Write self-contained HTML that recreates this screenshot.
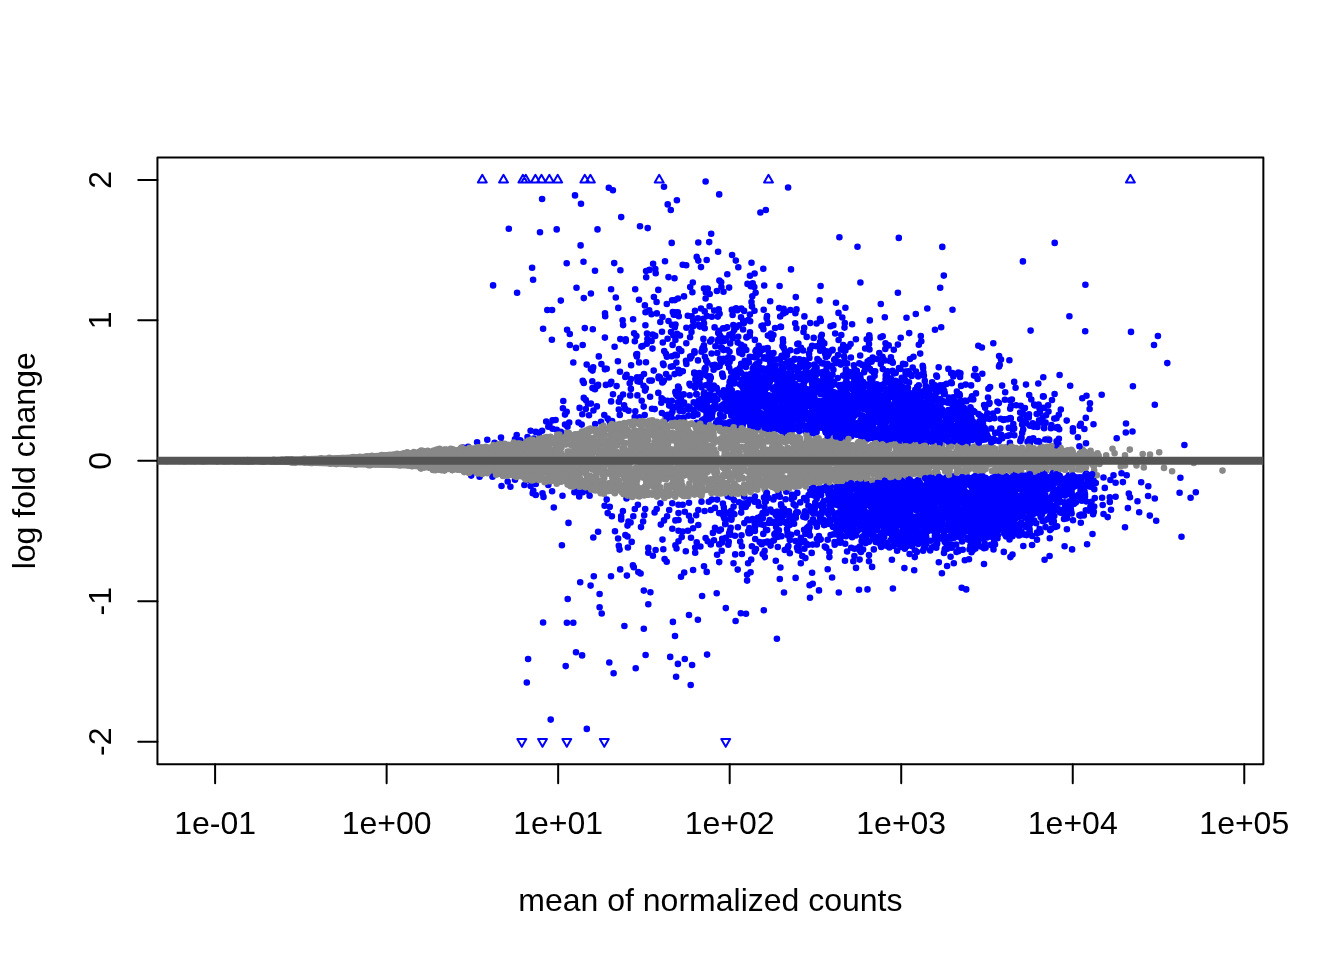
<!DOCTYPE html>
<html lang="en"><head><meta charset="utf-8"><title>MA plot</title>
<style>html,body{margin:0;padding:0;background:#fff}svg{display:block;will-change:transform}
.g,.b{fill:none;stroke-width:6.6;stroke-linecap:round}.g{stroke:#888}.b{stroke:#00f}</style></head>
<body><svg width="1344" height="960" viewBox="0 0 1344 960">
<rect width="1344" height="960" fill="#fff"/>
<defs><clipPath id="c"><rect x="157.44" y="157.44" width="1105.92" height="606.72"/></clipPath></defs>
<g clip-path="url(#c)">
<polygon points="165.0,457.9 180.0,457.8 195.0,457.7 210.0,457.7 225.0,457.6 240.0,457.5 255.0,457.4 270.0,457.1 285.0,456.7 300.0,456.2 315.0,455.7 330.0,455.2 345.0,454.7 360.0,454.1 375.0,453.0 390.0,451.8 405.0,450.6 420.0,449.5 435.0,448.5 450.0,447.5 465.0,446.4 480.0,445.3 495.0,444.2 510.0,442.2 525.0,439.9 540.0,437.5 540.0,482.0 525.0,479.9 510.0,477.7 495.0,475.7 480.0,474.4 465.0,473.1 450.0,471.8 435.0,470.6 420.0,469.4 405.0,468.5 390.0,468.1 375.0,467.7 360.0,467.4 345.0,466.9 330.0,466.4 315.0,465.9 300.0,465.4 285.0,464.9 270.0,464.4 255.0,464.1 240.0,464.0 225.0,463.9 210.0,463.8 195.0,463.8 180.0,463.7 165.0,463.6" fill="#888"/>
<path class="g" d="M970.8 462.6h0M707.7 489.1h0M545.2 463.4h0M876.2 465.2h0M465.2 454.9h0M641.1 467.4h0M455.6 454.3h0M578.2 443.8h0M1076.7 457.7h0M819.0 458.3h0M642.0 489.3h0M897.7 444.5h0M554.3 464.1h0M881.6 460.2h0M792.4 442.2h0M633.0 483.9h0M612.4 477.9h0M795.8 460.2h0M753.3 468.5h0M840.7 461.7h0M722.9 462.7h0M881.0 449.0h0M775.0 487.9h0M569.8 451.5h0M678.1 449.0h0M251.0 460.8h0M1007.0 457.2h0M778.8 484.8h0M304.9 461.9h0M668.5 486.2h0M779.5 445.4h0M779.4 455.7h0M865.5 479.8h0M866.4 468.1h0M626.3 463.8h0M653.6 458.1h0M770.5 480.3h0M618.6 480.4h0M455.8 458.3h0M484.4 463.2h0M920.1 453.6h0M712.0 479.6h0M918.5 453.1h0M975.9 465.3h0M912.6 450.0h0M964.4 463.4h0M858.4 444.7h0M822.6 442.6h0M734.5 446.8h0M963.4 473.1h0M602.0 481.1h0M589.8 457.7h0M356.5 461.4h0M732.8 444.9h0M800.5 466.8h0M988.5 451.4h0M797.0 476.0h0M685.5 462.9h0M694.8 466.5h0M1063.3 464.8h0M765.1 490.0h0M273.8 460.8h0M671.0 476.9h0M567.2 472.8h0M795.9 461.1h0M726.6 486.6h0M862.6 466.7h0M468.7 454.1h0M503.5 450.0h0M772.8 476.6h0M646.2 438.1h0M775.4 438.9h0M733.3 446.1h0M768.7 467.5h0M634.2 436.3h0M622.0 461.1h0M975.3 454.3h0M504.8 473.5h0M555.8 467.5h0M808.3 453.3h0M803.6 467.3h0M764.6 489.0h0M467.8 458.2h0M649.1 480.0h0M749.7 487.3h0M602.7 433.0h0M769.0 484.4h0M609.4 451.4h0M745.3 461.9h0M1009.8 454.9h0M668.7 461.8h0M596.4 442.8h0M989.4 452.2h0M665.9 453.4h0M551.7 452.8h0M495.1 459.5h0M680.3 491.7h0M814.5 450.3h0M542.7 447.5h0M524.4 443.5h0M454.4 457.5h0M765.3 453.4h0M496.1 449.2h0M353.7 461.3h0M1070.9 462.9h0M821.6 467.5h0M501.2 473.8h0M1025.5 457.3h0M902.9 454.5h0M312.1 460.9h0M807.7 465.8h0M1000.8 452.7h0M644.8 487.4h0M816.7 473.0h0M335.9 460.9h0M536.2 470.4h0M978.6 452.0h0M532.3 468.2h0M423.1 464.0h0M483.5 452.1h0M739.9 468.2h0M497.6 470.1h0M681.0 468.5h0M779.0 474.7h0M647.8 451.4h0M586.2 472.6h0M700.2 477.9h0M775.7 451.3h0M1043.5 452.7h0M711.1 487.5h0M1065.7 451.7h0M803.3 451.2h0M229.6 460.3h0M739.7 451.9h0M975.2 463.3h0M633.9 480.5h0M602.0 444.3h0M570.8 435.3h0M698.4 440.4h0M886.0 445.5h0M1222.5 470.6h0M496.8 473.4h0M483.5 455.8h0M807.3 480.1h0M626.2 435.3h0M588.9 467.3h0M1073.8 457.4h0M448.1 467.4h0M655.4 448.3h0M982.0 460.1h0M1072.5 457.1h0M606.3 452.0h0M170.8 460.8h0M935.5 472.0h0M715.3 477.3h0M845.4 473.1h0M962.3 448.2h0M790.7 465.6h0M963.0 453.6h0M848.4 466.4h0M653.6 432.2h0M665.9 475.1h0M439.0 456.0h0M979.6 462.7h0M914.3 472.0h0M612.2 486.6h0M555.4 447.7h0M856.6 464.1h0M508.4 472.9h0M747.4 463.4h0M746.4 455.0h0M930.0 466.5h0M630.7 454.2h0M595.6 480.8h0M532.0 451.3h0M574.7 435.3h0M532.7 466.4h0M494.8 472.9h0M665.8 478.1h0M658.9 449.6h0M969.0 457.8h0M886.6 455.3h0M873.1 465.1h0M259.9 461.1h0M461.7 460.5h0M628.6 434.4h0M826.8 481.3h0M792.8 436.3h0M236.2 460.8h0M363.9 458.5h0M930.1 453.8h0M659.7 444.4h0M352.8 463.1h0M702.3 442.7h0M852.9 458.1h0M1019.8 450.4h0M910.3 462.6h0M646.7 472.2h0M1047.0 446.8h0M994.9 460.6h0M471.6 465.2h0M635.7 435.5h0M751.2 451.8h0M589.0 450.2h0M725.4 446.5h0M887.9 465.4h0M839.8 470.7h0M897.9 468.0h0M603.1 489.5h0M708.2 446.6h0M484.9 458.6h0M470.2 453.0h0M846.5 480.7h0M716.9 464.1h0M622.8 492.6h0M932.2 454.8h0M973.1 460.1h0M554.9 449.9h0M760.9 452.9h0M792.3 466.6h0M502.9 473.1h0M1035.0 453.2h0M678.5 459.8h0M889.5 477.6h0M445.5 449.7h0M633.0 473.8h0M439.3 465.9h0M882.1 475.1h0M832.6 443.5h0M261.4 460.5h0M603.7 437.7h0M852.4 469.6h0M926.9 474.3h0M941.7 462.9h0M903.1 457.1h0M695.6 440.0h0M557.2 445.5h0M534.8 468.1h0M1073.8 461.5h0M718.4 478.4h0M715.0 441.8h0M615.6 441.1h0M622.3 454.3h0M862.7 462.6h0M917.7 462.2h0M1004.3 450.4h0M966.4 462.9h0M913.1 456.2h0M609.3 440.6h0M218.9 460.4h0M842.1 479.9h0M653.4 485.3h0M907.1 471.0h0M537.8 463.1h0M700.7 440.8h0M880.4 451.3h0M172.7 460.5h0M698.7 457.3h0M559.1 472.5h0M638.2 441.1h0M851.8 445.3h0M1036.6 466.3h0M835.3 449.2h0M777.3 440.7h0M889.2 448.7h0M896.4 448.3h0M620.4 433.5h0M856.6 451.4h0M927.8 467.3h0M459.5 464.5h0M1136.5 465.4h0M1033.3 463.9h0M1025.6 454.8h0M778.5 467.1h0M657.2 460.6h0M731.1 476.5h0M932.1 460.4h0M481.5 459.2h0M725.1 439.0h0M996.2 453.1h0M603.6 483.5h0M681.1 459.5h0M846.5 442.5h0M456.5 466.6h0M543.3 444.4h0M285.1 460.1h0M816.8 465.5h0M595.6 466.4h0M470.4 470.7h0M833.1 451.2h0M769.6 479.4h0M608.1 454.0h0M962.0 461.2h0M820.1 449.5h0M677.5 492.6h0M727.8 442.4h0M548.7 446.9h0M447.0 451.1h0M400.5 465.3h0M937.7 474.2h0M796.7 457.2h0M969.7 468.1h0M350.3 460.3h0M783.1 434.1h0M948.3 464.6h0M999.4 460.6h0M195.5 460.7h0M795.2 476.3h0M929.7 459.8h0M974.5 446.6h0M686.5 427.5h0M1013.5 460.6h0M989.4 449.0h0M491.7 467.6h0M871.3 458.5h0M1058.0 470.4h0M932.6 451.4h0M679.9 456.9h0M792.1 464.9h0M312.4 463.0h0M548.2 442.7h0M1067.3 461.6h0M764.7 450.5h0M187.1 460.4h0M423.4 465.9h0M692.7 454.5h0M548.6 453.3h0M1084.6 463.8h0M490.2 449.2h0M829.6 478.5h0M1057.9 458.8h0M755.6 462.2h0M636.5 468.2h0M617.7 436.0h0M550.0 461.5h0M721.9 428.3h0M820.7 441.9h0M467.2 458.1h0M963.8 470.7h0M752.0 463.7h0M1054.5 459.5h0M901.4 458.7h0M790.5 452.1h0M321.3 461.3h0M785.3 439.1h0M491.0 460.7h0M735.5 468.2h0M1020.7 450.9h0M479.8 461.2h0M768.4 475.0h0M566.5 457.0h0M1039.2 469.8h0M1046.6 449.3h0M498.3 452.6h0M631.5 454.4h0M867.2 446.8h0M979.2 464.6h0M645.1 471.7h0M862.2 460.8h0M497.5 474.0h0M276.2 460.7h0M635.2 471.1h0M883.4 474.5h0M793.8 439.3h0M1007.9 462.1h0M840.1 474.2h0M456.0 453.3h0M785.1 467.1h0M598.1 481.7h0M489.1 465.6h0M815.6 438.9h0M702.2 467.6h0M897.8 451.8h0M1059.1 455.5h0M534.5 455.2h0M394.9 462.3h0M528.0 448.0h0M665.6 461.1h0M1094.2 470.6h0M995.3 468.5h0M442.6 460.3h0M482.0 470.9h0M790.9 473.4h0M769.4 452.8h0M805.4 463.7h0M499.9 445.4h0M803.3 476.7h0M1012.0 447.3h0M777.5 485.3h0M810.2 481.2h0M1055.2 465.3h0M836.2 453.9h0M483.1 469.5h0M701.1 484.4h0M840.7 462.7h0M564.5 474.9h0M829.1 467.3h0M554.0 457.2h0M392.7 456.1h0M474.3 463.9h0M1056.3 466.5h0M731.2 475.8h0M629.5 480.1h0M339.3 458.4h0M786.3 465.7h0M472.1 461.8h0M716.3 477.7h0M976.1 457.8h0M512.1 457.8h0M786.1 483.8h0M799.2 471.4h0M829.9 442.1h0M524.6 468.6h0M827.9 455.6h0M843.7 472.4h0M1035.6 470.8h0M740.8 489.2h0M571.6 459.2h0M490.3 458.1h0M514.2 473.4h0M597.8 482.6h0M848.8 457.4h0M310.6 463.0h0M1036.0 470.0h0M660.0 426.4h0M921.4 449.9h0M940.4 445.6h0M399.1 464.0h0M883.2 464.0h0M771.2 458.2h0M742.7 466.5h0M1053.7 466.2h0M1016.2 454.7h0M457.1 469.6h0M776.7 474.0h0M866.4 465.2h0M534.4 447.7h0M872.5 472.0h0M756.4 469.6h0M475.3 453.6h0M1043.6 462.7h0M571.7 453.5h0M663.6 428.2h0M513.8 464.4h0M1041.4 446.5h0M760.4 485.2h0M703.1 467.5h0M838.8 442.5h0M756.9 466.6h0M647.6 461.3h0M1052.7 459.9h0M217.3 460.6h0M379.3 464.2h0M764.5 467.7h0M1047.9 438.8h0M922.9 476.7h0M460.6 462.2h0M945.2 450.7h0M676.7 481.8h0M789.6 452.0h0M1091.1 458.0h0M460.1 461.0h0M969.6 461.1h0M665.4 493.6h0M741.2 446.9h0M720.4 426.8h0M594.9 480.8h0M492.6 458.1h0M904.7 453.5h0M687.2 442.7h0M392.1 463.1h0M1016.1 459.1h0M824.8 479.8h0M644.6 490.2h0M1015.8 454.5h0M648.1 423.0h0M759.7 469.6h0M802.7 455.3h0M786.5 480.6h0M684.9 439.2h0M662.5 435.6h0M611.3 439.8h0M593.9 478.7h0M846.1 468.6h0M785.5 440.4h0M783.8 452.1h0M647.4 481.5h0M763.3 483.2h0M581.3 454.1h0M996.4 453.7h0M859.2 453.9h0M760.6 444.2h0M576.4 472.3h0M997.2 472.5h0M438.0 459.8h0M797.0 476.0h0M614.9 458.1h0M694.0 455.8h0M886.6 450.4h0M624.1 432.3h0M647.6 471.0h0M789.0 455.2h0M1035.7 458.9h0M859.5 466.5h0M788.8 489.0h0M684.3 421.0h0M655.3 430.4h0M544.7 452.9h0M1061.3 461.9h0M462.6 452.9h0M843.0 450.1h0M905.8 476.6h0M647.9 477.5h0M702.1 487.4h0M558.5 451.6h0M731.6 436.7h0M369.1 460.3h0M592.4 453.8h0M922.5 473.2h0M1055.2 465.0h0M272.0 461.6h0M548.6 472.5h0M359.5 463.0h0M900.6 449.5h0M750.6 432.7h0M649.7 462.4h0M664.9 445.7h0M819.3 482.9h0M832.0 456.7h0M651.0 493.7h0M959.8 456.7h0M1028.3 449.6h0M602.4 480.6h0M653.1 452.8h0M451.1 466.7h0M979.0 446.3h0M863.9 466.9h0M246.4 460.2h0M1004.9 462.2h0M541.3 460.3h0M588.1 487.1h0M617.1 445.3h0M506.7 472.0h0M677.2 460.9h0M747.3 487.3h0M498.1 459.7h0M800.5 444.0h0M348.4 463.4h0M550.5 451.1h0M782.3 470.9h0M637.2 461.4h0M754.1 436.5h0M583.2 452.2h0M303.8 460.7h0M444.3 464.0h0M653.9 487.3h0M516.9 475.5h0M480.7 465.4h0M755.0 468.7h0M260.3 460.2h0M876.8 442.6h0M821.2 451.2h0M666.8 485.6h0M943.4 456.4h0M519.3 463.7h0M273.6 461.0h0M865.4 462.1h0M731.8 461.8h0M770.4 462.9h0M596.2 459.2h0M853.2 473.9h0M827.6 476.4h0M160.9 460.7h0M865.6 474.3h0M1038.3 464.7h0M678.8 448.0h0M696.8 476.4h0M453.3 461.7h0M464.2 467.7h0M983.7 463.6h0M377.5 459.6h0M487.4 468.3h0M668.9 439.6h0M383.5 457.7h0M760.3 468.2h0M667.3 442.3h0M784.1 463.3h0M813.4 479.2h0"/>
<path class="b" d="M852.9 509.8h0M971.9 423.5h0M763.8 383.0h0M962.5 498.9h0M815.4 414.5h0M968.9 497.7h0M493.1 285.4h0M725.2 524.1h0M816.9 526.7h0M944.1 514.1h0M922.3 521.9h0M1028.8 417.4h0M900.3 505.8h0M784.3 417.4h0M883.2 399.3h0M912.9 416.8h0M929.0 388.4h0M776.2 374.5h0M738.9 412.5h0M913.3 438.8h0M870.7 421.6h0M747.7 362.1h0M715.5 404.6h0M949.8 513.7h0M931.1 489.2h0M942.2 400.8h0M823.1 375.8h0M943.9 413.8h0M854.4 548.8h0M924.9 527.7h0M771.4 424.4h0M886.2 542.8h0M839.4 497.7h0M930.5 481.3h0M823.7 387.6h0M938.0 421.9h0M683.0 418.5h0M690.5 385.5h0M543.1 622.5h0M678.5 504.8h0M979.5 430.6h0M969.1 417.1h0M896.1 540.8h0M775.9 515.0h0M904.6 506.6h0M949.4 504.8h0M829.8 492.9h0M827.5 423.5h0M925.2 546.3h0M625.4 535.0h0M904.4 568.1h0M894.0 535.4h0M722.0 348.1h0M851.1 397.9h0M931.3 492.9h0M941.0 519.7h0M1020.3 441.1h0M911.9 522.7h0M661.6 398.2h0M875.3 406.4h0M942.2 519.3h0M925.5 491.8h0M1021.1 476.8h0M787.0 352.9h0M1064.5 502.2h0M986.4 431.7h0M1034.4 488.9h0M938.3 521.6h0M885.5 485.5h0M1018.1 509.5h0M1025.1 483.2h0M944.0 495.8h0M918.5 482.4h0M831.7 432.7h0M1042.8 498.0h0M867.3 403.7h0M678.5 541.2h0M1081.5 477.8h0M949.6 546.5h0M814.4 397.4h0M1026.2 491.3h0M813.6 404.9h0M855.7 413.1h0M883.7 528.8h0M1069.4 501.3h0M909.4 498.5h0M947.9 530.0h0M1015.7 477.2h0M747.1 398.6h0M838.7 420.4h0M680.0 335.5h0M747.1 580.6h0M909.8 535.3h0M1032.7 494.8h0M940.5 416.0h0M698.3 260.6h0M822.1 341.1h0M780.9 401.6h0M891.0 482.1h0M797.1 413.5h0M968.3 513.0h0M920.6 525.0h0M758.8 505.8h0M917.3 387.1h0M1054.8 492.3h0M768.2 382.0h0M942.4 486.2h0M684.1 404.6h0M936.7 389.3h0M949.5 538.3h0M877.0 359.0h0M816.1 432.3h0M861.9 416.4h0M780.5 429.0h0M814.8 508.3h0M898.1 494.2h0M938.4 511.7h0M815.7 385.5h0M796.5 351.2h0M984.1 506.4h0M918.3 506.6h0M867.0 495.4h0M941.4 522.8h0M614.6 346.8h0M745.8 413.0h0M831.2 507.0h0M987.1 435.0h0M1025.0 517.6h0M882.3 532.7h0M852.9 389.5h0M645.2 509.0h0M1045.7 486.9h0M939.7 424.4h0M897.0 421.1h0M837.5 414.9h0M722.9 514.2h0M788.1 417.9h0M1060.9 502.0h0M873.8 505.6h0M682.8 371.2h0M1180.4 477.7h0M879.9 411.8h0M995.4 524.0h0M970.4 540.3h0M981.2 537.9h0M901.7 418.4h0M688.4 415.8h0M765.7 428.4h0M769.9 379.7h0M840.8 501.3h0M905.9 537.0h0M714.1 395.9h0M626.5 498.5h0M1087.0 476.0h0M894.8 522.3h0M1039.2 477.7h0M806.2 416.4h0M914.2 487.5h0M946.2 429.1h0M890.9 504.9h0M757.5 424.2h0M861.1 510.8h0M957.0 411.3h0M959.9 439.5h0M1126.7 475.2h0M969.0 498.2h0M709.7 413.1h0M855.5 523.0h0M913.8 534.2h0M786.6 379.6h0M938.6 491.8h0M955.0 523.8h0M1025.5 481.5h0M829.5 394.4h0M923.2 512.2h0M981.8 417.0h0M978.6 523.0h0M1181.5 536.7h0M1059.6 375.0h0M955.0 506.4h0M879.6 523.6h0M1195.8 492.3h0M710.4 415.4h0M901.7 505.6h0M894.2 439.0h0M719.6 366.2h0M936.3 487.1h0M782.6 389.4h0M902.4 425.1h0M762.7 369.8h0M793.4 420.2h0M894.9 503.1h0M787.8 418.2h0M876.3 490.1h0M816.6 431.9h0M1044.5 520.7h0M875.8 489.4h0M746.7 376.7h0M849.9 494.3h0M1015.1 480.6h0M793.8 369.7h0M914.9 441.9h0M766.8 412.3h0M712.4 365.3h0M942.0 487.2h0M999.7 490.7h0M892.2 425.7h0M881.2 546.9h0M862.2 488.2h0M818.9 536.1h0M967.6 411.6h0M926.1 504.2h0M951.0 495.0h0M1017.2 488.2h0M851.5 513.9h0M773.9 399.6h0M812.7 583.8h0M933.8 481.5h0M1032.8 423.2h0M916.1 428.2h0M901.0 500.5h0M945.9 517.7h0M897.1 434.9h0M891.4 479.9h0M918.6 409.1h0M789.9 381.2h0M1066.8 491.6h0M1005.3 479.4h0M799.2 400.3h0M885.8 415.4h0M953.0 432.7h0M748.2 404.3h0M843.2 522.3h0M882.7 336.2h0M899.0 409.7h0M744.2 400.7h0M910.8 529.8h0M957.1 498.4h0M749.4 413.0h0M912.7 521.3h0M875.5 393.1h0M645.8 388.3h0M779.8 515.3h0M930.9 491.4h0M903.9 409.6h0M827.1 419.0h0M875.9 393.1h0M725.7 393.6h0M1002.8 495.9h0M956.1 410.5h0M955.9 530.7h0M952.5 523.3h0M922.8 418.3h0M972.5 497.8h0M1154.8 404.8h0M727.9 397.9h0M1149.8 515.6h0M841.4 492.9h0M1039.4 492.3h0M1010.4 557.1h0M914.3 481.8h0M794.3 367.1h0M533.1 279.8h0M880.1 489.3h0M999.6 504.8h0M1042.9 495.3h0M952.9 511.3h0M978.2 480.8h0M799.2 421.2h0M894.1 543.4h0M961.7 441.2h0M756.5 364.0h0M915.8 314.0h0M975.8 508.9h0M735.0 535.8h0M871.2 430.6h0M817.5 426.1h0M948.4 496.8h0M889.5 435.0h0M1042.1 513.7h0M1064.4 489.7h0M1058.4 444.0h0M987.2 496.0h0M692.8 282.5h0M903.2 388.3h0M905.4 498.5h0M590.9 403.6h0M916.5 484.2h0M905.2 481.6h0M805.4 558.1h0M962.7 500.4h0M813.4 410.7h0M872.0 484.7h0M954.9 537.2h0M1005.5 476.1h0M781.7 368.7h0M1065.0 495.6h0M849.5 419.0h0M923.9 519.6h0M732.0 396.5h0M845.8 372.6h0M810.5 490.8h0M920.9 415.5h0M993.0 496.0h0M978.1 513.3h0M1090.0 403.3h0M765.8 210.0h0M783.3 397.9h0M777.7 376.3h0M806.5 418.2h0M797.3 344.0h0M941.8 440.7h0M750.1 423.2h0M863.5 507.2h0M830.1 502.4h0M1039.1 422.2h0M906.5 402.3h0M974.3 506.7h0M1026.6 491.4h0M845.0 560.8h0M845.9 406.5h0M1027.5 441.7h0M1028.5 520.7h0M882.8 505.4h0M746.6 390.3h0M1121.5 473.3h0M763.8 610.2h0M873.6 402.3h0M898.8 516.9h0M909.9 403.7h0M767.8 418.6h0M833.3 494.2h0M909.0 496.4h0M912.9 435.5h0M849.3 405.0h0M715.4 400.5h0M1038.9 492.1h0M850.6 408.4h0M920.9 409.9h0M918.2 479.9h0M834.6 513.6h0M993.1 493.3h0M769.2 424.1h0M797.5 427.4h0M906.9 422.7h0M915.4 406.6h0M995.3 532.8h0M944.1 385.1h0M890.1 393.9h0M883.3 431.0h0M947.1 566.0h0M920.4 417.8h0M724.4 518.5h0M576.0 652.3h0M902.1 537.1h0M551.9 339.8h0M740.8 613.3h0M898.8 509.0h0M552.1 310.0h0M804.4 316.4h0M867.4 398.0h0M1048.1 405.3h0M1051.2 528.7h0M915.8 426.5h0M784.0 402.7h0M921.0 398.8h0M922.8 488.1h0M908.6 415.1h0M787.9 414.1h0M948.2 512.7h0M902.0 408.8h0M894.3 540.9h0M1003.8 526.9h0M597.3 386.0h0M974.4 541.5h0M943.9 511.4h0M991.6 482.2h0M782.1 404.6h0M663.6 365.1h0M1020.2 412.6h0M775.1 421.9h0M1071.6 493.4h0M804.4 513.8h0M849.9 419.2h0M951.3 430.5h0M812.1 572.7h0M815.0 428.5h0M1070.7 508.6h0M882.1 418.0h0M864.0 509.0h0M877.6 503.1h0M670.8 210.0h0M779.8 579.0h0M880.3 417.0h0M905.1 400.4h0M947.2 481.5h0M823.3 402.9h0M923.8 548.8h0M876.6 496.7h0M914.2 433.6h0M932.9 401.3h0M939.9 422.6h0M764.2 285.5h0M757.1 370.7h0M860.3 515.0h0M942.3 246.9h0M917.3 501.7h0M904.8 548.8h0M589.0 415.2h0M880.8 494.0h0M926.2 537.0h0M1037.2 533.2h0M766.6 407.0h0M888.1 493.0h0M1053.0 493.6h0M929.3 504.8h0M963.9 529.7h0M950.7 487.7h0M868.1 521.8h0M664.6 559.0h0M813.6 491.7h0M925.0 436.3h0M866.9 486.5h0M757.9 517.7h0M754.2 388.5h0M852.1 426.2h0M841.7 418.6h0M873.5 416.9h0M819.1 413.8h0M961.4 489.5h0M946.2 543.2h0M975.2 369.1h0M1000.3 428.6h0M806.9 377.0h0M809.4 357.9h0M902.4 414.0h0M853.6 521.5h0M704.7 328.3h0M962.4 517.9h0M999.9 511.6h0M682.7 531.5h0M587.9 403.8h0M986.7 495.4h0M764.3 382.5h0M765.8 501.4h0M1050.5 516.2h0M897.8 525.4h0M976.0 393.4h0M733.6 408.4h0M756.8 394.4h0M683.4 417.5h0M859.2 502.4h0M684.8 659.0h0M1000.8 488.6h0M1042.7 511.3h0M707.7 541.2h0M695.4 379.7h0M910.0 516.4h0M878.6 523.2h0M961.7 587.7h0M671.8 356.2h0M1019.1 535.5h0M789.3 417.4h0M883.7 496.8h0M1156.2 520.8h0M611.0 576.2h0M711.2 233.8h0M838.8 592.5h0M985.5 494.8h0M895.4 506.4h0M627.5 525.6h0M978.6 485.0h0M931.9 421.3h0M1013.6 532.6h0M775.3 387.1h0M827.7 387.5h0M684.0 402.6h0M728.4 402.0h0M991.9 478.9h0M1086.0 473.4h0M933.9 527.4h0M619.8 414.9h0M888.0 401.8h0M745.7 401.7h0M981.2 495.0h0M819.5 420.6h0M1075.1 484.6h0M656.8 313.4h0M735.8 377.3h0M1007.8 479.4h0M830.4 420.9h0M894.3 496.8h0M958.2 488.5h0M777.2 413.6h0M867.7 406.5h0M914.5 440.5h0M911.1 509.9h0M989.0 507.5h0M804.4 548.8h0M704.9 356.8h0M743.0 423.3h0M859.1 485.8h0M970.9 500.7h0M928.7 393.3h0M980.5 415.9h0M877.4 542.3h0M1035.5 494.6h0M961.8 411.3h0M867.2 498.8h0M808.4 505.8h0M713.8 385.6h0M751.0 399.6h0M853.8 488.3h0M891.8 381.6h0M644.2 515.2h0M689.5 383.9h0M894.3 502.8h0M871.4 507.1h0M913.5 424.5h0M667.5 400.7h0M876.8 483.8h0M915.6 410.1h0M839.0 535.4h0M984.1 405.0h0M890.3 499.6h0M716.9 291.0h0M775.9 428.0h0M620.0 371.8h0M873.7 389.7h0M922.9 394.2h0M819.3 361.0h0M1065.5 478.5h0M855.1 383.8h0M1017.7 506.5h0M744.8 360.9h0M761.1 516.4h0M821.5 514.1h0M1069.6 480.4h0M971.8 509.2h0M939.3 486.6h0M901.2 419.4h0M1007.3 478.5h0M921.2 412.2h0M750.2 321.3h0M858.2 514.2h0M836.9 490.7h0M852.9 508.9h0M797.6 393.8h0M974.5 411.8h0M824.1 405.2h0M783.6 372.8h0M750.8 373.8h0M1102.1 497.7h0M947.1 548.8h0M731.1 510.9h0M568.5 522.9h0M749.1 520.3h0M767.6 498.1h0M851.0 427.6h0M881.9 509.8h0M937.1 489.9h0M937.1 417.5h0M939.5 412.8h0M994.0 502.9h0M1060.0 510.9h0M792.2 386.2h0M909.8 373.9h0M974.3 492.2h0M892.0 490.4h0M749.5 393.7h0M940.2 405.3h0M870.3 516.9h0M940.2 287.7h0M827.1 402.7h0M639.4 417.2h0M1044.7 486.7h0M1095.8 483.1h0M864.5 425.2h0M827.1 406.9h0M919.2 432.2h0M920.7 534.1h0M985.2 482.4h0M813.7 414.4h0M990.1 484.0h0M799.0 399.8h0M936.1 513.0h0M821.7 427.7h0M815.7 495.8h0M980.5 500.5h0M832.2 381.6h0M971.1 417.0h0M988.0 397.5h0M799.4 408.2h0M845.4 424.0h0M869.7 360.1h0M943.7 535.9h0M815.7 491.8h0M585.8 409.0h0M884.5 405.5h0M757.8 403.5h0M780.6 517.0h0M1029.7 532.8h0M924.8 380.9h0M878.7 494.7h0M1023.0 476.8h0M882.5 492.9h0M1007.3 495.1h0M725.1 423.3h0M905.6 371.5h0M851.3 494.8h0M1001.2 529.0h0M1002.2 510.1h0M623.1 325.1h0M641.1 377.0h0M794.4 359.7h0M990.0 498.0h0M932.5 486.0h0M815.5 388.8h0M1006.3 522.9h0M887.5 397.0h0M723.8 507.3h0M725.8 608.1h0M903.0 489.2h0M870.4 434.8h0M782.9 339.2h0M1009.3 517.6h0M847.1 399.7h0M679.6 410.8h0M943.7 429.7h0M755.8 410.6h0M948.1 483.9h0M891.1 510.9h0M909.3 426.6h0M515.0 479.8h0M897.4 487.2h0M590.9 293.5h0M913.6 440.1h0M1084.5 491.2h0M749.4 528.1h0M837.2 505.0h0M993.0 537.2h0M896.3 393.8h0M1024.2 525.6h0M1001.3 502.3h0M754.5 401.3h0M914.3 507.5h0M823.5 390.5h0M960.7 428.7h0M879.2 505.5h0M1041.8 504.5h0M743.6 408.9h0M849.1 520.7h0M995.9 515.2h0M993.3 440.9h0M803.5 332.0h0M759.6 542.1h0M838.3 485.7h0M891.5 489.2h0M926.5 506.1h0M643.5 385.7h0M1091.9 476.3h0M790.5 392.1h0M903.6 499.3h0M839.7 496.2h0M788.4 511.2h0M1004.2 533.5h0M1056.1 427.8h0M874.2 515.4h0M882.0 521.0h0M907.3 544.1h0M712.9 532.9h0M831.7 365.9h0M938.7 403.6h0M1038.6 404.5h0M734.4 406.5h0M928.4 416.0h0M1063.2 480.5h0M952.4 373.1h0M914.5 490.5h0M899.5 492.2h0M784.3 422.7h0M592.8 329.2h0M1002.5 499.1h0M1023.0 486.6h0M829.2 509.5h0M914.6 488.6h0M968.7 523.0h0M983.0 526.0h0M1011.5 504.0h0M962.3 478.5h0M728.2 425.5h0M922.4 517.3h0M794.8 420.7h0M1016.2 405.2h0M560.8 300.6h0M530.6 430.8h0M725.8 537.9h0M906.8 426.8h0M1004.2 519.1h0M935.8 414.2h0M935.5 418.9h0M876.9 409.7h0M930.7 510.4h0M1037.0 539.7h0M737.9 527.2h0M770.0 381.5h0M702.3 420.5h0M563.3 401.0h0M974.2 498.3h0M870.3 402.1h0M743.0 400.5h0M729.8 387.1h0M960.7 405.5h0M845.4 514.1h0M955.1 531.4h0M567.7 599.0h0M918.4 402.0h0M804.3 404.4h0M839.5 404.7h0M945.5 499.8h0M930.5 482.5h0M923.9 499.3h0M737.2 421.5h0M870.3 408.2h0M690.2 287.0h0M550.7 719.6h0M611.9 516.2h0M667.6 338.7h0M767.2 387.3h0M796.0 513.8h0M988.0 495.5h0M787.7 547.7h0M951.8 477.8h0M908.2 516.6h0M914.5 394.3h0M746.4 374.7h0M796.6 412.5h0M939.3 433.7h0M919.1 541.3h0M845.4 350.6h0M769.4 379.0h0M949.1 491.2h0M920.2 509.2h0M880.3 397.6h0M741.3 373.1h0M1074.3 496.2h0M845.9 369.4h0M978.5 539.2h0M898.3 489.8h0M881.9 487.3h0M877.7 412.1h0M950.1 519.2h0M888.6 528.0h0M970.3 411.8h0M912.5 490.5h0M797.5 350.8h0M917.1 516.5h0M981.2 478.1h0M897.7 499.5h0M1109.8 501.9h0M633.3 516.2h0M760.0 406.0h0M833.5 534.2h0M918.7 394.1h0M839.6 396.5h0M970.9 436.7h0M722.7 423.2h0M727.8 398.3h0M939.6 481.8h0M884.0 499.8h0M952.2 518.7h0M1005.9 532.2h0M1043.7 508.5h0M793.5 416.2h0M693.2 326.3h0M957.8 425.2h0M842.6 506.6h0M1026.5 475.7h0M597.7 385.7h0M1018.4 505.0h0M1072.5 496.8h0M1054.3 418.6h0M861.4 437.6h0M887.0 373.3h0M788.3 405.1h0M679.6 373.2h0M867.0 432.3h0M748.7 413.3h0M913.1 517.7h0M980.3 515.8h0M914.0 528.4h0M851.6 416.4h0M916.4 402.1h0M998.1 520.7h0M885.0 389.9h0M1015.3 489.5h0M915.5 535.0h0M907.0 484.9h0M769.1 398.4h0M743.2 388.4h0M976.6 483.4h0M987.7 479.3h0M946.1 482.8h0M813.7 428.5h0M761.7 429.8h0M967.2 503.9h0M835.3 534.3h0M636.3 354.6h0M886.7 421.4h0"/>
<path class="g" d="M731.4 441.0h0M644.8 472.1h0M500.6 455.6h0M738.9 487.7h0M668.4 473.8h0M788.0 460.4h0M643.0 431.9h0M766.0 460.3h0M765.9 475.4h0M635.8 456.2h0M309.7 459.2h0M1009.2 457.9h0M519.4 453.2h0M593.3 447.0h0M749.4 446.8h0M469.0 469.3h0M717.3 482.0h0M532.8 442.2h0M879.4 466.5h0M1014.4 450.9h0M807.4 470.8h0M739.0 478.2h0M976.5 466.3h0M1075.9 462.3h0M981.2 453.8h0M1055.5 470.9h0M332.1 460.5h0M817.2 443.7h0M497.8 463.3h0M522.3 464.4h0M781.0 449.3h0M492.5 446.9h0M651.0 466.3h0M375.3 459.2h0M622.8 490.0h0M964.9 449.4h0M769.5 438.8h0M383.8 461.0h0M642.1 464.7h0M679.8 460.5h0M657.6 460.6h0M717.0 472.3h0M916.8 447.6h0M992.0 458.0h0M864.2 457.2h0M617.8 441.7h0M938.1 464.5h0M866.7 458.5h0M913.9 456.2h0M376.7 461.9h0M1032.4 464.1h0M531.2 468.2h0M224.6 461.3h0M601.0 457.7h0M865.0 473.8h0M777.4 487.8h0M758.6 469.4h0M894.9 455.9h0M707.1 472.2h0M755.1 485.0h0M1053.4 471.7h0M1059.8 460.7h0M696.8 482.2h0M616.6 442.3h0M531.0 464.6h0M561.5 447.5h0M944.0 457.9h0M529.8 441.7h0M559.2 454.3h0M1072.3 451.3h0M710.1 435.4h0M927.5 448.0h0M788.9 464.0h0M400.5 456.4h0M867.9 461.3h0M930.8 456.7h0M696.1 493.6h0M894.3 465.5h0M527.3 452.4h0M187.0 460.9h0M445.6 464.5h0M745.2 490.1h0M822.3 455.2h0M566.3 459.8h0M958.1 465.8h0M1018.4 462.8h0M459.5 461.8h0M517.8 457.4h0M514.9 470.0h0M541.1 475.6h0M642.5 434.5h0M724.2 437.7h0M920.4 446.1h0M675.2 496.7h0M161.5 460.8h0M752.8 452.4h0M576.9 460.9h0M876.2 468.3h0M807.9 450.3h0M1026.9 460.8h0M950.9 465.2h0M1008.2 452.9h0M937.6 450.4h0M701.8 491.5h0M362.4 457.5h0M684.6 474.6h0M882.7 448.0h0M776.8 452.2h0M544.2 457.1h0M899.9 476.4h0M862.3 449.6h0M440.3 457.2h0M664.9 470.0h0M1034.5 450.1h0M652.4 420.2h0M563.6 480.3h0M598.0 446.8h0M778.5 489.1h0M837.5 479.3h0M417.2 460.9h0M1016.1 448.0h0M1027.3 464.9h0M388.8 459.7h0M651.0 461.7h0M630.3 480.5h0M1038.4 463.0h0M472.6 449.4h0M919.1 458.0h0M563.4 462.3h0M641.7 457.5h0M353.9 457.6h0M230.8 460.5h0M982.6 471.6h0M778.3 475.5h0M848.3 480.6h0M604.3 438.1h0M551.1 450.2h0M844.2 481.2h0M1051.9 467.3h0M828.5 453.5h0M480.4 469.3h0M762.2 480.8h0M584.6 481.4h0M430.5 456.9h0M977.5 462.4h0M588.7 465.0h0M978.3 457.7h0M689.3 465.3h0M918.9 462.4h0M787.1 466.0h0M730.8 473.5h0M885.6 445.5h0M589.5 437.9h0M455.6 466.6h0M272.0 460.3h0M957.5 447.3h0M811.1 458.0h0M625.9 484.1h0M454.3 457.9h0M1045.9 461.4h0M938.8 463.2h0M681.4 481.6h0M542.5 463.1h0M546.1 440.9h0M675.4 472.8h0M888.3 452.8h0M942.7 460.7h0M529.7 465.6h0M875.6 461.4h0M464.3 462.5h0M693.9 466.1h0M638.4 456.4h0M768.3 433.3h0M739.0 430.1h0M1062.9 450.9h0M733.0 449.2h0M879.3 468.0h0M791.1 451.4h0M461.8 463.2h0M667.0 435.9h0M930.6 456.5h0M939.5 455.9h0M703.6 473.0h0M836.2 468.8h0M321.0 458.2h0M645.8 436.3h0M945.7 466.3h0M548.1 440.4h0M659.0 453.0h0M996.4 463.7h0M1093.9 461.3h0M942.3 445.2h0M931.3 453.1h0M523.9 442.6h0M812.0 452.1h0M551.2 480.8h0M537.8 458.9h0M559.2 455.7h0M912.0 473.9h0M779.9 453.8h0M661.0 430.6h0M293.3 461.1h0M1072.7 451.8h0M874.1 457.8h0M719.5 462.1h0M464.9 455.6h0M511.0 471.2h0M1079.3 466.4h0M693.9 467.9h0M699.2 471.3h0M920.3 450.4h0M808.3 442.3h0M1039.3 453.8h0M930.7 448.8h0M1012.4 459.6h0M827.0 473.5h0M614.2 481.9h0M685.9 443.0h0M727.7 485.7h0M772.3 446.6h0M904.8 454.4h0M1047.6 454.2h0M801.1 457.7h0M782.3 456.6h0M960.2 464.2h0M429.2 458.7h0M681.8 476.4h0M604.0 493.8h0M637.1 448.8h0M907.3 448.5h0M864.2 471.6h0M655.7 449.2h0M561.2 447.5h0M659.9 425.1h0M597.1 479.8h0M845.9 471.2h0M782.3 457.5h0M359.3 460.3h0M882.9 455.2h0M612.7 482.1h0M1019.2 466.2h0M692.4 472.6h0M450.9 462.5h0M811.8 468.0h0M647.1 466.1h0M553.3 479.9h0M664.5 491.7h0M1062.7 457.0h0M574.9 469.4h0M575.3 448.6h0M517.3 464.6h0M594.5 486.9h0M949.6 471.2h0M1020.4 455.2h0M578.9 449.0h0M760.1 452.7h0M683.8 472.1h0M826.8 482.1h0M338.1 458.3h0M672.6 475.1h0M655.5 482.8h0M966.3 451.0h0M570.6 444.8h0M387.6 461.1h0M664.2 443.6h0M975.1 469.2h0M938.8 462.2h0M667.2 429.4h0M1044.8 466.1h0M925.9 474.3h0M361.4 457.6h0M729.3 464.7h0M766.1 478.2h0M822.8 472.8h0M603.9 436.9h0M586.9 453.5h0M962.9 461.1h0M667.9 444.3h0M761.8 469.8h0M923.9 453.1h0M500.9 473.6h0M856.4 466.6h0M542.4 452.5h0M759.9 453.0h0M1056.0 465.2h0M575.8 470.9h0M1084.4 451.6h0M734.9 471.6h0M634.4 430.3h0M1053.9 456.1h0M994.1 462.9h0M402.4 462.5h0M762.0 442.9h0M478.2 457.5h0M591.3 476.7h0M540.1 444.0h0M754.4 479.1h0M870.6 462.5h0M588.8 455.0h0M520.1 453.2h0M1073.2 464.0h0M900.5 469.0h0M1037.2 457.9h0M1011.1 471.6h0M736.3 474.7h0M815.6 475.7h0M474.2 465.1h0M542.3 450.2h0M821.1 455.1h0M395.4 464.2h0M247.7 461.0h0M789.8 466.7h0M689.6 474.9h0M865.5 465.9h0M683.2 467.8h0M746.9 446.2h0M831.9 477.4h0M957.5 451.5h0M812.1 441.3h0M765.3 485.5h0M772.7 487.0h0M735.9 435.4h0M633.2 458.8h0M774.3 445.2h0M791.4 460.6h0M516.7 446.3h0M795.5 480.6h0M511.3 469.3h0M503.9 449.9h0M557.0 446.0h0M846.5 451.2h0M981.0 468.2h0M999.0 465.9h0M401.3 464.6h0M453.9 456.3h0M988.9 461.0h0M677.4 454.7h0M956.4 463.9h0M1070.4 467.3h0M986.4 462.4h0M848.9 464.5h0M699.6 483.7h0M1010.3 446.8h0M732.5 446.4h0M1060.3 461.6h0M595.5 466.8h0M1043.7 467.2h0M348.5 462.3h0M858.0 460.9h0M938.2 456.4h0M473.5 456.4h0M1031.0 458.8h0M771.3 463.8h0M732.9 454.3h0M992.6 459.8h0M895.3 445.2h0M673.2 457.5h0M903.4 453.5h0M938.3 450.1h0M793.4 481.1h0M797.5 442.7h0M771.5 486.3h0M822.9 446.1h0M575.1 477.1h0M587.5 449.7h0M1028.3 461.2h0M925.7 453.4h0M923.1 462.8h0M489.4 453.6h0M1041.3 455.8h0M589.8 460.7h0M781.0 483.4h0M878.5 474.4h0M817.1 479.1h0M720.4 483.8h0M708.8 434.2h0M797.5 475.0h0M726.3 450.1h0M800.3 449.3h0M798.7 460.7h0M468.0 462.4h0M967.7 461.2h0M661.2 451.9h0M608.5 483.2h0M792.2 467.5h0M1069.9 463.3h0M204.9 460.5h0M542.2 455.4h0M513.4 448.4h0M810.6 480.2h0M321.8 459.4h0M474.7 461.0h0M669.4 494.9h0M760.5 469.4h0M562.1 456.2h0M929.3 462.5h0M712.4 466.7h0M797.3 450.8h0M830.4 472.4h0M365.6 456.7h0M775.3 442.3h0M766.1 454.6h0M1060.3 458.5h0M677.1 444.0h0M489.0 458.5h0M554.0 460.3h0M517.4 453.1h0M655.2 455.6h0M904.3 449.1h0M713.3 431.8h0M758.9 479.5h0M899.9 459.0h0M974.7 461.0h0M748.3 461.3h0M700.1 462.5h0M715.1 481.3h0M445.1 453.2h0M879.6 468.8h0M822.4 445.8h0M703.3 477.3h0M1021.5 459.9h0M926.6 461.2h0M721.1 438.6h0M887.7 459.0h0M477.6 455.9h0M684.3 475.5h0M933.6 455.6h0M632.0 473.7h0M517.0 445.7h0M842.9 465.3h0M167.0 461.0h0M325.3 459.3h0M217.3 461.2h0M1125.0 455.4h0M1060.4 458.7h0M305.4 460.4h0M712.9 489.9h0M689.7 467.4h0M269.7 460.6h0M903.8 448.0h0M772.1 436.4h0M254.1 460.7h0M584.9 457.9h0M684.5 457.9h0M962.2 453.6h0M556.5 456.4h0M404.9 464.8h0M234.2 461.3h0M637.7 477.7h0M575.1 462.4h0M1037.3 454.8h0M1015.9 470.7h0M584.7 483.7h0M644.8 486.7h0M690.0 471.1h0M645.3 445.2h0M865.1 466.7h0M589.2 444.3h0M913.0 446.5h0M689.3 448.1h0M849.4 459.3h0M1019.2 467.9h0M881.8 460.2h0M1061.9 451.2h0M783.0 463.2h0M653.2 457.3h0M663.9 473.0h0M480.5 451.9h0M873.0 453.9h0M296.5 462.2h0M731.6 432.4h0M553.9 468.9h0M357.5 463.8h0M1006.9 447.5h0M680.6 453.7h0M953.3 460.8h0M970.9 461.8h0M998.4 462.6h0M467.0 463.3h0M608.7 457.3h0M371.7 456.6h0M390.6 458.9h0M481.2 455.6h0M747.8 460.1h0M847.9 465.8h0M693.2 473.8h0M672.5 432.7h0M498.1 457.0h0M684.9 491.1h0M839.4 452.5h0M790.6 473.9h0M653.8 460.8h0M572.4 482.0h0M606.4 450.2h0M1084.5 465.6h0M972.7 462.5h0M373.1 461.7h0M762.3 447.0h0M619.0 487.9h0M552.1 455.9h0M806.8 451.3h0M829.4 453.0h0M844.4 441.2h0M292.1 460.3h0M941.5 458.0h0M315.1 460.4h0M493.0 456.9h0M557.8 471.5h0M899.1 454.8h0M292.5 460.0h0M698.6 469.8h0M646.6 424.0h0M862.4 458.6h0M909.1 473.9h0M440.9 465.4h0M732.7 462.5h0M1057.3 453.2h0M522.5 464.4h0M808.7 442.5h0M567.3 472.3h0M407.6 462.6h0M921.4 455.3h0M782.7 485.7h0M610.0 465.1h0M1039.1 457.4h0M533.1 444.2h0M594.2 466.1h0M589.6 461.4h0M1150.0 454.6h0M1030.3 468.4h0M1026.6 454.7h0M394.9 463.1h0M539.6 452.7h0M508.0 451.6h0M472.7 471.2h0M924.8 469.8h0M573.2 466.5h0M822.2 469.5h0M846.0 440.7h0M610.7 452.5h0M650.3 471.0h0M720.6 481.9h0M409.7 457.1h0M622.7 449.1h0M236.6 461.1h0M703.7 447.1h0M808.4 464.7h0M529.0 466.8h0M812.0 468.2h0M715.8 460.8h0M894.6 467.8h0M774.1 481.3h0M1097.5 453.3h0M635.5 436.4h0M711.5 481.3h0M854.0 452.7h0M527.8 455.6h0M931.5 459.2h0M970.0 455.9h0M910.5 452.9h0M355.9 460.6h0M695.8 488.5h0M430.3 451.8h0M467.0 456.5h0M738.3 439.6h0M614.1 485.6h0M429.4 456.3h0M647.0 467.4h0M781.6 456.5h0M976.8 447.1h0M736.3 439.1h0M624.4 424.5h0M911.0 451.7h0M692.1 441.9h0M630.5 445.2h0M949.5 467.0h0M606.4 473.6h0M812.5 471.0h0M765.8 450.1h0M575.8 440.0h0M995.2 464.7h0M1007.8 459.9h0M797.9 463.1h0M763.6 455.1h0M819.9 451.6h0M700.5 452.1h0M494.4 470.4h0M715.4 485.0h0"/>
<path class="b" d="M856.6 495.5h0M1011.1 498.7h0M1021.6 503.7h0M1007.6 487.6h0M1032.3 498.6h0M849.7 534.3h0M881.4 387.2h0M610.0 384.1h0M586.7 364.6h0M946.4 486.9h0M831.0 394.5h0M773.8 540.4h0M932.9 420.9h0M764.5 507.3h0M871.6 370.7h0M937.9 416.0h0M988.4 533.2h0M969.4 439.9h0M973.9 477.0h0M937.2 416.4h0M771.6 355.9h0M751.7 388.5h0M900.4 496.2h0M1009.8 493.3h0M900.1 491.8h0M652.5 348.6h0M956.8 515.8h0M868.9 541.8h0M825.1 353.6h0M812.0 413.2h0M779.4 398.8h0M777.9 517.6h0M911.8 546.1h0M906.7 408.6h0M870.6 499.2h0M990.1 524.8h0M778.3 427.9h0M1014.1 510.1h0M908.9 508.8h0M1043.5 503.0h0M980.5 511.4h0M959.4 496.2h0M842.1 529.8h0M997.8 535.2h0M606.7 499.6h0M939.9 487.4h0M862.2 487.1h0M710.1 376.2h0M585.8 400.0h0M923.0 421.3h0M927.3 517.7h0M1011.8 484.9h0M593.2 367.4h0M1005.2 392.3h0M953.8 509.3h0M800.2 502.4h0M1093.8 511.7h0M965.9 516.6h0M938.4 421.0h0M672.3 528.8h0M1006.3 480.4h0M878.8 507.9h0M922.0 413.0h0M709.7 418.8h0M967.6 497.2h0M981.8 499.0h0M881.4 533.4h0M830.7 421.0h0M891.5 489.0h0M813.7 376.7h0M776.1 395.8h0M939.3 401.3h0M803.3 516.8h0M720.1 414.3h0M804.2 327.8h0M871.9 430.7h0M671.0 332.0h0M1018.6 484.1h0M1103.5 477.5h0M877.8 397.7h0M871.2 382.9h0M1084.4 429.0h0M961.0 521.1h0M604.6 505.8h0M824.0 426.2h0M755.9 376.1h0M791.1 393.9h0M897.1 482.6h0M849.3 372.1h0M863.3 425.0h0M639.0 299.8h0M860.8 498.4h0M972.3 488.5h0M802.1 411.8h0M1039.9 481.7h0M816.9 539.0h0M884.3 502.1h0M956.1 504.9h0M977.3 518.0h0M748.8 533.2h0M847.1 433.2h0M792.2 402.1h0M871.4 390.9h0M951.2 373.2h0M906.5 410.6h0M891.6 539.6h0M830.0 505.9h0M1013.7 481.1h0M1026.0 384.6h0M871.5 361.8h0M916.4 520.7h0M645.0 390.6h0M775.6 402.3h0M633.8 567.3h0M884.5 417.2h0M833.4 325.2h0M1072.3 484.0h0M689.7 395.3h0M718.2 332.9h0M755.2 539.0h0M964.3 512.7h0M1022.1 424.6h0M804.4 393.9h0M788.2 379.8h0M936.3 547.8h0M1028.6 504.2h0M887.2 404.8h0M797.0 547.6h0M908.0 432.2h0M955.7 525.9h0M780.3 394.0h0M906.9 510.4h0M827.8 513.0h0M865.7 409.5h0M909.7 429.2h0M736.4 373.5h0M743.9 401.0h0M777.8 547.0h0M741.3 308.6h0M899.8 382.5h0M817.0 380.7h0M838.4 405.3h0M754.4 357.2h0M941.6 423.1h0M740.2 541.5h0M969.4 507.6h0M754.7 423.3h0M789.8 539.9h0M744.4 504.2h0M932.5 497.1h0M1009.5 539.4h0M818.8 422.1h0M819.4 385.1h0M1137.5 501.2h0M927.3 308.5h0M802.0 391.1h0M857.8 493.4h0M697.1 406.0h0M1029.0 440.6h0M788.2 417.9h0M729.8 381.5h0M780.2 374.3h0M1064.2 482.9h0M897.9 292.7h0M849.5 431.8h0M884.1 527.3h0M592.3 381.2h0M854.4 380.3h0M910.0 426.7h0M797.8 369.8h0M1076.6 482.6h0M891.8 538.8h0M1021.2 506.0h0M727.1 405.6h0M862.5 509.2h0M892.7 436.7h0M935.1 539.6h0M752.9 375.5h0M860.2 399.3h0M1058.9 438.8h0M986.6 515.3h0M1052.6 476.8h0M1033.1 514.3h0M869.2 391.8h0M915.8 507.4h0M1072.9 431.5h0M784.1 408.7h0M827.6 416.5h0M985.0 516.9h0M956.4 515.1h0M973.3 519.3h0M760.4 379.4h0M987.8 499.9h0M972.0 495.5h0M777.6 424.2h0M637.4 395.4h0M881.6 503.8h0M902.9 403.7h0M1039.2 493.2h0M825.1 430.3h0M707.4 417.6h0M675.8 393.3h0M948.7 518.5h0M988.4 388.7h0M926.3 437.1h0M789.8 553.3h0M950.7 500.6h0M907.9 518.2h0M988.4 517.7h0M835.1 415.0h0M792.2 430.4h0M790.6 400.6h0M750.5 412.3h0M964.4 418.8h0M995.4 514.5h0M1003.5 528.9h0M885.9 399.4h0M826.7 381.1h0M1009.3 435.3h0M967.1 505.0h0M966.1 480.6h0M832.8 428.7h0M829.1 511.2h0M886.8 531.9h0M960.8 526.9h0M754.9 339.9h0M712.6 400.3h0M974.0 504.4h0M1003.8 551.9h0M969.7 525.4h0M932.1 395.6h0M953.9 417.3h0M1026.6 535.1h0M858.4 413.9h0M1008.2 515.3h0M983.3 535.0h0M946.1 430.7h0M887.4 485.5h0M628.6 410.7h0M838.5 502.0h0M1034.3 486.4h0M846.0 536.2h0M983.3 526.5h0M686.0 360.9h0M680.9 397.5h0M799.0 390.5h0M677.8 312.2h0M773.8 424.2h0M775.7 369.9h0M806.7 426.3h0M935.9 425.2h0M593.4 410.5h0M930.7 419.5h0M832.1 496.6h0M914.5 526.5h0M944.1 394.3h0M783.4 423.5h0M828.6 386.9h0M967.9 531.1h0M856.6 432.8h0M1036.0 483.9h0M618.8 409.5h0M858.3 506.8h0M854.1 487.4h0M812.3 399.5h0M951.2 505.1h0M971.3 526.7h0M890.0 515.2h0M775.1 389.7h0M888.4 394.3h0M735.6 621.0h0M730.6 534.7h0M921.2 424.8h0M957.2 507.1h0M800.8 542.5h0M1001.7 493.7h0M685.8 551.2h0M854.4 511.5h0M1016.3 495.5h0M862.3 528.7h0M859.2 529.6h0M722.4 375.0h0M928.2 518.4h0M1032.2 536.0h0M850.9 357.5h0M1080.8 522.7h0M714.2 310.6h0M887.6 505.1h0M869.6 338.8h0M1040.1 481.7h0M702.8 406.1h0M920.8 493.6h0M859.5 403.7h0M1067.4 481.7h0M929.8 497.8h0M938.2 486.0h0M902.4 504.0h0M696.7 256.9h0M875.6 510.1h0M1045.3 481.4h0M826.2 377.1h0M920.9 437.9h0M1071.2 495.0h0M820.8 419.4h0M982.2 428.8h0M644.0 374.0h0M891.6 483.5h0M905.7 485.1h0M998.3 491.6h0M891.2 517.3h0M914.9 550.2h0M916.1 504.6h0M765.0 382.8h0M986.1 493.6h0M941.2 327.3h0M995.2 498.8h0M808.6 404.9h0M775.2 521.5h0M771.8 338.9h0M800.0 367.6h0M881.0 398.1h0M750.4 426.2h0M870.0 378.5h0M1027.5 481.0h0M730.2 343.4h0M595.0 389.2h0M1065.1 506.7h0M620.3 339.1h0M838.2 417.0h0M906.2 398.9h0M866.9 490.5h0M1040.4 497.3h0M795.2 385.2h0M962.1 526.3h0M848.6 525.6h0M932.8 509.6h0M952.3 435.8h0M926.8 501.0h0M945.6 401.8h0M854.2 496.5h0M711.6 339.5h0M853.8 502.7h0M1053.8 521.4h0M839.9 426.5h0M535.8 431.9h0M861.0 552.0h0M966.1 437.9h0M985.1 513.1h0M972.0 396.2h0M877.1 408.9h0M940.2 514.2h0M883.2 545.4h0M899.1 486.8h0M834.2 417.4h0M976.7 544.3h0M833.0 527.0h0M875.7 525.3h0M964.3 499.0h0M1012.5 536.2h0M977.8 541.8h0M969.9 532.1h0M969.2 499.1h0M1001.1 497.4h0M756.2 391.6h0M985.7 517.4h0M834.7 501.1h0M833.9 501.4h0M891.2 490.4h0M945.0 548.8h0M804.1 529.7h0M837.1 393.8h0M844.1 418.5h0M846.6 421.3h0M741.4 423.9h0M676.4 362.5h0M732.9 513.3h0M849.0 424.8h0M869.9 368.7h0M781.3 505.8h0M785.0 432.6h0M977.9 484.6h0M971.4 496.8h0M921.0 411.4h0M831.8 497.4h0M888.1 493.6h0M706.7 571.9h0M794.9 384.1h0M775.7 393.3h0M918.0 494.4h0M730.6 422.3h0M945.4 412.3h0M965.9 483.1h0M911.3 403.5h0M890.9 394.3h0M1053.1 496.8h0M814.8 431.0h0M616.6 386.1h0M881.6 406.1h0M1019.4 485.6h0M987.0 524.3h0M858.2 425.3h0M811.2 389.1h0M918.1 404.8h0M949.5 418.8h0M963.8 407.8h0M960.4 522.1h0M1004.3 479.2h0M744.5 376.3h0M1075.8 485.1h0M979.9 523.6h0M863.6 427.1h0M913.8 498.5h0M928.0 496.2h0M834.7 492.0h0M842.3 427.2h0M719.5 408.5h0M705.3 419.2h0M844.3 407.0h0M934.6 398.3h0M900.5 420.1h0M930.9 507.8h0M894.3 543.0h0M742.8 384.3h0M809.3 405.1h0M842.0 415.4h0M817.6 416.4h0M743.3 423.1h0M813.3 400.3h0M970.0 438.9h0M678.5 520.0h0M822.1 507.5h0M949.9 509.1h0M897.3 507.5h0M841.7 412.8h0M978.9 436.4h0M692.4 292.2h0M1055.2 507.4h0M792.3 429.1h0M984.9 495.8h0M913.8 524.2h0M840.5 487.9h0M743.6 394.0h0M825.6 379.7h0M1038.4 511.0h0M746.1 388.2h0M725.9 519.6h0M952.0 546.1h0M766.2 419.2h0M501.5 443.3h0M860.6 378.8h0M769.2 379.4h0M902.0 546.7h0M895.2 396.9h0M873.8 549.4h0M985.2 536.8h0M862.2 536.9h0M884.7 504.3h0M943.7 531.3h0M732.9 401.0h0M471.2 475.6h0M1081.7 500.7h0M906.4 428.0h0M683.2 410.9h0M699.8 326.6h0M832.5 374.8h0M955.7 495.1h0M818.2 423.3h0M921.6 425.9h0M997.5 538.2h0M931.9 514.4h0M842.3 425.7h0M922.7 498.9h0M1078.4 494.7h0M950.6 556.7h0M988.0 497.4h0M697.9 619.8h0M859.0 589.8h0M840.6 526.7h0M892.9 588.5h0M909.2 519.0h0M908.0 490.1h0M833.0 393.7h0M846.1 530.2h0M863.1 422.2h0M1060.4 512.5h0M1011.0 521.5h0M539.0 432.9h0M907.6 495.6h0M925.4 518.1h0M977.2 516.3h0M645.5 312.2h0M935.8 414.9h0M963.4 535.6h0M1085.0 494.3h0M971.0 426.1h0M930.4 497.3h0M636.4 336.1h0M963.6 508.2h0M736.4 327.2h0M756.7 405.8h0M847.1 551.5h0M1008.6 487.7h0M914.6 402.7h0M716.1 423.0h0M1012.6 429.5h0M1028.5 478.2h0M966.6 514.8h0M930.7 515.8h0M928.1 520.6h0M696.7 542.3h0M741.5 535.2h0M678.4 369.8h0M913.8 423.2h0M847.1 416.7h0M938.0 425.8h0M658.7 376.5h0M875.4 418.8h0M842.9 508.3h0M979.4 489.9h0M690.1 337.3h0M870.1 413.4h0M906.9 510.5h0M982.5 503.4h0M811.5 406.5h0M757.1 392.3h0M843.0 362.9h0M904.8 504.6h0M798.5 388.3h0M1001.6 528.4h0M866.1 430.4h0M955.9 515.6h0M997.4 401.8h0M951.3 422.1h0M542.1 199.0h0M881.2 501.0h0M936.0 495.1h0M996.0 516.9h0M812.6 404.7h0M799.7 424.8h0M995.8 508.5h0M688.2 406.5h0M1054.4 492.4h0M719.6 313.7h0M981.1 520.4h0M929.0 524.8h0M840.2 433.3h0M997.3 476.1h0M814.2 407.9h0M714.1 406.2h0M924.7 434.4h0M999.6 481.3h0M729.2 533.4h0M566.7 411.7h0M858.5 402.0h0M975.3 426.7h0M1019.0 496.5h0M768.0 416.6h0M951.6 530.3h0M917.1 534.5h0M1023.9 512.0h0M609.2 420.6h0M543.5 496.9h0M944.1 505.9h0M871.4 516.4h0M916.5 496.1h0M1000.7 487.1h0M760.4 524.1h0M681.1 396.6h0M753.3 423.5h0M1115.6 482.7h0M800.6 411.4h0M862.6 408.0h0M936.8 442.1h0M869.1 421.6h0M1010.8 418.6h0M816.6 323.5h0M909.5 411.7h0M1000.7 418.8h0M780.8 513.0h0M843.2 503.5h0M629.7 383.2h0M1036.8 477.7h0M870.7 488.7h0M724.1 340.9h0M666.8 304.0h0M637.1 354.1h0M1026.2 478.4h0M961.8 433.3h0M778.9 407.2h0M576.5 287.7h0M643.8 628.8h0M877.6 510.3h0M795.8 428.3h0M788.7 365.5h0M1041.3 503.4h0M798.8 367.5h0M836.6 413.5h0M672.0 324.9h0M860.4 428.6h0M846.6 398.0h0M743.3 406.6h0M766.0 370.5h0M964.6 435.3h0M841.2 390.2h0M780.5 418.6h0M771.8 360.7h0M672.9 621.9h0M836.3 401.9h0M678.8 316.3h0M994.7 502.2h0M826.2 429.4h0M995.1 511.5h0M904.5 493.2h0M820.7 418.0h0M941.2 510.9h0M882.3 403.9h0M885.6 414.8h0M936.3 398.4h0M1005.4 516.4h0M964.7 499.8h0M983.6 489.5h0M1003.3 419.9h0M865.9 485.7h0M982.3 373.8h0M879.7 400.7h0M1017.7 487.8h0M967.5 493.9h0M972.7 500.2h0M786.3 491.7h0M689.0 615.0h0M973.3 432.6h0M965.8 515.3h0M1060.1 480.9h0M879.3 536.7h0M705.8 398.5h0M813.0 372.3h0M873.9 486.5h0M894.5 422.9h0M809.1 401.1h0M1190.6 497.7h0M995.3 517.6h0M1002.3 438.3h0M967.4 520.5h0M1115.6 496.7h0M830.3 492.6h0M923.1 414.5h0M947.0 413.0h0M1085.4 284.8h0M876.2 405.7h0M1023.8 511.8h0M794.7 416.8h0M931.6 405.3h0M841.2 415.6h0M912.0 526.6h0M1045.8 481.3h0M860.3 499.2h0M959.6 533.6h0M582.7 492.3h0M949.1 528.8h0M1006.9 486.0h0M876.8 384.2h0M743.4 503.6h0M870.8 423.6h0M959.3 428.6h0M650.4 592.3h0M914.8 557.1h0M774.3 428.6h0M887.5 435.7h0M996.1 501.1h0M772.4 397.9h0M785.1 351.8h0M883.8 526.4h0M1033.7 426.7h0M996.4 487.1h0M870.5 529.3h0M1050.3 487.3h0M1007.0 502.3h0M912.3 405.0h0M912.7 367.6h0M1000.3 481.9h0M751.9 546.2h0M851.5 375.7h0M891.0 490.6h0M891.9 428.6h0M1001.0 359.6h0M927.1 430.0h0M797.0 532.7h0M994.4 518.9h0M792.9 378.5h0M850.6 534.1h0M850.5 513.7h0M893.2 431.7h0M864.2 438.4h0M1029.7 492.4h0M733.3 325.0h0M871.8 427.2h0M823.8 400.3h0M957.7 534.7h0M961.8 502.3h0M717.1 554.8h0M933.4 434.0h0M963.9 519.2h0M1080.8 423.8h0M758.1 518.6h0M778.6 493.0h0M767.4 541.5h0M839.8 431.0h0M838.9 493.0h0M1022.9 261.4h0M1061.5 479.9h0M869.0 519.7h0M878.8 508.1h0M747.9 375.4h0M935.3 482.5h0M646.2 277.3h0M829.4 519.6h0M909.7 432.4h0M960.8 486.5h0M889.4 547.4h0M961.6 425.4h0M840.9 349.4h0M919.7 485.4h0M844.6 406.0h0M922.6 395.7h0M776.1 527.1h0M783.8 419.3h0M915.3 432.6h0M1017.2 480.7h0M837.1 424.4h0M791.7 425.7h0M916.9 507.8h0M959.0 441.5h0M929.5 500.0h0M886.7 392.6h0M836.9 525.8h0M757.8 502.1h0M913.9 496.3h0M943.5 508.1h0M964.3 493.1h0M829.3 495.1h0M901.7 520.2h0M1055.4 474.5h0M827.5 363.8h0M840.2 400.0h0M1167.3 363.1h0M1013.5 507.0h0M873.9 494.1h0M889.8 495.8h0M704.7 311.4h0M783.6 426.8h0M671.8 400.8h0M896.0 409.3h0M561.9 545.2h0M958.6 407.3h0M993.6 525.7h0M1068.0 477.3h0M902.6 420.5h0M784.0 592.5h0M696.3 394.1h0M951.9 492.3h0M1007.1 513.3h0M678.1 386.6h0M872.0 493.5h0M826.6 407.7h0M866.8 487.8h0M946.4 482.7h0M994.2 532.9h0M605.0 313.2h0M744.3 523.1h0M963.2 437.3h0M850.9 500.8h0M982.1 507.0h0M665.5 415.4h0M967.8 413.3h0M717.6 420.7h0M922.5 524.5h0M796.1 376.4h0M980.1 531.1h0M883.4 488.4h0M875.7 510.8h0M763.7 371.6h0M960.0 413.4h0M923.7 431.1h0M878.2 418.9h0M805.4 534.0h0M745.1 398.6h0M856.8 488.8h0M697.7 404.4h0M963.5 504.0h0M927.7 479.9h0M741.1 344.7h0M767.9 335.6h0M964.9 418.1h0M892.0 361.2h0M579.2 496.5h0M788.7 432.0h0M1014.2 381.9h0M977.9 545.4h0M928.6 522.8h0M721.4 287.1h0M853.4 426.5h0M947.9 526.8h0M799.1 388.7h0M1077.9 437.3h0M1031.3 399.5h0M991.1 491.6h0M933.1 480.8h0M590.6 585.6h0M845.8 498.6h0"/>
<path class="g" d="M800.2 450.1h0M354.4 463.5h0M515.2 458.8h0M976.7 472.8h0M776.9 468.7h0M654.2 481.5h0M1004.0 456.2h0M899.9 450.1h0M360.1 459.6h0M475.3 467.4h0M568.2 433.0h0M901.2 454.7h0M895.0 453.1h0M916.0 455.4h0M649.8 467.8h0M965.4 447.9h0M617.5 435.4h0M944.3 465.0h0M851.5 482.0h0M664.7 460.9h0M586.8 475.9h0M462.4 455.1h0M516.4 465.1h0M698.3 476.2h0M747.4 431.1h0M367.4 461.5h0M892.6 469.9h0M1016.5 449.0h0M459.0 459.7h0M527.1 458.4h0M793.0 451.8h0M449.5 464.5h0M792.7 461.7h0M694.3 449.5h0M1043.8 458.9h0M377.0 460.6h0M698.4 448.5h0M992.0 470.9h0M627.4 470.0h0M625.1 461.7h0M1081.0 464.5h0M965.5 462.8h0M914.1 465.3h0M868.3 455.4h0M755.2 471.1h0M602.7 472.5h0M882.1 478.3h0M1039.4 462.8h0M676.7 459.8h0M558.3 450.7h0M389.5 456.5h0M834.4 452.5h0M898.9 463.4h0M405.2 460.5h0M622.7 448.0h0M678.8 485.2h0M684.5 474.1h0M797.7 479.2h0M463.1 468.3h0M390.6 457.8h0M498.4 461.5h0M532.4 444.1h0M731.1 460.2h0M915.5 455.3h0M891.3 473.0h0M1114.6 453.3h0M591.7 442.7h0M779.0 441.7h0M926.2 455.9h0M1074.5 462.4h0M752.1 436.1h0M234.3 460.2h0M775.0 461.3h0M887.7 451.1h0M867.4 477.5h0M894.0 455.8h0M450.7 462.6h0M649.2 456.5h0M943.1 466.9h0M755.5 450.4h0M769.1 460.3h0M518.1 471.6h0M804.1 480.7h0M1010.2 449.9h0M579.3 472.9h0M618.1 430.0h0M1045.6 453.7h0M989.6 464.2h0M923.4 452.4h0M786.2 454.6h0M494.1 461.3h0M631.9 452.5h0M450.8 453.7h0M799.6 480.2h0M535.0 447.3h0M672.1 455.6h0M620.2 464.5h0M952.4 457.4h0M575.3 448.5h0M795.3 455.3h0M875.6 442.1h0M1063.0 460.2h0M557.8 460.4h0M804.3 444.3h0M641.2 440.0h0M1086.3 462.9h0M296.1 461.3h0M735.1 466.1h0M506.8 467.4h0M596.2 442.8h0M698.5 470.2h0M865.5 473.2h0M545.1 472.2h0M747.9 471.4h0M509.0 457.4h0M851.0 445.6h0M963.2 451.1h0M793.3 450.0h0M176.0 460.7h0M840.9 448.0h0M993.6 458.7h0M598.2 467.3h0M1050.8 456.5h0M775.7 461.3h0M667.9 440.6h0M684.9 430.3h0M981.2 473.9h0M783.2 461.2h0M838.6 471.9h0M615.0 467.4h0M842.4 449.4h0M754.3 434.3h0M571.9 471.8h0M817.2 452.2h0M888.6 445.6h0M860.7 470.1h0M731.9 438.0h0M1026.2 453.3h0M670.4 485.6h0M829.1 439.6h0M519.7 452.2h0M589.8 442.1h0M1083.2 450.7h0M852.1 476.6h0M548.0 448.5h0M548.2 454.6h0M915.2 450.6h0M1090.6 450.8h0M420.2 463.6h0M968.3 454.0h0M910.7 452.6h0M815.8 450.4h0M681.6 450.9h0M861.0 457.1h0M831.9 452.0h0M718.9 479.1h0M423.7 454.1h0M223.2 461.1h0M502.8 475.4h0M1064.0 453.5h0M577.9 450.8h0M850.4 470.3h0M653.4 449.6h0M1097.5 459.7h0M561.9 444.3h0M767.7 484.1h0M900.6 448.7h0M587.9 482.9h0M485.7 450.1h0M800.8 446.0h0M430.3 459.4h0M552.5 468.1h0M567.8 474.4h0M421.5 465.3h0M759.0 438.4h0M631.6 425.2h0M989.5 457.5h0M385.6 460.8h0M702.0 449.7h0M546.0 463.9h0M873.8 448.5h0M865.8 440.5h0M543.0 471.8h0M619.1 453.4h0M600.8 467.0h0M920.4 466.6h0M722.5 467.0h0M840.2 463.5h0M736.2 465.1h0M534.3 475.7h0M539.0 453.3h0M1075.2 457.3h0M350.0 460.1h0M661.7 456.3h0M537.5 463.7h0M663.5 456.6h0M428.3 460.0h0M440.4 455.1h0M809.4 458.3h0M430.5 460.8h0M822.6 453.5h0M684.9 431.5h0M489.6 456.8h0M755.2 455.1h0M688.4 431.8h0M387.5 463.6h0M232.3 460.2h0M978.5 468.6h0M587.6 439.3h0M643.5 477.7h0M819.6 446.7h0M480.1 460.0h0M870.0 457.2h0M599.1 482.9h0M646.2 482.1h0M972.2 468.0h0M944.9 467.3h0M705.3 454.6h0M235.7 460.8h0M773.3 438.9h0M533.4 448.2h0M813.6 451.6h0M693.9 461.9h0M420.6 453.3h0M462.8 455.8h0M711.0 467.8h0M558.5 463.6h0M404.0 453.2h0M1036.0 452.4h0M433.4 453.5h0M667.6 432.7h0M697.1 433.4h0M744.5 465.3h0M564.5 477.1h0M835.1 454.6h0M581.2 439.0h0M662.4 435.3h0M1071.3 460.4h0M1092.9 460.9h0M630.8 481.9h0M568.2 465.7h0M837.3 447.3h0M495.1 456.2h0M638.9 470.3h0M893.2 470.4h0M1037.9 450.8h0M971.0 465.7h0M651.8 478.7h0M344.2 461.9h0M540.3 451.9h0M561.8 468.6h0M371.1 456.6h0M635.1 472.1h0M457.8 459.1h0M749.4 470.6h0M585.9 440.9h0M581.7 456.6h0M729.1 466.9h0M745.4 458.4h0M761.4 484.3h0M544.0 479.1h0M629.5 457.6h0M1069.5 465.1h0M624.7 458.3h0M519.5 470.4h0M553.9 460.5h0M527.1 477.6h0M981.3 451.0h0M849.3 476.0h0M733.5 451.0h0M294.3 462.7h0M683.6 474.3h0M440.9 456.1h0M753.3 446.8h0M1097.7 460.8h0M794.9 446.8h0M1027.0 454.7h0M803.0 457.4h0M274.7 460.1h0M422.6 460.5h0M693.5 441.3h0M988.9 464.4h0M629.6 478.0h0M861.8 472.9h0M792.7 473.9h0M973.2 451.8h0M724.7 452.2h0M698.3 480.6h0M867.3 466.7h0M613.0 474.0h0M846.1 480.9h0M729.5 442.3h0M779.8 440.3h0M541.7 453.0h0M839.0 468.2h0M663.5 475.6h0M421.4 457.8h0M480.0 459.6h0M522.5 452.0h0M281.4 459.9h0M543.5 464.6h0M583.5 442.7h0M632.2 449.2h0M621.8 458.0h0M756.4 473.3h0M908.2 454.6h0M723.7 438.8h0M700.8 450.6h0M792.2 485.6h0M511.5 454.8h0M1008.2 469.7h0M610.3 485.0h0M246.1 460.8h0M701.9 467.1h0M580.2 461.2h0M753.2 483.4h0M649.8 477.2h0M666.3 478.9h0M627.6 456.2h0M1051.5 457.3h0M875.7 445.3h0M453.4 458.1h0M1093.7 465.7h0M1067.2 451.8h0M569.2 478.6h0M576.6 476.1h0M691.5 451.6h0M792.7 442.3h0M252.2 460.5h0M347.1 463.4h0M704.0 460.6h0M515.4 459.3h0M808.7 479.4h0M1012.7 458.7h0M291.8 462.4h0M1087.5 475.2h0M751.6 437.6h0M670.0 471.8h0M840.0 471.5h0M689.1 456.9h0M648.1 440.2h0M1019.5 467.9h0M918.9 462.3h0M586.9 467.8h0M1092.9 465.1h0M762.0 431.0h0M1033.2 449.0h0M768.2 467.1h0M590.9 466.9h0M537.0 469.7h0M518.3 458.2h0M450.3 456.1h0M735.3 475.6h0M591.3 447.2h0M604.3 467.8h0M683.2 442.3h0M299.5 461.5h0M505.9 466.1h0M713.7 437.0h0M910.7 460.9h0M529.9 460.4h0M286.1 459.6h0M608.6 455.0h0M525.0 466.7h0M652.8 454.1h0M609.6 473.8h0M842.7 472.4h0M622.7 469.5h0M679.3 441.4h0M666.1 427.4h0M461.8 460.9h0M653.8 493.2h0M587.3 457.2h0M990.0 457.1h0M636.0 477.6h0M620.4 462.3h0M1080.8 461.1h0M964.5 471.2h0M532.6 439.7h0M543.7 456.2h0M555.4 471.3h0M758.6 443.3h0M770.3 469.3h0M656.2 490.5h0M989.3 458.1h0M581.0 469.7h0M774.4 478.8h0M1055.5 466.4h0M849.5 476.2h0M897.8 475.0h0M598.0 442.7h0M989.8 456.4h0M402.5 456.1h0M413.9 452.1h0M790.1 450.5h0M826.5 463.9h0M850.3 453.2h0M874.9 470.6h0M725.7 453.9h0M823.5 477.3h0M258.1 460.8h0M536.4 458.4h0M622.5 471.9h0M626.3 464.3h0M296.2 461.0h0M514.7 463.4h0M1120.8 466.5h0M834.3 448.6h0M851.6 480.0h0M1033.7 461.3h0M680.3 430.9h0M798.4 485.1h0M753.4 476.3h0M1070.6 458.5h0M1023.0 452.0h0M842.1 478.9h0M473.0 456.5h0M717.5 440.2h0M745.9 433.9h0M658.2 476.0h0M1038.2 459.9h0M623.7 493.9h0M803.6 461.7h0M767.4 449.9h0M382.8 457.9h0M671.5 433.6h0M400.1 460.5h0M783.2 477.4h0M182.1 460.7h0M912.3 453.2h0M427.0 452.1h0M791.9 434.0h0M567.2 470.0h0M305.4 461.5h0M693.0 438.1h0M565.3 463.0h0M682.6 486.0h0M1030.5 460.2h0M825.0 456.2h0M490.5 460.2h0M602.5 433.2h0M626.6 477.0h0M957.9 466.0h0M331.8 462.9h0M495.6 469.1h0M686.1 471.2h0M233.9 460.4h0M865.9 450.0h0M453.9 457.3h0M482.0 469.1h0M522.7 453.6h0M1021.6 465.9h0M532.6 448.9h0M982.9 452.3h0M627.5 495.6h0M559.2 451.6h0M823.4 471.2h0M561.5 478.7h0M779.3 458.0h0M932.8 463.6h0M661.5 437.6h0M1007.3 463.5h0M679.5 443.4h0M273.7 459.9h0M589.3 446.6h0M832.3 478.5h0M693.9 443.4h0M842.2 448.5h0M856.1 465.5h0M589.5 465.8h0M384.5 464.2h0M849.2 478.7h0M519.3 462.0h0M588.3 452.2h0M877.9 466.9h0M803.0 449.8h0M886.6 455.9h0M556.9 474.1h0M587.3 436.7h0M806.9 439.7h0M670.8 454.9h0M550.2 464.8h0M931.2 451.3h0M990.1 463.6h0M824.8 467.7h0M722.3 440.1h0M805.5 470.8h0M680.8 439.9h0M790.2 480.2h0M728.5 443.9h0M462.5 460.2h0M876.9 466.8h0M860.5 470.1h0M926.4 449.3h0M461.8 459.5h0M732.8 454.9h0M620.7 462.3h0M883.7 459.1h0M1042.7 468.3h0M1079.9 453.6h0M651.6 447.2h0M836.9 465.4h0M437.1 464.8h0M675.0 493.0h0M848.5 460.8h0M635.2 481.1h0M560.3 460.7h0M714.5 472.9h0M645.1 430.5h0M1020.0 458.3h0M585.9 486.0h0M459.4 458.1h0M671.3 425.5h0M642.5 453.7h0M859.0 477.7h0M923.8 472.4h0M785.2 462.1h0M451.1 463.9h0M741.5 461.3h0M925.9 460.8h0M696.2 484.4h0M803.2 479.6h0M743.2 463.8h0M606.8 472.4h0M726.2 456.1h0M754.2 432.9h0M877.4 479.5h0M759.1 462.5h0M1021.1 471.9h0M580.6 446.1h0M991.8 448.5h0M827.8 453.6h0M553.9 466.2h0M953.5 463.3h0M605.4 441.8h0M751.1 440.6h0M828.7 481.9h0M584.8 455.6h0M801.0 458.9h0M501.2 471.4h0M797.5 452.1h0M736.4 486.4h0M441.0 468.4h0M826.2 454.4h0M505.0 456.9h0M891.7 459.3h0M749.3 480.6h0M777.0 473.8h0M788.5 478.1h0M878.0 474.6h0M1080.0 453.9h0M834.7 443.0h0M538.0 454.4h0M995.8 461.8h0M823.9 448.0h0M859.7 442.1h0M712.6 454.0h0M805.4 471.1h0M783.3 456.9h0M907.6 473.3h0M399.6 458.8h0M747.2 432.5h0M967.1 464.4h0M743.1 433.3h0M1045.5 463.3h0M1065.3 453.2h0M1079.1 455.9h0M842.5 458.6h0M1066.2 466.7h0M726.2 487.5h0M945.5 461.4h0M728.9 460.5h0M480.1 453.1h0M164.3 460.8h0M558.8 470.9h0M561.4 480.2h0M639.0 431.3h0M651.2 434.4h0M878.7 475.6h0M650.7 450.8h0M921.6 465.1h0M612.8 486.3h0M609.7 446.2h0M884.7 455.7h0M644.0 489.1h0M1085.3 459.4h0M856.1 475.7h0M1067.5 457.8h0"/>
<path class="b" d="M889.2 527.0h0M922.9 504.3h0M956.8 502.7h0M897.4 435.6h0M810.6 522.6h0M820.0 392.7h0M790.2 361.0h0M1053.1 477.7h0M1122.9 482.1h0M1026.9 517.8h0M795.2 323.2h0M849.1 434.0h0M1049.8 538.3h0M801.9 418.4h0M816.5 417.1h0M869.8 526.5h0M1046.6 489.5h0M950.8 503.0h0M1035.0 405.4h0M842.4 386.4h0M779.5 428.6h0M852.1 324.2h0M750.6 392.7h0M1072.1 549.4h0M743.7 418.9h0M983.8 488.2h0M1002.6 511.0h0M848.7 502.9h0M1029.1 500.7h0M838.0 355.0h0M893.3 546.0h0M779.1 386.7h0M948.4 514.5h0M753.4 420.9h0M906.7 395.4h0M966.2 516.2h0M797.5 409.6h0M1039.9 479.8h0M816.5 390.2h0M1007.8 483.5h0M1030.3 477.9h0M979.4 481.1h0M925.9 443.2h0M813.0 519.4h0M1034.2 503.7h0M982.8 523.2h0M971.5 533.7h0M663.3 549.2h0M911.2 400.1h0M882.1 508.8h0M813.4 431.7h0M811.9 408.7h0M678.0 298.5h0M826.7 351.4h0M875.0 419.9h0M786.8 411.1h0M579.6 407.9h0M940.8 515.9h0M865.9 485.1h0M995.1 501.8h0M844.6 487.8h0M998.7 509.6h0M739.2 415.5h0M686.3 343.3h0M925.3 488.7h0M815.6 403.8h0M918.8 344.8h0M943.2 431.6h0M687.8 315.7h0M821.5 363.2h0M849.7 506.2h0M896.4 481.1h0M924.4 429.4h0M935.7 423.0h0M885.5 403.6h0M952.6 521.9h0M925.2 509.4h0M843.7 425.1h0M985.3 529.2h0M772.9 389.3h0M1020.9 439.1h0M847.4 401.8h0M1080.8 491.0h0M883.5 421.5h0M967.1 423.1h0M836.0 502.8h0M913.3 508.3h0M847.3 436.4h0M877.3 487.2h0M835.2 412.0h0M1028.0 493.4h0M978.0 438.1h0M953.1 514.0h0M730.4 411.8h0M890.9 533.2h0M903.6 546.1h0M907.9 540.2h0M745.8 506.9h0M827.5 407.4h0M945.8 420.9h0M828.5 353.9h0M715.7 398.7h0M982.2 512.3h0M938.0 411.1h0M999.6 527.4h0M1085.0 496.7h0M824.7 411.5h0M719.2 330.7h0M951.8 502.6h0M918.0 531.4h0M1066.9 529.2h0M788.7 520.8h0M651.5 314.2h0M935.8 498.7h0M1010.1 400.3h0M1005.0 488.6h0M890.8 523.6h0M885.0 486.3h0M813.5 400.3h0M900.5 410.6h0M854.5 369.6h0M794.7 389.1h0M823.3 519.9h0M850.7 504.8h0M855.9 339.2h0M857.2 504.9h0M931.6 489.1h0M940.2 479.5h0M764.3 401.0h0M924.2 392.8h0M901.9 510.6h0M768.2 424.6h0M696.6 422.8h0M896.2 544.5h0M763.3 533.9h0M976.5 526.3h0M844.1 434.0h0M1011.0 406.0h0M996.1 519.7h0M908.8 393.1h0M904.3 492.5h0M879.4 405.3h0M874.4 514.2h0M806.9 379.8h0M706.5 403.7h0M955.3 426.8h0M598.1 384.9h0M917.0 539.8h0M977.2 517.3h0M754.3 395.7h0M983.2 487.7h0M896.8 412.1h0M951.7 547.7h0M800.1 415.4h0M510.4 486.7h0M992.0 508.8h0M1050.1 511.4h0M951.8 383.2h0M900.8 517.6h0M838.6 340.0h0M714.0 540.2h0M862.5 365.0h0M1035.0 479.2h0M462.9 447.5h0M923.8 531.9h0M980.3 491.5h0M1063.6 485.1h0M556.7 429.8h0M791.0 373.5h0M990.8 544.8h0M977.1 497.1h0M874.6 375.7h0M843.4 499.7h0M970.6 399.2h0M970.6 408.5h0M1026.4 423.5h0M708.7 418.5h0M804.8 380.3h0M897.9 438.0h0M857.7 548.4h0M739.6 401.7h0M832.6 519.7h0M888.6 429.5h0M811.1 507.0h0M865.7 419.4h0M764.7 377.7h0M779.9 371.8h0M914.6 483.4h0M780.2 316.5h0M658.3 392.9h0M936.2 545.0h0M767.5 359.1h0M950.9 498.7h0M832.1 511.4h0M923.1 550.8h0M959.6 533.9h0M961.4 405.5h0M1038.4 513.3h0M819.6 300.4h0M753.4 410.1h0M701.4 387.3h0M924.9 431.2h0M937.0 410.1h0M648.3 552.7h0M1045.1 489.3h0M959.1 421.1h0M955.9 441.6h0M932.5 514.5h0M1059.5 509.5h0M895.0 521.2h0M1026.3 485.8h0M943.8 517.3h0M675.0 407.3h0M918.2 543.9h0M841.1 385.0h0M1059.4 501.2h0M729.8 382.9h0M1045.6 496.5h0M618.8 545.8h0M858.6 394.6h0M840.8 541.9h0M898.6 507.6h0M1016.1 533.6h0M894.8 503.5h0M527.5 437.1h0M1015.6 518.4h0M872.4 397.4h0M1014.0 474.9h0M787.7 391.4h0M898.2 381.9h0M895.1 501.9h0M724.4 406.2h0M834.7 435.5h0M900.2 395.0h0M727.4 407.6h0M854.5 500.3h0M846.8 496.2h0M762.9 325.5h0M691.6 356.3h0M819.7 345.1h0M732.4 358.3h0M764.3 420.2h0M1113.5 475.2h0M819.2 415.4h0M928.2 530.9h0M1048.5 411.6h0M966.5 515.8h0M759.6 414.5h0M827.0 500.3h0M782.2 409.3h0M1022.4 524.5h0M940.4 482.7h0M923.3 493.7h0M851.7 428.3h0M801.0 413.5h0M701.2 401.7h0M1070.1 478.0h0M654.6 512.5h0M750.2 390.8h0M896.3 526.1h0M1127.9 508.1h0M897.2 405.0h0M756.8 402.4h0M872.1 566.9h0M916.6 510.6h0M905.9 526.8h0M731.7 407.2h0M933.7 523.5h0M1057.1 526.3h0M905.2 506.0h0M888.9 528.2h0M722.2 538.7h0M900.9 542.3h0M1012.0 492.3h0M767.7 322.9h0M846.8 487.2h0M713.6 369.8h0M890.3 517.8h0M912.9 504.9h0M889.8 512.3h0M1037.6 489.6h0M847.6 407.8h0M903.6 411.5h0M731.3 415.8h0M879.9 403.3h0M1141.2 482.3h0M658.3 289.9h0M900.8 512.1h0M849.4 425.0h0M783.1 431.1h0M920.8 336.0h0M993.5 438.7h0M893.6 496.7h0M909.3 524.2h0M864.4 523.6h0M888.5 521.4h0M870.6 500.3h0M867.5 504.9h0M1014.4 435.3h0M748.2 420.8h0M883.1 524.4h0M794.7 403.9h0M770.9 387.4h0M1059.0 497.0h0M794.6 397.5h0M903.1 430.6h0M895.0 432.4h0M710.1 407.7h0M899.9 409.5h0M834.3 518.4h0M871.4 398.0h0M791.6 499.1h0M769.0 372.3h0M788.9 511.4h0M611.1 289.2h0M913.7 500.8h0M773.4 335.0h0M954.7 407.7h0M808.5 390.7h0M889.5 485.0h0M901.0 422.9h0M759.6 354.3h0M1022.2 432.9h0M1009.2 490.8h0M789.7 525.1h0M999.6 495.0h0M770.1 407.8h0M1064.0 519.0h0M874.0 373.5h0M876.0 489.8h0M913.8 496.9h0M860.8 407.9h0M916.2 430.2h0M735.8 394.6h0M725.4 523.7h0M904.0 492.0h0M1016.0 485.2h0M1052.9 478.0h0M916.0 440.5h0M634.7 417.0h0M1020.7 405.7h0M913.5 502.4h0M810.2 323.0h0M861.7 402.0h0M826.8 421.0h0M917.4 501.4h0M805.1 407.7h0M696.6 394.4h0M912.1 506.3h0M926.1 541.3h0M944.0 552.9h0M1019.0 502.5h0M837.8 378.1h0M861.4 405.5h0M913.0 426.7h0M885.2 431.6h0M634.8 341.3h0M928.4 434.6h0M808.1 419.4h0M960.2 518.9h0M1011.9 481.9h0M704.3 392.5h0M552.5 420.4h0M997.6 498.1h0M788.2 398.3h0M477.1 442.3h0M787.6 422.4h0M913.8 499.6h0M582.7 380.8h0M1022.9 413.8h0M801.1 390.2h0M813.0 433.1h0M958.8 410.4h0M710.2 396.4h0M900.7 337.7h0M844.4 416.9h0M1023.8 498.9h0M860.4 489.9h0M995.7 531.9h0M941.7 409.8h0M667.7 204.4h0M853.4 528.1h0M1088.5 510.6h0M669.0 377.5h0M902.6 529.9h0M918.2 484.5h0M735.8 260.6h0M995.7 440.3h0M838.1 396.9h0M679.0 388.6h0M750.6 572.3h0M866.4 529.6h0M966.2 589.4h0M962.3 488.3h0M752.1 403.5h0M760.4 212.5h0M656.7 509.0h0M736.1 370.6h0M791.5 401.8h0M862.4 432.6h0M779.2 409.4h0M818.9 401.0h0M1016.1 480.7h0M872.8 495.8h0M761.3 398.8h0M978.6 539.2h0M916.1 421.7h0M900.8 406.8h0M928.6 497.8h0M1000.6 527.4h0M829.0 413.8h0M960.1 377.0h0M893.6 482.1h0M885.0 435.5h0M986.9 501.9h0M754.1 411.6h0M703.4 318.8h0M739.8 368.1h0M515.0 439.2h0M826.0 426.7h0M885.3 349.0h0M810.4 489.2h0M918.9 516.9h0M830.2 377.6h0M869.0 494.1h0M646.8 343.7h0M1000.2 496.5h0M953.1 487.4h0M826.8 390.3h0M963.1 494.7h0M995.6 537.0h0M859.9 497.4h0M924.6 489.1h0M883.1 509.6h0M976.4 486.4h0M811.7 415.5h0M800.0 420.0h0M955.1 519.8h0M1032.2 500.1h0M917.0 535.4h0M779.7 425.6h0M825.8 408.5h0M779.1 414.1h0M911.4 539.9h0M733.7 410.6h0M726.5 410.9h0M950.0 490.6h0M816.7 401.3h0M767.0 430.5h0M922.6 502.3h0M814.5 424.1h0M1012.2 493.1h0M896.6 510.3h0M964.8 432.8h0M993.9 484.4h0M658.6 378.3h0M878.8 510.3h0M801.1 398.8h0M868.5 416.5h0M993.6 514.2h0M955.0 480.3h0M812.6 490.7h0M1125.0 527.3h0M738.1 409.2h0M1073.6 498.3h0M944.9 541.4h0M1016.9 488.6h0M1023.5 534.5h0M978.3 345.7h0M834.1 421.5h0M890.5 540.5h0M840.1 487.0h0M900.6 508.9h0M886.2 493.6h0M813.1 374.9h0M904.6 511.8h0M869.0 504.9h0M867.2 423.4h0M875.0 482.8h0M876.5 493.3h0M828.8 427.1h0M959.0 497.4h0M852.3 405.4h0M944.3 481.8h0M665.9 353.7h0M1052.2 495.8h0M919.1 493.9h0M907.9 387.8h0M704.5 395.8h0M885.6 379.2h0M963.6 507.5h0M925.0 433.0h0M813.4 371.1h0M754.8 551.6h0M1050.0 530.1h0M694.6 352.8h0M906.0 508.8h0M842.6 416.9h0M625.3 376.9h0M728.7 541.8h0M1086.0 443.3h0M783.9 356.4h0M873.3 499.5h0M937.8 407.2h0M937.8 419.4h0M1043.1 496.9h0M820.7 539.3h0M829.4 551.9h0M927.7 423.8h0M893.4 505.9h0M920.2 392.5h0M950.8 428.6h0M891.1 484.7h0M715.0 507.9h0M745.1 399.0h0M959.8 395.5h0M924.4 422.5h0M759.4 381.2h0M746.0 613.8h0M1002.2 529.2h0M855.6 534.4h0M1042.8 502.3h0M866.3 538.2h0M798.7 410.0h0M938.7 407.3h0M816.7 419.1h0M817.0 416.9h0M1039.6 529.0h0M924.3 499.0h0M1139.2 512.3h0M813.1 384.8h0M862.2 415.2h0M659.8 377.4h0M794.7 390.3h0M978.0 494.6h0M856.0 486.9h0M849.6 421.3h0M963.7 432.8h0M1012.4 493.4h0M1007.7 492.6h0M798.2 387.1h0M715.5 366.3h0M615.0 531.2h0M895.9 512.2h0M802.3 556.0h0M956.5 489.2h0M763.7 309.7h0M905.9 505.9h0M812.5 425.0h0M932.5 482.4h0M806.6 430.5h0M923.0 542.5h0M812.5 412.7h0M994.2 540.8h0M752.6 383.9h0M733.4 309.7h0M955.8 495.1h0M746.4 388.6h0M747.5 283.9h0M640.6 573.5h0M873.4 537.4h0M1012.3 517.2h0M678.4 392.5h0M825.3 392.5h0M937.6 535.9h0M1041.9 496.9h0M675.4 391.8h0M787.2 405.5h0M1045.2 494.5h0M1034.0 494.6h0M845.8 417.5h0M803.7 365.8h0M846.3 436.4h0M833.2 402.4h0M955.5 440.4h0M959.4 521.9h0M1006.2 536.4h0M1019.7 477.8h0M872.3 504.6h0M1008.2 494.3h0M885.6 438.7h0M695.2 547.5h0M1056.5 418.3h0M824.3 379.8h0M866.0 403.1h0M840.0 428.4h0M741.8 394.5h0M790.3 310.0h0M999.7 481.0h0M755.5 351.2h0M838.7 399.7h0M1014.3 515.1h0M1013.4 499.6h0M939.1 406.5h0M1093.3 480.1h0M800.0 411.2h0M757.6 389.5h0M704.6 511.0h0M852.8 396.0h0M891.9 397.0h0M905.8 494.1h0M942.2 437.7h0M827.7 569.2h0M984.9 485.7h0M849.1 417.6h0M857.5 246.7h0M878.2 390.7h0M624.1 405.3h0M713.9 409.5h0M780.4 326.7h0M954.8 507.9h0M956.0 478.8h0M935.9 512.3h0M771.8 416.2h0M843.9 522.3h0M577.5 491.2h0M730.2 514.4h0M1001.6 519.9h0M919.2 431.9h0M720.8 362.9h0M824.5 521.3h0M985.1 439.5h0M601.7 613.5h0M1057.8 496.4h0M1089.9 480.9h0M792.1 494.8h0M667.6 414.9h0M787.9 394.2h0M662.5 539.6h0M829.3 427.1h0M997.9 504.7h0M729.2 367.7h0M727.0 401.0h0M1064.3 491.9h0M973.0 511.2h0M925.1 414.0h0M1016.7 488.6h0M1073.0 480.5h0M971.4 418.7h0M918.9 508.0h0M641.0 527.1h0M977.6 503.3h0M887.3 545.9h0M922.2 430.1h0M873.2 511.5h0M957.1 486.9h0M1050.8 517.5h0M892.1 536.4h0M734.4 514.3h0M889.9 500.6h0M843.0 395.2h0M843.0 396.5h0M1010.4 418.1h0M800.8 563.3h0M946.8 516.6h0M1009.9 514.5h0M790.9 428.4h0M917.6 504.2h0M501.0 437.5h0M724.9 403.9h0M860.4 282.5h0M1041.8 477.6h0M892.6 416.3h0M820.2 350.7h0M609.8 506.9h0M853.5 519.2h0M914.9 429.0h0M944.1 513.4h0M645.4 325.2h0M866.5 406.8h0M1000.6 488.6h0M928.2 508.1h0M830.8 486.9h0M832.1 577.5h0M941.1 523.3h0M887.8 485.8h0M792.9 396.0h0M1036.2 523.3h0M919.8 482.9h0M872.7 389.7h0M1004.3 502.4h0M888.4 510.0h0M824.2 363.6h0M898.5 421.2h0M958.1 503.5h0M863.5 416.8h0M595.0 270.8h0M902.6 532.8h0M733.9 500.1h0M650.1 396.8h0M774.4 534.2h0M896.3 387.3h0M1093.1 514.3h0M836.0 363.3h0M976.5 484.7h0M859.7 509.8h0M937.3 531.4h0M618.8 401.7h0M982.2 510.3h0M821.3 387.9h0M865.2 433.7h0M840.3 414.8h0M955.5 512.9h0M913.3 393.4h0M905.7 374.1h0M805.8 361.7h0M988.0 437.1h0M620.3 397.7h0M1058.7 499.6h0M820.1 342.1h0M905.5 501.7h0M879.1 485.5h0M765.8 513.3h0M810.7 393.6h0M696.2 384.3h0M1071.3 491.3h0M739.1 369.8h0M845.7 484.8h0M941.3 510.3h0M763.2 368.5h0M952.0 417.8h0M893.9 502.3h0M813.3 521.9h0M790.2 389.0h0M884.6 420.8h0M754.8 400.3h0M788.1 399.7h0M735.2 554.4h0M615.8 297.5h0M987.0 483.9h0M972.6 433.6h0M785.9 379.7h0M913.4 418.9h0M757.1 419.3h0M903.3 519.0h0M751.9 399.6h0M922.4 395.1h0M998.4 487.2h0M791.3 402.0h0M927.3 401.5h0M797.3 376.8h0M794.7 399.3h0M935.7 508.7h0M860.3 520.2h0M920.2 436.5h0M954.1 419.1h0M814.9 380.4h0M911.7 375.9h0M700.2 377.9h0M1014.1 501.0h0M1087.5 480.5h0M990.4 532.8h0M651.6 340.9h0M808.8 526.3h0M1011.4 405.5h0M973.0 504.0h0M673.1 419.2h0M941.9 573.3h0M924.7 546.0h0M1064.6 546.2h0M891.6 405.3h0M906.2 506.1h0M952.5 493.8h0M756.4 349.7h0M1032.9 475.5h0M851.9 395.9h0M978.7 523.8h0M873.4 438.3h0M975.5 540.4h0M892.2 409.0h0M925.0 501.4h0M965.8 400.7h0M781.2 406.7h0M817.5 388.5h0M592.5 388.1h0M972.0 511.7h0M768.8 395.3h0M876.2 488.8h0M890.0 415.3h0M755.4 406.7h0M786.9 421.1h0M918.3 427.4h0M854.2 372.0h0M968.0 515.3h0M961.5 428.1h0M952.3 515.5h0M487.3 439.8h0M911.3 426.4h0M922.5 493.3h0M874.6 434.4h0M879.4 488.1h0M938.4 538.9h0M941.5 496.8h0M897.9 344.6h0M856.5 487.5h0M707.8 417.7h0M766.8 542.5h0M1006.4 499.8h0M962.6 495.8h0M942.4 520.5h0M733.7 371.8h0M884.5 408.7h0M565.7 666.1h0M642.6 346.0h0M935.0 329.8h0M832.2 412.7h0M835.9 397.2h0M894.5 528.0h0M966.4 500.7h0"/>
<path class="g" d="M1001.4 464.8h0M1072.4 469.7h0M623.6 435.1h0M1055.7 457.7h0M781.0 437.3h0M469.9 459.3h0M587.0 457.6h0M797.4 440.2h0M807.1 480.1h0M603.3 475.4h0M616.9 471.8h0M921.8 471.4h0M372.0 455.8h0M755.1 444.2h0M406.0 462.0h0M603.3 456.9h0M456.3 467.7h0M495.7 459.1h0M614.2 466.9h0M924.9 469.4h0M878.4 471.8h0M836.5 448.2h0M687.8 488.9h0M826.3 473.2h0M959.9 449.4h0M552.2 474.8h0M918.7 461.1h0M942.3 454.4h0M755.8 483.9h0M1032.8 466.0h0M618.8 469.8h0M632.2 437.6h0M467.9 450.8h0M811.9 443.1h0M905.3 466.9h0M1023.0 463.9h0M759.6 484.7h0M703.9 453.4h0M704.2 463.3h0M598.9 485.6h0M1057.6 466.7h0M699.8 458.4h0M795.6 465.0h0M533.2 460.9h0M843.5 459.4h0M765.2 463.1h0M773.0 459.3h0M855.0 462.8h0M780.3 480.6h0M667.5 467.3h0M723.4 468.1h0M531.8 442.3h0M975.9 461.4h0M642.1 491.7h0M925.9 447.4h0M1057.3 466.3h0M557.6 474.9h0M946.5 460.3h0M688.2 446.8h0M375.4 464.0h0M727.4 466.8h0M509.3 472.0h0M759.5 462.5h0M1070.9 461.0h0M439.9 455.3h0M643.1 476.1h0M1112.5 448.8h0M401.3 464.4h0M1085.7 458.4h0M558.3 466.3h0M938.1 456.6h0M440.4 467.2h0M960.3 470.7h0M810.0 459.0h0M503.0 466.2h0M489.1 462.3h0M654.3 477.8h0M616.3 438.2h0M169.7 460.8h0M647.0 437.9h0M318.7 460.5h0M381.7 464.3h0M944.7 462.7h0M646.6 456.3h0M811.5 466.9h0M1003.5 449.8h0M760.9 481.9h0M660.3 487.3h0M739.8 473.5h0M893.4 464.3h0M588.5 467.6h0M581.8 470.8h0M955.7 459.0h0M782.8 488.0h0M550.3 472.5h0M843.2 454.0h0M386.2 462.2h0M904.6 450.1h0M704.2 432.4h0M445.8 454.4h0M408.9 463.6h0M916.9 450.8h0M456.6 456.0h0M515.8 445.7h0M966.2 465.3h0M801.1 461.0h0M593.6 458.7h0M913.0 471.5h0M1000.6 452.8h0M451.2 461.7h0M947.4 454.5h0M1014.3 456.6h0M896.2 476.1h0M433.8 465.2h0M936.2 462.8h0M373.7 457.8h0M938.5 462.9h0M964.6 452.7h0M811.1 459.9h0M827.4 462.2h0M725.7 461.0h0M700.5 463.0h0M726.9 483.6h0M1000.4 462.2h0M997.0 466.3h0M767.5 467.6h0M603.0 444.0h0M565.8 463.8h0M556.2 476.6h0M250.1 461.1h0M481.7 460.0h0M708.8 450.8h0M833.5 477.6h0M947.4 466.3h0M677.0 487.3h0M685.0 442.2h0M971.0 467.7h0M676.9 446.7h0M1041.7 455.5h0M571.1 438.2h0M692.0 423.8h0M720.6 463.8h0M688.2 466.1h0M814.2 451.0h0M670.9 468.5h0M747.6 441.8h0M549.4 475.4h0M1088.7 461.9h0M652.1 454.5h0M720.5 441.7h0M736.4 466.4h0M695.3 471.0h0M829.4 458.4h0M889.1 460.0h0M649.4 477.4h0M565.7 433.0h0M967.2 447.5h0M796.7 455.3h0M492.5 462.3h0M934.8 447.8h0M812.3 476.5h0M812.6 484.2h0M807.7 448.1h0M422.5 459.3h0M940.3 462.8h0M624.4 429.9h0M453.5 467.3h0M537.7 464.4h0M725.4 466.7h0M648.0 494.7h0M780.7 458.2h0M654.1 424.0h0M791.2 449.3h0M698.4 449.8h0M684.5 450.3h0M285.8 461.4h0M676.0 483.5h0M945.2 471.4h0M739.7 492.8h0M781.8 448.9h0M950.3 464.9h0M807.3 443.8h0M574.8 454.1h0M498.1 472.6h0M907.4 477.2h0M611.3 472.8h0M909.4 474.4h0M607.8 443.6h0M778.9 440.7h0M257.8 460.9h0M688.9 464.6h0M891.6 463.2h0M650.5 432.3h0M1002.7 467.9h0M549.0 449.1h0M687.2 439.1h0M651.2 475.8h0M839.6 476.0h0M685.1 445.4h0M589.5 450.9h0M602.5 475.1h0M805.7 475.5h0M1053.2 471.1h0M937.9 447.7h0M731.6 443.6h0M768.2 435.5h0M593.0 469.1h0M626.8 467.9h0M1092.9 461.6h0M540.2 448.6h0M1087.9 461.7h0M526.4 452.9h0M496.2 450.7h0M875.7 453.4h0M657.0 471.6h0M460.3 457.0h0M1022.1 462.3h0M540.7 456.3h0M711.1 434.6h0M603.5 469.0h0M770.7 482.4h0M890.1 460.0h0M847.9 451.0h0M804.2 443.6h0M1080.0 453.5h0M966.6 473.3h0M671.9 487.1h0M581.1 436.7h0M774.2 457.0h0M546.6 469.6h0M763.3 450.0h0M747.4 457.5h0M833.4 445.5h0M438.8 451.7h0M827.7 440.9h0M262.1 461.4h0M454.4 454.0h0M590.2 481.4h0M692.5 488.5h0M882.1 477.4h0M813.0 470.0h0M1091.5 463.4h0M505.5 468.5h0M778.1 455.8h0M700.2 452.2h0M949.0 463.6h0M591.7 483.4h0M475.6 471.5h0M272.3 461.4h0M588.5 487.6h0M618.0 474.3h0M794.8 440.8h0M518.6 474.7h0M694.8 450.1h0M694.0 478.8h0M853.0 472.9h0M193.9 461.1h0M824.4 465.6h0M696.7 456.0h0M983.5 458.6h0M455.7 460.5h0M655.1 431.5h0M705.2 490.1h0M844.8 462.8h0M1084.5 458.0h0M903.3 444.7h0M855.2 469.5h0M897.9 443.9h0M831.7 442.6h0M667.4 452.4h0M617.3 464.9h0M1082.3 458.3h0M784.5 484.7h0M654.4 442.0h0M466.8 461.6h0M942.0 467.2h0M845.6 446.9h0M659.6 469.8h0M676.0 479.1h0M528.3 474.1h0M1029.6 462.9h0M482.5 468.7h0M303.0 461.4h0M723.1 488.3h0M752.2 437.1h0M804.5 465.4h0M446.2 461.9h0M416.1 465.3h0M724.0 475.2h0M832.8 462.4h0M701.3 495.9h0M413.8 461.9h0M810.2 460.8h0M422.6 454.5h0M1000.6 455.8h0M755.1 462.9h0M788.5 449.2h0M958.4 445.9h0M1060.5 447.7h0M1032.2 460.4h0M881.7 447.0h0M912.0 455.2h0M971.7 447.9h0M772.1 469.6h0M656.4 452.3h0M917.3 472.8h0M923.1 453.9h0M800.1 438.6h0M733.4 437.3h0M804.2 481.4h0M1030.0 467.7h0M448.4 455.7h0M810.4 472.0h0M590.3 453.6h0M1020.8 464.0h0M992.8 452.9h0M319.9 461.0h0M526.5 462.8h0M385.4 458.2h0M793.6 447.3h0M705.5 444.4h0M528.5 444.7h0M843.7 474.9h0M1022.1 460.8h0M709.0 453.4h0M854.8 467.3h0M719.9 462.0h0M744.2 484.6h0M1164.0 467.9h0M538.5 476.2h0M703.3 449.7h0M775.5 465.5h0M216.8 460.9h0M1026.2 466.7h0M818.6 438.3h0M857.7 443.4h0M970.5 463.1h0M672.7 426.3h0M790.3 440.1h0M640.9 467.1h0M399.1 463.4h0M641.5 435.7h0M191.3 460.7h0M1142.7 454.0h0M706.3 452.8h0M671.3 458.5h0M704.1 481.8h0M609.0 455.8h0M232.3 460.5h0M406.5 457.3h0M916.5 459.1h0M627.5 467.6h0M526.8 462.3h0M287.3 459.3h0M730.9 438.5h0M577.4 452.9h0M987.7 457.4h0M539.2 460.6h0M723.2 475.0h0M755.7 451.5h0M523.7 456.9h0M710.2 432.3h0M816.7 465.3h0M833.6 448.4h0M1074.1 455.8h0M933.3 459.0h0M412.0 466.2h0M685.1 459.5h0M375.5 463.9h0M686.7 458.9h0M367.4 458.6h0M738.4 479.3h0M725.2 470.3h0M846.5 475.1h0M429.5 465.0h0M870.4 460.3h0M382.3 457.3h0M619.1 440.7h0M933.0 473.4h0M898.9 471.2h0M800.6 446.7h0M811.6 475.3h0M1049.3 461.6h0M702.4 475.8h0M570.2 458.4h0M687.2 473.4h0M673.0 468.5h0M504.1 448.3h0M656.3 482.0h0M603.4 472.9h0M530.0 474.6h0M788.9 453.6h0M787.3 467.7h0M767.8 441.5h0M895.1 463.3h0M943.5 455.9h0M715.4 488.8h0M752.8 442.4h0M683.2 430.6h0M1129.8 449.6h0M677.5 464.4h0M612.8 476.9h0M264.7 461.4h0M764.1 462.5h0M677.7 482.0h0M873.5 461.9h0M945.3 463.2h0M526.6 450.2h0M365.8 460.8h0M1059.2 460.4h0M660.2 467.4h0M963.4 446.4h0M807.9 466.6h0M1010.2 470.4h0M765.1 471.1h0M751.1 484.9h0M658.2 438.6h0M570.6 486.3h0M1011.5 456.8h0M661.0 443.5h0M604.2 477.9h0M514.8 458.8h0M697.0 435.8h0M166.1 461.0h0M829.2 456.7h0M641.6 476.6h0M833.1 472.6h0M559.4 480.7h0M863.7 468.2h0M958.2 466.4h0M566.6 443.4h0M882.9 446.7h0M1021.4 466.9h0M543.1 446.1h0M828.1 457.3h0M434.6 459.5h0M656.9 443.0h0M919.8 449.1h0M541.8 469.2h0M1039.9 448.5h0M636.2 433.3h0M532.1 465.5h0M832.3 463.5h0M1053.2 451.9h0M962.0 452.3h0M311.1 461.6h0M391.6 457.5h0M776.1 446.6h0M979.9 461.3h0M557.3 466.5h0M460.5 451.0h0M839.1 439.7h0M560.9 452.8h0M752.2 440.7h0M385.7 464.2h0M505.4 454.7h0M969.2 452.3h0M436.1 451.5h0M576.0 445.2h0M741.8 459.6h0M420.9 458.3h0M890.5 470.5h0M818.9 470.0h0M1031.5 470.7h0M763.0 440.6h0M980.7 455.6h0M482.2 450.9h0M797.2 471.2h0M453.0 455.9h0M205.7 460.5h0M716.5 468.9h0M841.5 468.5h0M828.6 461.6h0M995.4 470.9h0M839.5 456.8h0M906.5 453.5h0M360.4 458.7h0M603.0 441.8h0M508.2 447.7h0M562.5 466.0h0M432.2 455.9h0M1058.6 467.4h0M746.0 438.6h0M914.3 456.3h0M646.3 423.3h0M527.0 465.4h0M648.2 462.4h0M966.1 448.7h0M834.6 447.9h0M836.6 482.4h0M552.8 452.5h0M601.0 453.6h0M719.0 479.0h0M1007.9 457.5h0M568.7 455.8h0M766.2 481.1h0M708.8 484.1h0M1084.0 464.9h0M547.7 457.0h0M948.1 471.4h0M755.8 447.5h0M543.1 448.6h0M971.9 450.2h0M623.6 472.0h0M532.0 465.8h0M734.2 450.1h0M941.4 465.5h0M394.2 461.8h0M601.3 433.6h0M755.2 433.4h0M736.3 453.1h0M834.6 477.3h0M707.0 447.5h0M819.4 482.6h0M944.7 455.8h0M498.2 470.2h0M866.4 453.1h0M725.2 483.4h0M641.3 450.4h0M1091.8 456.6h0M1027.7 460.6h0M765.0 489.2h0M847.8 469.6h0M609.9 435.1h0M900.9 478.4h0M671.4 425.8h0M942.9 457.0h0M753.7 473.3h0M575.2 448.2h0M309.7 462.8h0M835.5 455.1h0M993.5 462.7h0M883.7 472.2h0M679.3 431.3h0M629.1 486.9h0M630.4 462.1h0M754.0 438.3h0M833.6 476.5h0M415.5 459.8h0M895.5 476.5h0M826.1 465.4h0M338.3 462.0h0M529.3 476.9h0M561.6 437.9h0M930.4 458.3h0M888.3 467.8h0M608.2 456.9h0M845.7 469.8h0M865.9 455.5h0M875.1 446.9h0M639.0 453.7h0M1046.4 461.2h0M990.1 450.1h0M602.3 441.5h0M681.3 465.6h0M770.8 454.5h0M1009.1 468.9h0M796.8 482.8h0M909.5 462.9h0M276.4 460.9h0M914.1 474.0h0M688.5 495.9h0M895.4 475.4h0M858.8 453.0h0M1082.3 449.2h0M449.5 453.1h0M808.7 446.7h0M1002.4 467.4h0M588.2 484.0h0M887.3 456.9h0M719.9 481.6h0M679.6 456.6h0M767.1 468.0h0M714.6 468.2h0M605.8 442.1h0M670.2 465.9h0M563.4 473.6h0M804.6 478.6h0M519.7 460.7h0M824.5 472.9h0M560.6 447.8h0M546.8 450.3h0M937.2 446.0h0M585.4 470.5h0M1081.1 469.6h0M867.9 454.1h0M648.9 449.8h0M635.7 471.6h0"/>
<path class="b" d="M856.3 484.2h0M970.5 504.5h0M911.0 503.1h0M821.7 345.2h0M929.6 401.2h0M734.2 383.4h0M764.2 357.4h0M794.9 409.2h0M720.4 423.7h0M934.1 515.5h0M932.7 419.8h0M934.8 482.8h0M817.5 406.1h0M821.8 334.7h0M696.5 403.9h0M669.2 510.0h0M898.1 402.1h0M753.7 424.2h0M824.8 546.6h0M789.7 414.1h0M838.0 412.3h0M861.7 398.9h0M975.5 548.6h0M820.4 381.7h0M896.6 540.2h0M887.5 371.7h0M979.5 421.3h0M832.7 423.3h0M779.8 496.8h0M737.4 370.2h0M675.4 339.9h0M686.2 265.2h0M865.2 513.4h0M854.3 511.0h0M958.3 551.2h0M1018.6 513.9h0M908.1 392.4h0M1036.3 496.5h0M988.9 404.0h0M975.4 545.4h0M899.8 441.0h0M863.8 407.6h0M922.7 495.4h0M881.0 532.7h0M756.5 397.0h0M938.1 515.9h0M902.9 496.4h0M869.2 336.4h0M927.9 485.9h0M937.8 439.0h0M674.9 312.3h0M770.6 411.7h0M759.5 520.0h0M880.9 439.1h0M760.7 381.3h0M1007.5 512.2h0M742.4 398.8h0M845.8 518.8h0M860.9 490.0h0M983.5 507.8h0M996.4 512.9h0M947.1 416.5h0M929.9 513.9h0M832.4 410.0h0M776.3 397.0h0M957.5 485.5h0M906.9 416.9h0M959.6 430.7h0M874.3 437.4h0M897.4 508.7h0M1070.2 385.8h0M1023.3 495.6h0M973.1 421.8h0M863.7 502.7h0M709.2 242.1h0M940.4 509.5h0M1036.7 414.0h0M947.1 438.4h0M983.8 507.5h0M974.4 511.5h0M904.4 511.4h0M598.8 356.4h0M893.4 494.8h0M984.4 511.5h0M908.8 412.1h0M989.9 500.4h0M893.7 397.6h0M865.9 516.9h0M954.0 476.2h0M979.8 492.5h0M741.2 393.8h0M756.0 549.1h0M846.0 504.0h0M634.8 509.0h0M761.9 350.1h0M903.9 545.4h0M1064.1 482.3h0M728.3 544.8h0M812.5 409.3h0M944.7 393.2h0M755.6 292.7h0M782.0 511.1h0M1056.3 482.4h0M926.2 390.1h0M894.8 427.0h0M943.8 491.8h0M752.0 417.8h0M779.8 383.2h0M984.5 507.8h0M770.1 404.3h0M1021.9 475.7h0M833.0 408.3h0M940.1 485.1h0M870.0 487.9h0M840.7 417.4h0M860.6 499.4h0M896.3 428.8h0M705.8 419.3h0M934.9 385.4h0M948.0 430.6h0M822.5 488.5h0M863.1 549.6h0M841.1 535.2h0M941.2 501.5h0M880.0 502.7h0M778.3 425.3h0M913.9 498.8h0M983.6 511.7h0M869.1 492.6h0M1052.6 498.6h0M857.2 531.3h0M885.7 497.2h0M922.8 500.3h0M718.1 251.7h0M898.3 435.0h0M744.2 415.6h0M861.4 494.2h0M1024.9 408.1h0M1016.5 528.2h0M827.0 422.4h0M812.3 383.3h0M902.7 482.8h0M921.8 439.9h0M598.1 531.7h0M847.3 383.2h0M843.6 487.3h0M1072.7 487.6h0M741.9 546.2h0M801.3 393.4h0M998.9 403.1h0M640.0 226.2h0M840.2 491.1h0M941.4 438.0h0M727.3 349.7h0M508.8 228.8h0M888.3 403.2h0M886.8 396.4h0M1018.8 511.5h0M985.8 516.4h0M869.7 514.1h0M719.2 513.1h0M820.7 491.6h0M885.7 375.4h0M919.2 403.5h0M644.9 305.4h0M880.4 506.2h0M1013.5 500.0h0M804.1 395.6h0M946.4 511.2h0M946.4 507.2h0M915.8 400.7h0M747.7 402.8h0M556.7 229.4h0M1033.2 438.3h0M1083.9 489.4h0M743.8 323.3h0M706.2 395.0h0M834.0 382.0h0M886.2 490.2h0M766.7 413.2h0M782.5 345.9h0M825.6 429.5h0M989.0 520.6h0M828.2 432.3h0M872.5 538.9h0M780.4 567.5h0M821.7 512.4h0M871.2 399.1h0M820.0 318.9h0M816.8 544.5h0M744.5 506.9h0M880.2 505.1h0M958.1 424.4h0M985.2 438.5h0M965.4 520.6h0M948.4 410.1h0M1003.6 480.2h0M760.0 386.9h0M949.4 485.6h0M957.7 485.8h0M975.3 547.2h0M727.2 327.2h0M988.7 512.3h0M781.3 428.2h0M940.1 426.1h0M944.1 437.9h0M956.5 551.9h0M996.9 432.6h0M862.0 392.3h0M912.1 410.1h0M754.9 496.5h0M852.7 516.9h0M733.3 404.2h0M927.7 515.1h0M903.6 518.0h0M929.6 424.7h0M984.6 481.2h0M1049.2 439.9h0M917.8 422.3h0M843.3 408.0h0M817.4 359.1h0M822.9 424.2h0M952.9 401.9h0M891.4 510.4h0M740.1 424.6h0M904.4 437.4h0M971.1 385.4h0M766.7 423.7h0M881.3 397.5h0M1032.2 508.6h0M1091.5 501.8h0M732.7 338.2h0M847.0 520.1h0M825.6 375.1h0M919.8 404.5h0M883.6 403.0h0M1065.7 509.7h0M944.4 492.9h0M700.8 373.6h0M882.8 369.1h0M927.3 434.4h0M879.3 353.0h0M838.2 486.0h0M882.0 432.0h0M888.6 513.4h0M818.2 522.3h0M928.9 387.9h0M1019.9 524.0h0M1042.4 485.2h0M1081.1 514.6h0M791.4 411.9h0M712.3 411.9h0M941.5 503.6h0M921.6 411.3h0M853.0 531.7h0M910.3 396.1h0M908.2 537.3h0M767.7 348.0h0M811.1 420.8h0M1010.4 527.7h0M1064.0 488.0h0M865.9 520.1h0M1005.4 493.3h0M758.4 410.6h0M899.7 397.5h0M1012.6 517.7h0M934.2 414.2h0M984.0 548.3h0M701.5 501.7h0M999.1 356.0h0M916.1 482.4h0M903.0 363.9h0M844.1 511.7h0M669.2 405.6h0M844.6 401.4h0M835.9 494.1h0M853.3 512.5h0M612.1 421.0h0M1044.4 424.5h0M847.9 429.4h0M524.4 485.0h0M1002.4 476.9h0M723.5 358.9h0M785.9 397.0h0M626.9 575.6h0M968.1 417.3h0M923.9 375.8h0M1034.3 504.4h0M1020.6 486.1h0M731.8 390.2h0M841.3 489.8h0M880.0 483.5h0M900.0 506.6h0M773.7 374.3h0M791.5 381.0h0M855.4 389.1h0M841.4 422.9h0M845.4 307.7h0M847.6 499.4h0M676.3 394.8h0M947.2 507.8h0M968.1 518.5h0M686.4 327.7h0M1075.8 502.4h0M867.0 513.1h0M892.5 370.9h0M619.6 549.6h0M724.4 397.8h0M1014.5 510.2h0M611.3 381.8h0M798.1 412.0h0M869.7 497.4h0M914.2 524.5h0M967.6 507.8h0M727.8 496.3h0M868.3 529.5h0M916.8 520.5h0M895.5 414.0h0M873.4 410.3h0M997.4 521.5h0M726.1 404.5h0M1049.1 508.4h0M702.6 348.5h0M581.7 424.6h0M941.3 483.6h0M871.9 398.8h0M730.0 530.9h0M911.4 482.2h0M1001.5 480.5h0M899.1 489.6h0M839.4 406.0h0M1083.6 491.7h0M1018.6 506.4h0M973.5 430.6h0M831.2 410.8h0M928.4 407.5h0M903.3 541.7h0M916.5 500.0h0M885.7 510.9h0M911.4 518.7h0M1002.9 530.6h0M908.3 486.8h0M807.3 365.6h0M693.2 321.1h0M1085.2 331.2h0M479.6 476.7h0M805.1 414.8h0M859.3 501.6h0M1085.8 417.9h0M747.1 574.8h0M1013.4 477.0h0M761.1 422.1h0M699.3 373.1h0M931.1 529.7h0M955.2 478.6h0M751.2 559.6h0M892.8 362.8h0M991.1 503.1h0M957.8 502.0h0M1085.3 475.6h0M654.7 409.1h0M909.4 420.8h0M718.9 392.7h0M781.8 412.5h0M816.4 400.7h0M763.8 395.4h0M930.8 502.3h0M637.9 504.8h0M979.8 425.9h0M977.7 515.8h0M999.9 512.6h0M1086.5 395.8h0M701.0 308.5h0M947.1 546.8h0M844.8 323.1h0M703.8 419.2h0M993.0 486.3h0M730.1 384.8h0M1044.6 505.8h0M905.8 421.1h0M984.5 503.0h0M712.0 417.3h0M749.8 420.2h0M971.5 481.1h0M957.9 486.9h0M993.0 413.5h0M934.7 477.8h0M862.8 434.0h0M955.7 402.2h0M707.1 654.6h0M947.7 435.2h0M890.5 491.9h0M981.4 504.1h0M810.7 427.2h0M764.1 371.5h0M887.1 413.3h0M1007.7 524.1h0M781.4 430.7h0M937.7 497.7h0M954.4 426.2h0M837.6 526.9h0M922.5 519.5h0M711.1 395.2h0M978.8 499.3h0M791.3 534.8h0M976.2 375.9h0M976.0 426.0h0M783.0 405.9h0M886.7 389.5h0M845.6 495.6h0M858.9 394.2h0M957.1 373.7h0M844.8 421.3h0M717.5 366.5h0M1007.6 489.3h0M1030.9 488.8h0M836.5 394.0h0M950.5 529.5h0M921.2 420.0h0M825.8 432.2h0M738.1 397.9h0M893.3 498.6h0M737.8 405.7h0M917.0 398.2h0M1010.2 408.7h0M705.5 369.8h0M883.9 439.8h0M940.8 510.6h0M1026.4 482.5h0M678.6 417.6h0M797.5 376.6h0M808.1 433.7h0M727.3 274.2h0M937.6 501.5h0M900.0 519.9h0M966.3 494.3h0M745.5 410.4h0M649.5 269.9h0M797.8 410.4h0M984.7 543.6h0M978.2 522.3h0M808.2 394.7h0M895.3 517.8h0M828.8 399.7h0M676.1 676.8h0M876.8 433.3h0M764.9 423.1h0M1040.6 497.4h0M967.9 481.7h0M971.2 521.5h0M879.5 411.6h0M1051.4 425.1h0M868.8 397.0h0M936.8 436.6h0M1011.1 484.9h0M859.5 512.2h0M731.4 514.0h0M604.3 415.1h0M841.8 515.5h0M849.6 505.9h0M680.5 410.4h0M860.1 431.7h0M857.6 388.0h0M776.8 389.0h0M908.1 411.4h0M752.1 385.6h0M625.7 341.1h0M964.7 485.4h0M782.7 429.3h0M915.9 428.8h0M867.5 417.3h0M1018.7 516.9h0M891.3 431.2h0M837.2 418.9h0M1184.4 445.0h0M895.6 433.0h0M833.9 434.0h0M835.4 412.6h0M750.5 381.5h0M962.1 416.7h0M875.5 536.5h0M899.0 412.4h0M757.1 421.0h0M848.5 506.1h0M726.2 407.8h0M887.7 495.1h0M990.5 522.3h0M844.5 488.1h0M891.5 497.9h0M910.9 435.8h0M961.5 420.1h0M860.3 375.2h0M912.5 535.1h0M630.6 522.5h0M1019.5 525.8h0M938.9 528.8h0M839.9 410.3h0M704.0 323.2h0M791.6 422.2h0M908.2 437.3h0M970.8 512.9h0M826.1 398.5h0M707.6 289.0h0M772.4 429.2h0M803.8 380.3h0M856.0 567.9h0M876.8 488.3h0M975.2 504.5h0M796.3 394.6h0M857.6 483.6h0M892.5 522.3h0M582.3 414.2h0M943.8 275.6h0M943.3 536.4h0M612.9 190.2h0M601.4 364.1h0M631.0 379.0h0M704.0 288.6h0M999.8 519.7h0M583.8 382.9h0M1054.7 242.9h0M810.8 511.4h0M739.3 350.4h0M882.5 487.3h0M918.1 487.9h0M1019.6 499.4h0M967.6 539.5h0M901.3 395.6h0M760.1 403.3h0M792.3 378.3h0M707.7 401.1h0M822.9 414.5h0M928.0 418.4h0M772.6 428.0h0M959.5 496.7h0M926.3 496.2h0M1040.7 488.6h0M1010.2 482.3h0M806.7 375.1h0M637.5 381.3h0M1058.5 510.3h0M905.2 431.9h0M1037.3 499.0h0M898.5 522.7h0M823.4 378.0h0M851.3 436.2h0M968.8 433.0h0M904.8 503.5h0M1015.0 525.6h0M869.0 555.0h0M816.6 367.9h0M1005.4 497.4h0M1026.0 505.2h0M902.8 482.6h0M719.2 562.1h0M878.4 517.1h0M1023.4 491.0h0M845.2 543.7h0M746.6 382.5h0M803.2 401.1h0M954.9 416.8h0M1086.4 501.5h0M905.1 482.7h0M878.6 435.3h0M846.6 370.8h0M918.1 439.0h0M894.9 402.6h0M835.6 423.7h0M761.5 417.0h0M929.0 519.2h0M906.5 423.8h0M892.3 509.6h0M873.1 488.8h0M810.1 418.5h0M830.8 414.5h0M757.3 412.9h0M885.0 518.2h0M746.4 379.5h0M758.8 353.9h0M698.3 242.5h0M970.0 515.8h0M839.4 425.2h0M884.8 501.3h0M858.0 392.4h0M879.1 483.4h0M998.4 500.1h0M838.8 398.7h0M898.6 483.8h0M1021.4 531.4h0M1094.2 506.5h0M982.3 504.2h0M971.4 486.1h0M850.4 435.2h0M1060.9 483.7h0M671.4 413.7h0M1024.7 499.5h0M621.2 519.4h0M863.9 383.5h0M983.3 538.6h0M702.1 326.3h0M829.6 379.8h0M923.1 367.9h0M867.2 428.9h0M903.7 412.6h0M1023.8 477.2h0M857.1 524.1h0M898.2 395.7h0M992.3 483.0h0M806.1 399.7h0M813.0 374.9h0M933.4 512.5h0M984.2 488.7h0M698.0 360.4h0M681.0 399.9h0M695.8 377.7h0M1007.2 507.6h0M1043.7 396.5h0M900.9 496.8h0M863.1 519.1h0M872.1 424.2h0M819.0 410.2h0M1062.5 513.2h0M953.5 411.8h0M981.8 520.6h0M816.1 412.5h0M904.7 490.5h0M723.5 291.7h0M893.8 349.7h0M929.4 482.0h0M847.9 376.5h0M1030.8 522.9h0M783.1 342.2h0M923.5 393.6h0M705.6 538.1h0M846.3 517.6h0M705.8 292.5h0M793.8 395.4h0M926.1 436.6h0M938.8 562.3h0M970.3 481.2h0M840.0 501.9h0M779.9 523.0h0M900.9 423.3h0M984.0 564.0h0M969.2 439.2h0M893.2 482.6h0M1039.8 484.4h0M922.5 393.1h0M843.6 396.7h0M789.1 367.7h0M754.0 387.2h0M749.7 356.9h0M689.0 502.7h0M968.4 422.4h0M925.7 487.5h0M829.4 557.1h0M865.0 533.1h0M895.6 389.3h0M1059.7 475.7h0M889.0 405.3h0M890.2 504.8h0M1015.7 527.2h0M1025.6 510.3h0M996.5 505.7h0M928.2 489.9h0M857.8 484.0h0M920.8 437.1h0M848.5 427.9h0M973.0 550.1h0M998.8 501.5h0M757.7 355.0h0M945.3 498.4h0M900.5 369.0h0M965.3 494.8h0M934.4 528.4h0M930.2 550.4h0M914.6 532.2h0M633.1 319.3h0M822.9 503.0h0M983.1 521.2h0M1020.0 481.6h0M1090.7 486.7h0M970.7 485.8h0M866.6 420.5h0M1069.2 481.7h0M876.8 529.9h0M1018.0 478.9h0M883.6 522.6h0M1026.1 534.6h0M788.5 382.1h0M736.9 400.0h0M960.3 525.8h0M871.9 429.0h0M708.8 501.7h0M977.3 478.1h0M785.6 499.2h0M866.1 408.6h0M909.0 528.3h0M732.6 315.0h0M823.7 505.5h0M891.5 492.5h0M963.5 422.5h0M1048.2 477.3h0M959.7 515.1h0M1034.0 481.6h0M785.7 312.2h0M870.4 405.9h0M796.6 406.6h0M709.7 294.0h0M1036.7 489.1h0M811.1 489.0h0M771.6 368.1h0M862.7 511.4h0M783.8 409.4h0M838.5 513.1h0M959.6 484.4h0M847.8 420.3h0M613.0 394.2h0M1005.5 530.8h0M933.0 498.4h0M607.7 513.1h0M744.3 407.1h0M922.7 507.7h0M841.1 405.9h0M1001.6 529.5h0M779.8 381.2h0M869.1 499.5h0M929.1 408.6h0M911.2 434.1h0M970.1 500.5h0M742.2 354.1h0M791.0 269.4h0M855.1 379.9h0M718.0 341.5h0M1045.5 527.1h0M881.6 399.8h0M765.9 405.8h0M905.8 426.5h0M778.5 398.9h0M860.9 426.2h0M1062.8 481.0h0M768.2 497.9h0M805.8 371.3h0M872.2 409.6h0M1020.2 419.1h0M973.9 519.6h0M765.4 415.3h0M765.9 423.4h0M883.7 417.3h0M870.7 519.4h0M942.3 510.6h0M1006.2 517.1h0M1068.9 475.4h0M951.3 512.9h0M900.4 403.1h0M645.6 655.0h0M915.7 494.5h0M992.8 528.2h0M816.9 422.4h0M907.0 534.7h0M1048.0 480.4h0M878.9 514.4h0M596.6 386.0h0M675.4 520.4h0M1023.2 429.6h0M880.8 364.1h0M982.4 519.2h0M1027.0 510.9h0M940.2 491.7h0M981.2 495.1h0M872.4 499.2h0M862.9 388.0h0M694.3 373.4h0M785.3 354.7h0M777.6 384.6h0M812.2 430.4h0M891.4 391.9h0M869.3 402.7h0M776.9 638.8h0M837.6 426.9h0M839.2 409.6h0M1001.6 497.2h0M605.1 368.9h0M1049.6 556.0h0M780.4 535.9h0M870.8 505.0h0M875.5 408.0h0M761.9 422.8h0M860.0 550.5h0M867.6 361.6h0M918.6 493.3h0M851.6 513.9h0M989.5 482.3h0M893.2 429.8h0M1043.3 377.3h0M983.6 432.8h0M862.9 490.7h0M890.1 524.7h0M922.8 490.3h0M867.1 534.1h0M956.3 511.8h0M988.9 500.7h0M909.6 415.8h0M956.2 531.1h0M888.7 345.4h0M824.6 419.9h0M1030.8 487.8h0M728.3 357.3h0M1038.8 479.6h0"/>
<path class="g" d="M583.9 472.7h0M849.2 469.4h0M503.5 463.5h0M725.0 467.6h0M339.8 459.1h0M558.3 444.5h0M907.3 459.1h0M622.0 429.8h0M681.0 484.9h0M849.2 450.5h0M1061.7 461.0h0M424.6 451.8h0M890.9 472.5h0M729.7 439.3h0M582.4 464.9h0M567.2 456.4h0M572.2 477.6h0M903.9 457.6h0M529.8 456.7h0M417.3 459.3h0M635.0 421.5h0M709.9 488.6h0M946.7 463.2h0M495.3 456.2h0M740.3 439.7h0M466.0 469.1h0M869.2 454.8h0M676.0 479.2h0M1088.6 452.8h0M343.5 459.2h0M577.2 469.5h0M1015.8 464.6h0M350.5 464.0h0M835.8 471.4h0M479.0 457.3h0M728.4 466.2h0M799.3 486.1h0M389.0 456.4h0M794.6 466.5h0M834.6 447.5h0M884.0 445.4h0M474.9 461.5h0M604.5 474.1h0M900.4 468.0h0M713.5 443.5h0M799.5 467.4h0M757.8 443.1h0M644.8 449.0h0M1045.2 448.0h0M367.2 461.2h0M417.5 458.1h0M673.8 460.2h0M867.4 466.5h0M949.2 446.1h0M617.9 437.0h0M818.8 468.9h0M750.1 431.6h0M565.5 473.5h0M564.8 475.7h0M880.6 467.2h0M565.0 468.4h0M591.9 464.8h0M915.9 463.7h0M449.7 451.3h0M821.2 447.3h0M932.6 459.0h0M665.4 464.3h0M1036.4 454.3h0M735.2 455.4h0M305.2 462.5h0M982.5 467.7h0M775.2 484.6h0M566.8 442.7h0M387.4 461.6h0M402.3 455.9h0M842.3 471.5h0M884.3 459.3h0M242.8 460.2h0M635.5 468.1h0M911.4 463.1h0M901.5 447.2h0M506.4 453.9h0M775.3 454.2h0M589.8 476.8h0M467.8 461.8h0M1094.3 458.5h0M625.2 479.6h0M885.1 469.8h0M419.1 457.8h0M847.7 470.9h0M1020.1 462.2h0M1059.8 456.1h0M790.6 483.7h0M905.1 465.5h0M640.4 432.5h0M966.0 454.3h0M971.5 459.3h0M804.9 455.3h0M515.9 454.8h0M597.3 463.7h0M437.3 461.7h0M836.1 462.9h0M692.8 470.2h0M465.5 459.8h0M873.3 462.4h0M714.3 449.5h0M686.0 440.2h0M784.3 453.5h0M356.9 459.9h0M966.0 456.8h0M425.8 455.7h0M858.7 442.1h0M363.6 458.4h0M527.9 450.1h0M515.6 465.7h0M535.9 464.3h0M975.0 455.6h0M304.6 461.5h0M513.4 448.1h0M754.4 431.7h0M664.8 451.0h0M580.9 435.4h0M854.3 455.3h0M782.5 469.0h0M566.7 475.9h0M586.0 443.9h0M919.9 466.9h0M968.2 460.7h0M980.4 455.7h0M410.7 454.8h0M755.7 451.9h0M1010.9 465.1h0M528.0 451.0h0M453.6 460.2h0M718.6 459.0h0M612.7 433.3h0M560.3 479.9h0M484.9 463.7h0M895.5 456.1h0M657.5 487.9h0M653.6 478.2h0M788.6 459.9h0M922.2 455.5h0M762.2 462.0h0M780.2 466.4h0M757.1 470.7h0M976.9 456.3h0M541.3 475.1h0M728.8 454.7h0M511.5 469.4h0M298.5 461.5h0M639.5 446.3h0M696.6 433.3h0M764.1 468.6h0M814.7 464.5h0M830.1 456.8h0M330.8 460.8h0M572.7 469.1h0M657.8 479.5h0M671.7 452.6h0M500.8 469.4h0M500.2 465.7h0M905.0 443.4h0M905.2 449.7h0M328.9 460.9h0M694.4 478.9h0M733.7 454.7h0M820.7 448.3h0M718.4 458.3h0M976.0 469.8h0M410.7 463.4h0M802.3 468.7h0M545.6 440.4h0M384.6 460.0h0M840.7 443.4h0M330.0 462.2h0M611.7 445.7h0M797.5 463.6h0M1009.3 447.6h0M315.8 462.2h0M424.7 453.4h0M789.3 462.2h0M252.6 461.4h0M563.8 461.2h0M600.8 493.2h0M384.5 459.9h0M1049.6 460.3h0M432.6 466.4h0M550.8 456.8h0M386.1 460.7h0M725.2 476.0h0M1004.0 454.3h0M823.8 463.4h0M754.7 433.7h0M923.5 453.0h0M348.9 460.6h0M818.8 447.6h0M748.7 478.4h0M661.3 440.7h0M448.1 451.2h0M624.4 451.7h0M683.5 424.4h0M948.7 456.9h0M507.7 465.1h0M549.3 482.0h0M465.0 450.7h0M829.6 441.9h0M837.2 474.1h0M593.7 458.7h0M468.8 459.8h0M779.2 442.4h0M554.7 472.9h0M1009.7 452.1h0M584.4 459.2h0M586.6 458.1h0M758.2 476.6h0M500.8 450.4h0M615.9 489.4h0M525.3 454.6h0M724.4 465.4h0M424.3 453.8h0M679.9 487.2h0M1029.0 455.1h0M846.1 448.0h0M748.2 433.4h0M560.5 481.0h0M524.3 444.8h0M750.1 474.0h0M869.0 472.7h0M305.8 459.1h0M1021.8 465.1h0M562.4 462.7h0M589.0 440.5h0M672.7 483.4h0M352.8 462.8h0M528.3 464.8h0M574.9 479.7h0M603.2 467.1h0M710.8 489.6h0M709.1 430.1h0M418.6 456.6h0M275.8 460.6h0M597.0 448.2h0M636.3 446.7h0M789.2 487.6h0M370.4 465.2h0M693.4 477.5h0M763.1 432.7h0M761.0 430.5h0M795.4 446.7h0M628.8 490.7h0M775.4 486.4h0M936.2 471.3h0M708.4 445.7h0M485.8 446.8h0M513.8 462.1h0M905.4 461.2h0M878.7 457.1h0M469.8 454.6h0M782.5 456.1h0M461.7 454.9h0M684.4 435.4h0M779.1 454.3h0M919.8 457.6h0M400.4 464.8h0M604.2 473.7h0M990.9 447.4h0M1022.9 458.2h0M600.7 437.0h0M877.7 477.3h0M697.3 434.9h0M534.6 456.6h0M838.6 455.1h0M426.9 466.2h0M532.2 460.3h0M514.7 447.9h0M187.7 460.5h0M708.5 462.8h0M820.1 460.0h0M1055.9 469.3h0M438.0 468.3h0M667.9 472.1h0M264.5 460.6h0M767.9 439.1h0M458.1 467.5h0M455.4 459.3h0M726.5 456.2h0M441.5 453.1h0M952.1 460.3h0M642.3 453.6h0M1057.5 464.6h0M351.8 460.8h0M759.3 437.9h0M820.2 456.2h0M871.1 452.6h0M908.5 464.0h0M750.6 492.1h0M882.7 448.5h0M491.0 457.8h0M1060.1 462.6h0M388.4 455.1h0M957.1 468.2h0M705.7 480.0h0M656.6 460.2h0M987.9 463.7h0M847.4 478.4h0M863.6 446.6h0M674.1 474.2h0M530.4 449.0h0M432.8 467.9h0M933.0 458.9h0M840.5 448.0h0M945.7 453.8h0M524.4 465.6h0M985.8 452.4h0M521.3 453.4h0M418.2 457.6h0M1027.0 452.8h0M617.9 426.8h0M811.2 465.3h0M854.2 448.2h0M406.8 463.7h0M902.6 474.7h0M648.1 460.8h0M981.8 473.3h0M582.7 457.8h0M916.9 445.4h0M524.1 448.9h0M943.7 449.8h0M687.4 434.3h0M684.6 493.9h0M753.6 453.4h0M779.1 449.7h0M915.8 464.6h0M395.9 463.3h0M411.7 455.2h0M463.4 459.8h0M861.8 467.9h0M700.0 489.6h0M897.9 456.7h0M652.8 430.2h0M566.3 464.2h0M774.8 474.6h0M550.3 459.9h0M627.4 430.5h0M657.8 469.8h0M234.4 460.8h0M986.6 449.5h0M550.8 453.9h0M869.9 469.8h0M1040.4 455.0h0M696.8 492.0h0M769.9 432.3h0M1054.8 453.7h0M625.5 460.7h0M736.1 467.4h0M689.4 483.5h0M837.2 449.1h0M701.7 480.1h0M861.9 461.6h0M512.7 469.9h0M522.7 462.6h0M1016.4 469.6h0M912.8 460.4h0M588.9 431.0h0M334.9 463.6h0M974.3 457.1h0M871.9 445.5h0M449.1 464.3h0M849.8 471.3h0M543.7 451.5h0M870.4 471.2h0M243.2 460.4h0M811.2 465.3h0M690.5 434.5h0M387.1 461.6h0M1034.0 459.0h0M355.5 464.7h0M936.3 453.3h0M663.9 465.3h0M238.6 461.1h0M962.5 473.2h0M1003.7 447.8h0M753.5 489.0h0M395.6 463.8h0M862.8 453.2h0M1059.7 466.6h0M683.7 437.0h0M968.7 469.5h0M940.1 452.2h0M874.1 467.9h0M937.3 473.2h0M675.8 491.8h0M163.0 460.7h0M544.7 440.7h0M574.3 463.1h0M1030.3 468.8h0M548.0 441.0h0M501.6 452.8h0M893.7 474.6h0M927.2 468.9h0M470.0 456.9h0M790.0 454.6h0M498.8 455.5h0M1009.8 453.5h0M573.1 461.2h0M441.4 453.8h0M726.1 464.1h0M664.3 426.2h0M483.9 452.5h0M1046.5 470.6h0M894.8 463.9h0M712.2 458.1h0M520.6 448.4h0M360.4 463.0h0M1071.3 455.9h0M767.5 463.6h0M652.9 474.6h0M522.3 466.0h0M798.2 465.5h0M384.0 457.8h0M709.8 439.0h0M1056.6 457.4h0M822.0 473.2h0M923.4 456.1h0M915.8 472.1h0M433.0 461.3h0M540.9 473.7h0M615.2 429.4h0M612.7 431.6h0M546.0 457.5h0M1059.5 457.6h0M588.1 456.6h0M603.9 467.3h0M497.7 472.7h0M582.4 433.2h0M696.5 432.8h0M735.2 468.5h0M661.1 470.9h0M826.7 477.9h0M345.3 463.1h0M1079.5 459.2h0M821.0 454.2h0M517.1 456.7h0M551.2 466.5h0M812.8 463.7h0M343.3 461.0h0M807.9 452.7h0M1033.2 456.9h0M813.6 457.4h0M625.9 428.8h0M720.1 431.1h0M707.8 483.2h0M1096.9 459.0h0M653.4 460.1h0M368.6 465.2h0M580.1 460.0h0M784.5 468.4h0M1054.6 450.9h0M673.2 470.7h0M672.8 461.8h0M727.8 445.2h0M758.9 465.1h0M962.1 448.4h0M506.4 450.0h0M686.7 436.1h0M749.9 470.4h0M860.8 455.6h0M967.6 448.7h0M783.7 480.7h0M451.8 457.2h0M828.2 478.4h0M607.2 449.1h0M803.5 474.7h0M422.0 454.8h0M309.9 459.5h0M505.0 471.3h0M513.0 454.2h0M793.3 471.9h0M827.5 474.9h0M409.3 453.4h0M789.7 435.5h0M511.7 456.6h0M748.9 451.5h0M280.2 461.1h0M802.5 481.2h0M804.7 453.1h0M668.8 454.5h0M720.9 430.4h0M662.0 492.8h0M558.8 451.7h0M797.9 466.8h0M318.0 460.1h0M474.6 452.9h0M656.0 477.4h0M430.4 468.0h0M485.3 461.1h0M827.1 439.8h0M391.2 462.2h0M821.8 464.8h0M498.4 456.5h0M497.4 452.3h0M454.1 450.5h0M381.7 455.0h0M794.4 450.9h0M294.5 461.5h0M637.9 461.3h0M790.4 468.1h0M972.7 449.8h0M926.1 468.1h0M699.8 487.7h0M893.9 462.0h0M542.9 460.4h0M773.3 451.7h0M704.5 435.5h0M831.2 445.8h0M763.4 463.4h0M494.0 460.0h0M862.4 451.9h0M616.0 451.3h0M536.7 449.1h0M668.9 487.4h0M700.6 479.7h0M976.5 463.0h0M596.9 434.1h0M336.1 464.0h0M749.0 456.4h0M204.2 461.2h0M689.9 424.1h0M848.4 471.4h0M618.4 489.9h0M850.4 448.3h0M678.5 457.9h0M738.9 491.0h0M625.6 435.5h0M235.1 460.9h0M828.9 459.5h0M813.1 463.0h0M359.7 456.9h0M490.5 459.5h0M451.3 463.5h0M921.1 468.0h0M677.7 482.5h0M852.4 449.1h0M945.9 457.1h0M592.5 442.1h0M888.0 466.2h0M1046.1 467.7h0M770.2 484.4h0M412.0 462.8h0M676.0 457.0h0M682.7 436.8h0M808.9 437.4h0M589.1 446.4h0M463.5 449.1h0M474.5 459.1h0M373.5 458.5h0M1073.8 458.5h0M892.3 444.2h0M811.6 471.7h0M912.4 451.4h0M513.3 444.8h0M636.2 449.7h0M911.8 444.8h0M646.6 456.0h0M406.0 456.6h0M911.0 468.9h0M707.6 427.1h0M663.0 464.5h0M566.7 455.2h0M801.6 455.1h0M835.1 461.0h0M660.5 476.0h0M664.9 437.8h0M452.4 452.8h0M1070.1 457.0h0M494.7 470.9h0M352.7 461.3h0M478.0 458.8h0M682.7 427.3h0M1035.7 450.4h0M448.0 469.0h0M824.8 441.1h0M751.6 473.7h0M877.7 469.0h0M202.3 461.1h0M777.1 489.8h0"/>
<path class="b" d="M761.7 544.2h0M1005.7 508.0h0M886.5 509.5h0M851.9 419.0h0M908.4 526.8h0M728.1 407.4h0M969.2 481.2h0M966.6 530.8h0M897.0 386.0h0M776.8 375.0h0M764.0 388.5h0M820.5 422.2h0M949.0 484.2h0M771.3 420.7h0M747.7 399.1h0M993.7 513.3h0M1007.1 419.2h0M860.0 390.7h0M933.1 406.1h0M752.6 381.2h0M894.1 429.9h0M877.5 407.4h0M974.3 510.7h0M905.6 495.6h0M918.2 376.5h0M779.6 286.0h0M932.3 425.1h0M809.6 527.4h0M1001.3 434.9h0M992.7 477.8h0M943.3 487.1h0M1008.7 509.4h0M964.0 401.2h0M597.5 229.4h0M1008.2 478.8h0M740.9 411.7h0M955.8 493.0h0M854.7 511.8h0M814.0 419.2h0M843.6 406.8h0M966.2 506.4h0M983.3 495.5h0M853.8 365.3h0M1071.2 479.6h0M892.1 484.7h0M1029.0 414.2h0M861.8 426.3h0M884.7 432.2h0M1062.0 495.2h0M778.4 377.3h0M855.2 501.4h0M917.2 490.1h0M1015.2 505.2h0M877.4 508.5h0M799.2 425.5h0M969.5 549.6h0M963.6 408.3h0M819.1 427.3h0M759.9 399.4h0M641.7 400.8h0M764.8 358.5h0M1014.0 478.4h0M944.6 503.8h0M897.3 422.5h0M733.9 399.9h0M898.5 409.6h0M883.2 488.0h0M703.7 394.1h0M781.5 536.2h0M957.1 496.0h0M1044.1 428.3h0M680.6 407.5h0M894.7 412.5h0M831.8 382.0h0M886.6 496.7h0M859.4 430.0h0M719.4 280.6h0M671.7 242.9h0M727.7 363.6h0M832.8 400.8h0M968.3 530.1h0M847.4 402.9h0M769.6 404.8h0M1036.7 441.5h0M887.1 501.1h0M724.4 394.1h0M836.0 397.2h0M1006.0 503.4h0M942.2 507.8h0M1019.5 483.1h0M942.5 492.6h0M1053.8 511.0h0M1016.9 489.1h0M930.5 417.7h0M786.7 380.4h0M885.1 505.4h0M783.2 380.4h0M581.0 203.8h0M630.2 395.4h0M703.4 338.9h0M957.9 423.7h0M678.5 513.1h0M853.1 397.8h0M1023.3 546.0h0M622.6 320.3h0M855.4 429.0h0M886.3 394.7h0M847.3 397.8h0M938.8 391.2h0M903.3 516.2h0M762.6 380.7h0M761.5 387.4h0M961.4 494.6h0M890.9 378.9h0M826.2 490.5h0M1007.5 486.6h0M709.8 380.5h0M567.1 329.8h0M816.0 401.2h0M875.5 502.2h0M770.6 545.6h0M775.1 328.0h0M922.8 403.9h0M930.7 407.3h0M768.9 522.9h0M895.2 380.8h0M961.6 497.4h0M877.5 511.2h0M881.7 427.3h0M631.1 365.3h0M970.4 513.8h0M662.8 342.5h0M617.9 361.2h0M875.7 516.2h0M746.6 405.8h0M910.8 481.9h0M832.1 403.8h0M535.8 484.0h0M786.8 426.5h0M674.6 374.1h0M825.0 524.8h0M767.0 316.0h0M838.6 425.4h0M800.3 398.9h0M835.3 358.8h0M976.1 481.2h0M951.9 506.9h0M985.5 514.0h0M749.7 404.8h0M825.7 399.2h0M719.2 544.4h0M816.2 513.5h0M771.2 541.8h0M900.8 494.1h0M838.6 385.3h0M1032.2 482.9h0M692.1 665.0h0M748.9 362.6h0M827.2 424.2h0M852.6 510.1h0M850.0 490.6h0M867.9 385.9h0M864.1 372.2h0M813.5 398.4h0M884.0 384.1h0M636.9 356.5h0M552.1 491.2h0M1073.8 504.0h0M861.1 486.4h0M943.9 533.5h0M1011.3 513.5h0M855.9 535.4h0M853.9 408.2h0M698.4 324.8h0M796.4 328.2h0M1052.7 476.1h0M729.2 422.4h0M810.4 400.7h0M1055.5 498.9h0M931.5 481.9h0M952.9 490.8h0M844.5 432.6h0M639.1 362.4h0M758.2 410.7h0M628.5 521.5h0M882.5 356.7h0M816.5 404.4h0M840.4 507.0h0M824.7 488.6h0M996.9 515.1h0M896.0 419.8h0M836.0 302.7h0M826.9 356.2h0M783.8 412.5h0M1027.5 483.5h0M958.4 372.5h0M779.2 308.1h0M754.5 501.8h0M818.8 404.4h0M929.4 421.5h0M679.0 349.0h0M845.4 383.5h0M1041.6 422.3h0M953.6 497.4h0M762.7 554.0h0M835.3 422.8h0M928.0 500.4h0M772.4 522.7h0M952.5 309.8h0M956.2 544.6h0M948.8 482.1h0M843.1 375.6h0M830.8 427.7h0M851.2 435.6h0M798.5 400.6h0M902.7 483.0h0M663.0 363.6h0M609.3 662.5h0M1148.3 486.2h0M959.6 430.8h0M826.9 393.9h0M971.4 499.8h0M866.7 339.3h0M959.3 509.7h0M756.6 396.4h0M785.5 427.9h0M910.0 359.0h0M971.5 552.3h0M934.4 492.1h0M907.0 483.8h0M805.6 517.4h0M812.5 395.2h0M870.6 532.7h0M802.6 423.4h0M745.6 401.2h0M876.1 407.7h0M501.5 486.0h0M839.6 386.3h0M919.6 516.3h0M971.0 507.9h0M897.0 504.4h0M737.7 569.6h0M930.7 408.2h0M787.0 529.1h0M971.9 508.5h0M926.1 504.1h0M995.0 544.6h0M1015.1 476.2h0M647.0 333.6h0M944.7 435.2h0M723.1 376.8h0M983.1 501.7h0M988.4 495.6h0M784.7 393.4h0M721.5 337.9h0M965.8 511.6h0M749.5 399.9h0M957.9 437.5h0M854.6 415.7h0M846.1 512.0h0M960.9 497.0h0M704.6 369.3h0M876.4 400.9h0M849.3 487.4h0M948.0 425.0h0M754.3 287.1h0M919.6 534.0h0M887.2 506.6h0M962.4 525.5h0M660.8 524.6h0M973.0 478.4h0M662.8 381.9h0M980.2 528.6h0M948.9 397.5h0M750.1 389.3h0M758.5 396.9h0M799.1 393.2h0M852.7 484.8h0M924.6 532.6h0M917.3 423.3h0M533.3 490.8h0M845.0 499.9h0M716.8 388.7h0M893.4 504.0h0M950.8 483.7h0M995.8 495.1h0M998.8 516.4h0M761.1 413.3h0M876.6 394.5h0M566.9 622.7h0M902.5 438.5h0M950.2 545.6h0M917.8 403.3h0M999.4 493.8h0M892.5 414.6h0M908.2 406.9h0M809.2 430.6h0M738.4 422.3h0M755.0 404.5h0M670.8 366.8h0M916.4 486.1h0M895.7 405.7h0M949.5 521.4h0M898.7 402.4h0M843.3 506.6h0M1059.0 494.6h0M1049.8 516.5h0M1057.8 498.8h0M835.5 411.6h0M929.2 400.3h0M989.6 515.6h0M916.4 526.8h0M858.1 523.8h0M873.1 515.9h0M811.5 389.3h0M930.5 388.9h0M931.5 411.7h0M787.2 415.0h0M789.3 381.6h0M871.7 503.8h0M991.9 545.6h0M873.0 506.3h0M926.3 497.4h0M872.1 402.6h0M753.2 391.3h0M928.8 399.9h0M746.7 414.7h0M974.8 476.8h0M1038.3 383.5h0M914.7 502.3h0M843.8 405.0h0M592.5 370.6h0M898.9 513.0h0M1081.2 481.7h0M994.0 531.6h0M1071.1 490.3h0M845.3 500.2h0M843.8 499.3h0M757.6 383.2h0M952.5 531.8h0M1020.9 489.8h0M774.4 404.5h0M997.4 410.8h0M903.9 524.3h0M972.5 513.1h0M761.7 415.5h0M610.3 423.8h0M1029.8 443.6h0M750.0 275.8h0M791.4 410.2h0M739.8 384.3h0M900.7 480.6h0M982.7 439.7h0M1019.8 503.1h0M972.0 515.7h0M961.4 524.6h0M904.2 435.2h0M739.1 502.3h0M923.2 391.3h0M821.8 385.6h0M886.6 394.0h0M951.1 529.0h0M934.0 484.2h0M917.3 482.9h0M830.8 433.6h0M833.6 406.2h0M747.5 398.3h0M893.9 429.3h0M786.5 397.9h0M1070.4 494.3h0M802.9 414.7h0M638.3 572.1h0M724.1 510.3h0M971.4 434.6h0M730.0 423.8h0M808.7 373.5h0M886.6 492.1h0M731.4 518.4h0M951.4 403.2h0M975.2 524.9h0M846.6 516.4h0M788.0 535.6h0M966.0 527.6h0M933.8 482.8h0M604.9 337.6h0M979.4 481.2h0M846.0 488.6h0M885.2 505.9h0M807.6 366.2h0M757.4 426.2h0M578.5 422.5h0M709.6 306.3h0M872.5 531.7h0M1038.1 501.3h0M970.9 520.3h0M897.0 539.6h0M879.1 494.6h0M605.9 384.9h0M940.1 481.5h0M836.6 497.5h0M897.5 485.1h0M941.8 409.4h0M956.9 391.5h0M1015.5 484.1h0M939.8 407.2h0M872.9 501.6h0M808.5 397.1h0M918.5 502.1h0M799.6 379.3h0M677.0 333.7h0M574.4 492.3h0M752.6 519.1h0M968.2 436.0h0M824.9 424.6h0M1007.0 505.0h0M747.6 519.7h0M934.6 522.6h0M818.6 489.0h0M784.2 418.5h0M905.9 518.7h0M804.1 498.0h0M956.0 532.9h0M765.8 382.1h0M797.3 406.2h0M913.3 484.1h0M701.5 351.8h0M890.0 379.3h0M934.0 388.0h0M883.0 533.7h0M954.3 482.6h0M724.3 407.3h0M992.3 478.9h0M963.1 479.8h0M763.3 424.3h0M1051.7 487.6h0M1071.0 510.5h0M797.8 512.3h0M905.9 441.8h0M866.7 436.2h0M927.1 488.2h0M702.7 406.9h0M711.6 353.5h0M956.8 478.5h0M1043.0 486.9h0M786.0 385.3h0M835.7 503.9h0M869.5 436.2h0M582.1 655.4h0M721.8 394.8h0M907.4 419.6h0M839.8 415.8h0M909.1 429.0h0M1007.8 529.6h0M801.9 425.8h0M854.7 501.3h0M802.4 385.9h0M787.8 373.6h0M683.3 403.5h0M915.8 485.9h0M606.7 368.8h0M873.4 407.8h0M957.6 512.8h0M924.9 528.2h0M956.6 516.2h0M789.0 403.4h0M857.8 503.4h0M851.9 511.3h0M884.4 533.9h0M834.6 542.1h0M974.2 434.1h0M948.2 505.8h0M922.7 365.8h0M884.1 529.7h0M951.5 501.2h0M709.5 388.1h0M910.2 481.4h0M632.9 565.2h0M917.0 394.5h0M790.3 350.2h0M887.6 414.5h0M815.9 523.3h0M926.2 514.0h0M926.9 492.9h0M981.5 546.7h0M796.2 426.8h0M914.0 532.5h0M909.0 382.4h0M1024.6 483.2h0M630.9 388.9h0M764.0 497.6h0M995.3 526.8h0M950.7 544.4h0M928.3 526.0h0M730.7 527.7h0M691.7 316.4h0M963.2 521.1h0M914.5 530.5h0M991.5 497.2h0M830.6 397.7h0M996.5 507.1h0M814.6 511.9h0M872.5 424.4h0M862.7 421.0h0M784.8 357.0h0M737.3 409.9h0M929.2 393.8h0M928.3 511.7h0M677.9 663.9h0M868.8 533.9h0M751.5 262.7h0M784.7 515.1h0M946.7 477.6h0M943.2 392.1h0M1029.3 497.1h0M950.0 486.6h0M664.0 186.7h0M892.2 429.4h0M857.4 504.0h0M601.0 421.8h0M767.4 383.0h0M853.4 433.7h0M966.8 520.1h0M1050.4 482.9h0M845.6 405.7h0M1053.1 473.4h0M830.5 384.7h0M965.8 496.4h0M805.3 366.4h0M693.3 415.9h0M886.9 402.8h0M954.1 438.5h0M948.6 486.6h0M738.2 336.7h0M909.2 333.1h0M762.0 369.3h0M804.3 382.2h0M983.6 525.5h0M904.3 418.1h0M940.6 515.5h0M1019.0 488.4h0M962.9 480.6h0M956.0 499.2h0M793.4 409.9h0M1069.6 492.2h0M831.1 505.2h0M706.0 402.7h0M844.5 391.6h0M929.1 411.1h0M864.9 397.4h0M771.0 428.6h0M857.1 498.0h0M889.7 378.3h0M989.5 402.9h0M950.2 411.6h0M764.7 424.9h0M721.7 361.6h0M593.3 537.5h0M744.2 400.9h0M909.0 539.5h0M879.5 419.9h0M891.0 511.4h0M847.1 406.4h0M741.7 386.0h0M1070.4 486.3h0M774.8 378.9h0M1035.9 474.9h0M1058.9 502.6h0M946.4 495.7h0M535.8 495.0h0M948.8 422.5h0M873.1 523.6h0M817.2 428.3h0M911.9 518.3h0M836.4 426.2h0M800.2 408.0h0M787.1 417.2h0M907.8 437.0h0M956.5 497.3h0M885.1 544.8h0M781.0 504.3h0M1016.1 501.0h0M846.6 513.6h0M734.4 382.6h0M987.0 531.7h0M1022.4 501.2h0M839.5 435.8h0M843.5 350.5h0M729.5 351.8h0M768.2 427.6h0M772.6 512.1h0M723.7 516.5h0M936.6 410.9h0M865.2 348.5h0M573.3 362.5h0M942.3 524.9h0M923.4 527.4h0M1020.4 502.6h0M929.4 480.8h0M783.7 428.9h0M666.1 374.1h0M774.6 375.1h0M962.3 531.2h0M547.3 310.0h0M896.1 530.8h0M1052.4 474.2h0M939.3 487.8h0M888.3 524.1h0M749.7 384.5h0M940.4 485.0h0M980.6 489.2h0M929.0 424.7h0M859.0 517.2h0M956.7 430.6h0M806.0 498.4h0M851.0 525.1h0M818.0 423.7h0M717.1 499.6h0M1029.6 529.4h0M1179.6 492.7h0M895.1 491.2h0M723.8 390.3h0M836.7 406.5h0M829.4 382.6h0M903.3 519.6h0M894.3 500.0h0M928.9 412.2h0M1029.3 493.9h0M774.0 372.9h0M1044.8 510.9h0M766.0 530.0h0M780.3 358.5h0M1094.3 489.3h0M777.9 383.4h0M748.2 320.1h0M526.8 682.5h0M815.1 367.0h0M1056.2 492.7h0M779.8 428.6h0M815.6 430.5h0M704.3 349.9h0M878.4 432.7h0M737.5 415.7h0M997.0 526.2h0M998.1 478.8h0M878.2 437.3h0M1004.7 483.4h0M1015.0 500.5h0M872.7 357.6h0M885.8 397.1h0M878.4 526.0h0M876.3 409.7h0M922.5 540.3h0M887.3 510.7h0M898.3 434.3h0M802.5 397.3h0M985.9 485.4h0M816.7 498.7h0M795.5 505.8h0M781.0 326.9h0M984.2 498.4h0M844.9 513.0h0M773.4 373.5h0M992.9 478.8h0M821.7 372.7h0M750.0 533.0h0M964.9 509.2h0M889.7 510.2h0M897.9 499.4h0M921.1 441.6h0M788.1 187.5h0M965.9 513.2h0M1107.7 517.1h0M964.5 400.8h0M941.1 491.2h0M954.0 479.4h0M914.0 518.3h0M605.0 369.3h0M694.6 386.5h0M944.6 434.0h0M899.2 385.9h0M804.3 541.0h0M951.0 382.4h0M870.7 520.1h0M828.0 413.9h0M811.3 379.4h0M827.7 366.3h0M879.3 505.0h0M1066.5 483.3h0M733.6 506.6h0M700.9 399.4h0M653.9 297.0h0M653.1 263.8h0M935.7 500.7h0M936.6 425.0h0M980.7 479.2h0M701.0 267.1h0M842.2 509.0h0M1036.0 488.0h0M806.4 363.9h0M750.0 332.2h0M977.3 511.2h0M901.1 491.6h0M889.6 414.0h0M864.6 420.9h0M841.6 521.9h0M973.6 484.9h0M791.9 365.6h0M968.1 503.5h0M911.4 416.0h0M898.6 411.9h0M936.2 527.3h0M909.6 487.4h0M1040.7 517.1h0M973.3 399.5h0M765.5 348.7h0M969.0 559.2h0M700.4 546.5h0M977.0 521.7h0M858.4 488.9h0M767.9 404.7h0M804.6 426.0h0M875.3 487.1h0M859.2 500.2h0M912.2 508.2h0M772.7 428.5h0M1003.8 477.8h0M870.8 522.2h0M986.9 482.5h0M868.5 427.0h0M1103.5 514.0h0M695.0 310.8h0M935.5 407.8h0M897.1 550.8h0M641.4 346.6h0M970.2 520.2h0M883.3 484.4h0M1027.1 482.7h0M951.8 442.4h0M962.5 477.3h0M1023.8 506.8h0M1085.8 510.2h0M895.0 409.4h0M1053.3 481.1h0M808.8 531.4h0M901.7 518.4h0M880.9 535.5h0M720.9 347.3h0M854.2 487.8h0M882.5 541.3h0M1011.1 525.7h0M953.1 522.5h0M815.3 378.9h0M889.7 361.0h0M952.6 407.2h0M694.4 351.2h0M956.1 426.9h0M840.4 394.0h0M806.7 400.4h0M1030.8 474.9h0M852.6 511.3h0M881.7 410.8h0M943.6 493.0h0M967.0 501.7h0M847.2 394.2h0M784.4 414.3h0M749.1 378.5h0M915.3 534.1h0M853.6 516.1h0M690.2 356.6h0M921.3 497.5h0M789.3 424.6h0M869.2 335.2h0M859.1 506.1h0M968.3 477.9h0M763.3 268.8h0M903.1 504.6h0M827.1 379.1h0M820.6 391.9h0M1065.3 482.7h0M788.2 417.9h0M781.9 410.2h0M842.3 519.5h0M789.8 405.5h0M845.5 406.8h0M706.1 407.4h0M756.0 401.8h0M914.4 507.9h0M815.2 502.9h0M904.4 378.2h0M957.0 503.0h0M888.0 498.8h0M980.3 534.8h0M1154.0 345.0h0M839.4 531.7h0M950.3 492.6h0M972.9 528.6h0M1002.1 475.5h0M1032.1 503.2h0M862.7 426.9h0M897.9 483.3h0M881.3 544.1h0M797.7 386.0h0M626.6 374.7h0M833.6 411.7h0M661.3 402.8h0M919.8 375.3h0M995.1 477.4h0M872.1 496.4h0M877.5 496.3h0"/>
<path class="g" d="M604.2 433.6h0M589.6 478.0h0M284.9 460.3h0M1049.5 456.2h0M824.1 442.2h0M647.5 430.0h0M927.9 475.2h0M839.5 464.8h0M768.0 450.2h0M910.4 460.6h0M980.8 451.7h0M749.4 485.0h0M852.0 480.2h0M755.5 457.4h0M704.9 456.1h0M592.6 467.1h0M629.2 456.5h0M501.3 451.1h0M814.3 454.8h0M485.6 452.1h0M883.3 449.0h0M455.6 459.7h0M795.1 457.3h0M583.2 468.7h0M877.1 446.3h0M792.3 469.6h0M666.6 430.2h0M490.5 451.6h0M677.3 453.4h0M1001.5 447.4h0M907.0 464.1h0M285.8 460.1h0M516.5 469.9h0M612.1 485.8h0M429.0 458.6h0M1087.2 461.5h0M593.1 452.5h0M383.4 456.3h0M598.4 463.2h0M965.7 463.7h0M818.6 456.5h0M330.4 463.8h0M478.0 447.9h0M981.2 463.8h0M676.6 436.3h0M472.1 471.2h0M562.9 436.6h0M538.3 442.0h0M979.4 467.9h0M492.0 455.2h0M1006.7 447.0h0M568.8 459.6h0M737.5 454.4h0M656.3 441.2h0M598.5 441.5h0M1080.0 454.9h0M705.1 446.3h0M737.8 446.6h0M534.4 463.2h0M733.9 493.4h0M776.5 481.5h0M398.9 455.2h0M713.5 434.0h0M810.2 477.3h0M842.2 481.0h0M631.1 439.5h0M847.0 457.2h0M404.8 460.7h0M908.2 469.3h0M1064.7 469.6h0M987.1 457.6h0M421.8 454.1h0M1020.0 462.5h0M442.8 452.6h0M400.5 462.9h0M652.4 449.1h0M796.3 462.4h0M512.8 464.9h0M902.1 454.4h0M602.6 438.4h0M844.0 469.6h0M946.8 468.2h0M1193.8 462.9h0M383.4 459.7h0M818.9 468.2h0M473.5 456.7h0M950.8 454.3h0M578.1 457.1h0M826.0 468.6h0M659.0 461.8h0M1050.8 454.0h0M642.3 468.3h0M1000.7 462.7h0M477.4 452.0h0M315.6 460.1h0M634.6 491.4h0M866.1 470.9h0M684.6 493.7h0M610.7 446.5h0M542.0 446.2h0M416.8 458.6h0M1043.4 450.3h0M961.5 451.1h0M254.9 460.5h0M481.6 468.0h0M562.2 465.5h0M642.5 474.8h0M591.6 452.7h0M621.5 485.2h0M787.0 441.3h0M999.8 470.6h0M464.0 450.0h0M712.8 461.4h0M729.9 431.2h0M1033.0 456.1h0M593.4 447.1h0M602.4 472.0h0M692.3 476.4h0M612.9 440.8h0M219.1 460.8h0M910.5 456.8h0M981.1 450.6h0M551.2 464.8h0M745.7 449.9h0M412.1 454.7h0M874.5 457.0h0M649.7 463.7h0M416.4 461.7h0M591.8 450.7h0M799.4 443.2h0M229.7 460.8h0M339.4 459.1h0M660.3 433.4h0M411.0 455.5h0M660.3 463.1h0M640.1 472.1h0M1002.6 467.3h0M1024.6 454.9h0M575.6 470.9h0M485.9 461.0h0M771.5 455.9h0M902.8 459.8h0M583.8 449.6h0M711.5 447.9h0M857.3 447.6h0M809.4 462.1h0M808.5 449.1h0M734.6 484.1h0M472.1 450.5h0M426.1 454.0h0M1052.3 465.6h0M487.7 463.5h0M896.0 452.7h0M1008.6 456.1h0M468.2 467.5h0M905.2 470.3h0M413.2 463.1h0M540.0 457.7h0M713.6 452.4h0M875.7 443.2h0M591.2 477.7h0M950.3 453.0h0M979.0 467.3h0M248.7 460.6h0M736.2 443.5h0M639.2 430.7h0M705.7 444.5h0M543.9 468.3h0M885.0 455.6h0M504.8 464.3h0M566.7 466.9h0M586.6 479.5h0M933.3 465.1h0M587.4 453.3h0M743.7 440.1h0M583.3 445.9h0M918.2 452.1h0M695.7 445.9h0M1056.9 464.2h0M752.2 469.1h0M683.5 495.9h0M637.4 459.8h0M583.5 453.4h0M248.8 461.6h0M862.5 469.0h0M689.0 431.9h0M788.9 479.0h0M639.3 496.5h0M760.1 480.2h0M794.7 448.4h0M895.9 447.5h0M1014.1 463.4h0M827.4 452.3h0M463.0 466.0h0M639.3 449.0h0M1023.3 467.1h0M654.3 469.4h0M920.4 461.0h0M825.8 476.2h0M516.0 449.7h0M554.5 463.0h0M1056.7 471.6h0M666.8 456.5h0M655.2 428.7h0M507.9 448.1h0M351.8 460.4h0M841.6 474.7h0M436.7 454.0h0M1054.8 454.0h0M703.7 438.0h0M1047.9 457.8h0M218.4 460.4h0M532.5 441.0h0M350.1 461.7h0M738.8 475.0h0M925.9 449.5h0M795.6 450.8h0M789.7 479.8h0M780.6 454.2h0M598.6 450.8h0M798.0 474.9h0M815.9 451.5h0M657.6 472.9h0M610.6 483.2h0M830.8 471.1h0M822.3 458.6h0M491.2 464.8h0M598.2 432.2h0M900.1 450.4h0M884.6 460.5h0M900.2 462.5h0M566.0 478.1h0M998.5 460.6h0M528.4 446.3h0M627.1 431.1h0M567.8 456.8h0M697.7 483.4h0M517.8 450.3h0M647.8 445.7h0M459.3 469.6h0M242.9 461.4h0M815.8 462.1h0M993.2 447.7h0M696.8 434.7h0M1038.1 451.5h0M587.2 459.7h0M1024.2 453.1h0M617.2 487.4h0M332.0 460.1h0M812.6 460.9h0M798.3 437.0h0M509.5 467.8h0M646.8 452.5h0M1064.1 452.0h0M388.4 461.3h0M623.8 447.8h0M198.9 460.6h0M831.0 448.1h0M770.2 455.6h0M464.7 457.7h0M610.4 428.8h0M1007.3 456.7h0M696.5 465.7h0M709.5 450.7h0M510.3 463.1h0M211.4 460.4h0M751.5 476.4h0M870.3 460.4h0M722.0 479.4h0M974.6 454.0h0M863.7 460.3h0M692.3 489.3h0M886.2 477.3h0M723.2 440.1h0M787.0 458.3h0M610.9 468.0h0M723.7 460.2h0M621.5 457.8h0M240.0 460.5h0M596.7 465.0h0M637.4 457.5h0M566.7 456.6h0M248.0 460.6h0M271.1 460.4h0M947.5 465.6h0M893.8 458.6h0M1057.8 452.4h0M876.3 457.7h0M590.6 466.6h0M560.3 480.8h0M526.3 470.1h0M937.7 450.1h0M580.2 484.5h0M967.7 467.3h0M897.1 461.8h0M564.8 464.6h0M601.6 439.0h0M907.8 446.2h0M563.9 474.0h0M291.4 459.4h0M750.0 464.6h0M1005.4 451.8h0M805.9 481.0h0M503.5 462.8h0M880.8 474.8h0M1011.2 463.1h0M666.1 425.5h0M575.6 434.3h0M497.1 448.7h0M867.8 460.4h0M962.7 455.6h0M1028.5 456.1h0M788.0 436.7h0M869.9 465.9h0M235.8 461.3h0M748.5 435.7h0M570.7 475.4h0M730.0 479.8h0M647.3 494.8h0M557.2 472.3h0M760.5 456.1h0M494.8 447.4h0M776.2 456.9h0M613.1 474.3h0M491.4 472.2h0M932.5 457.9h0M944.9 460.6h0M366.4 462.8h0M419.4 451.9h0M759.2 471.9h0M641.2 437.5h0M920.5 474.8h0M766.7 434.8h0M498.3 453.1h0M805.1 444.9h0M523.7 459.5h0M544.1 445.3h0M476.6 459.3h0M666.0 441.0h0M812.9 467.1h0M1082.2 453.4h0M684.1 447.2h0M407.2 452.4h0M835.7 460.8h0M867.1 453.2h0M1143.8 467.5h0M692.3 456.2h0M783.7 453.7h0M292.8 461.1h0M628.2 431.1h0M788.6 464.3h0M291.0 462.0h0M615.8 444.9h0M825.2 445.3h0M794.1 453.8h0M412.2 465.9h0M654.5 436.5h0M689.5 486.5h0M964.7 471.4h0M529.0 479.4h0M247.5 460.1h0M922.6 456.7h0M767.4 482.0h0M887.7 452.4h0M824.6 451.1h0M624.9 426.5h0M884.0 470.8h0M616.9 469.0h0M521.3 471.7h0M598.7 455.5h0M798.4 442.4h0M629.6 466.8h0M627.6 485.2h0M508.6 454.1h0M753.9 449.2h0M628.1 492.6h0M538.2 462.1h0M1000.9 453.4h0M866.8 473.3h0M572.2 463.7h0M535.9 441.2h0M708.3 466.7h0M1088.9 460.0h0M740.6 456.7h0M797.1 482.6h0M581.9 442.4h0M463.6 466.3h0M884.7 468.0h0M522.4 456.1h0M687.7 448.5h0M738.9 489.5h0M573.8 453.8h0M857.4 476.5h0M578.7 453.0h0M995.0 463.1h0M979.5 469.3h0M367.3 456.2h0M847.0 472.0h0M663.4 439.6h0M562.7 476.4h0M619.5 425.4h0M740.2 465.7h0M785.4 458.1h0M697.4 432.7h0M477.9 454.1h0M505.7 449.9h0M796.9 447.5h0M651.7 494.0h0M758.1 462.9h0M508.6 463.7h0M781.5 482.4h0M647.7 452.8h0M477.4 461.1h0M757.3 489.7h0M513.4 449.6h0M839.5 454.0h0M697.0 437.0h0M670.8 456.5h0M797.4 459.5h0M832.4 470.9h0M211.5 460.7h0M482.0 468.8h0M862.3 453.3h0M949.0 475.1h0M670.1 455.2h0M644.0 437.9h0M907.5 463.2h0M589.7 475.7h0M943.0 466.9h0M686.7 468.7h0M469.8 463.6h0M308.2 461.4h0M815.5 444.2h0M678.0 476.7h0M538.5 441.8h0M740.2 436.6h0M569.8 457.0h0M611.8 429.4h0M746.7 487.6h0M934.3 450.7h0M571.1 436.4h0M686.5 455.8h0M588.3 485.8h0M722.8 446.0h0M906.8 476.4h0M844.2 478.0h0M525.5 442.3h0M999.8 468.3h0M659.7 476.0h0M952.0 459.3h0M906.9 473.4h0M866.0 446.9h0M610.3 444.1h0M862.6 448.2h0M776.4 450.7h0M736.8 444.9h0M565.3 459.7h0M520.8 454.0h0M1068.1 454.8h0M675.7 458.6h0M512.3 468.3h0M1093.9 466.0h0M823.5 473.0h0M975.0 452.1h0M791.9 484.2h0M649.3 485.1h0M483.3 453.7h0M701.4 433.7h0M938.1 451.6h0M710.9 470.1h0M460.7 468.7h0M750.2 478.6h0M920.4 456.7h0M653.3 427.1h0M727.3 473.4h0M1070.5 465.1h0M203.8 460.6h0M594.2 443.2h0M337.2 460.6h0M1096.9 475.2h0M677.5 459.5h0M710.4 467.5h0M749.7 447.7h0M625.5 453.9h0M860.7 454.6h0M659.3 452.0h0M354.7 459.6h0M317.8 459.4h0M582.5 485.5h0M849.7 455.8h0M811.9 468.7h0M665.1 447.5h0M622.9 468.6h0M781.9 471.4h0M634.0 457.0h0M773.3 438.6h0M902.5 469.0h0M1002.3 471.5h0M886.8 465.1h0M686.6 438.6h0M760.5 458.6h0M655.8 464.9h0M1094.0 459.7h0M634.3 486.3h0M1013.5 459.7h0M402.5 464.7h0M656.3 443.6h0M981.3 448.5h0M240.6 461.2h0M1033.1 470.3h0M641.3 426.1h0M535.3 464.2h0M513.1 450.1h0M554.7 472.0h0M447.4 453.3h0M262.3 460.4h0M909.7 476.3h0M738.8 490.1h0M1042.9 468.0h0M467.9 452.9h0M492.5 471.8h0M860.3 474.8h0M1099.2 461.0h0M558.6 461.1h0M1056.4 466.3h0M723.3 466.3h0M687.4 428.4h0M1067.7 450.4h0M237.5 460.5h0M778.0 466.7h0M860.3 444.4h0M716.5 475.8h0M736.9 455.8h0M437.6 462.5h0M541.0 452.7h0M456.6 461.8h0M642.1 493.7h0M700.2 472.6h0M1043.5 470.3h0M1055.9 449.6h0M1047.1 459.5h0M467.3 453.5h0M828.2 463.1h0M403.2 454.3h0M659.0 445.1h0M1048.6 453.6h0M786.6 468.7h0M641.2 475.1h0M749.6 482.0h0M646.4 448.5h0M518.0 443.8h0M555.3 450.7h0M214.0 461.0h0M1025.7 453.2h0M895.0 454.2h0M720.7 448.1h0M666.6 471.9h0M646.5 477.8h0M830.6 471.8h0M837.1 481.6h0M895.3 444.7h0M1106.2 455.4h0M343.8 461.4h0M511.1 467.4h0M565.7 444.4h0M1069.9 467.1h0M521.6 449.7h0M590.5 454.4h0M427.8 461.0h0M557.6 475.3h0M872.7 449.6h0M278.7 460.7h0M553.3 454.5h0M766.9 472.6h0M1009.4 459.8h0M492.0 457.2h0M203.6 460.7h0M720.1 460.8h0M909.7 466.9h0M1075.3 457.2h0M714.1 460.4h0M771.5 486.5h0M959.8 465.0h0M781.9 460.3h0M823.0 471.9h0M436.0 454.1h0M769.3 474.7h0"/>
<path class="b" d="M869.0 561.2h0M977.0 434.1h0M805.3 431.1h0M955.5 427.3h0M910.8 494.4h0M782.2 423.7h0M816.5 400.8h0M830.6 384.9h0M801.0 347.9h0M889.9 482.8h0M923.2 536.6h0M872.6 493.8h0M904.7 521.9h0M816.0 388.7h0M846.6 377.2h0M621.2 516.2h0M655.7 273.3h0M819.0 590.4h0M872.0 509.3h0M739.7 410.3h0M1021.2 495.7h0M898.6 505.6h0M846.9 417.2h0M724.5 393.4h0M1053.8 510.5h0M627.5 536.5h0M958.8 481.8h0M858.6 507.7h0M643.7 406.6h0M937.6 501.7h0M863.6 504.9h0M621.2 217.1h0M940.3 511.2h0M804.1 416.2h0M1009.9 442.9h0M756.0 357.2h0M741.9 554.0h0M863.7 507.8h0M847.8 427.6h0M1125.8 432.5h0M906.1 492.6h0M855.0 374.3h0M675.5 324.6h0M729.6 361.9h0M915.7 405.7h0M1075.9 477.3h0M856.6 402.3h0M939.4 492.5h0M698.3 525.0h0M793.3 394.9h0M846.5 405.8h0M1039.7 481.8h0M998.6 501.1h0M711.8 316.7h0M828.7 352.7h0M806.7 336.9h0M820.6 389.3h0M783.1 521.3h0M916.9 551.9h0M918.8 385.3h0M981.9 347.5h0M993.2 484.1h0M840.9 423.2h0M751.8 374.4h0M699.6 383.4h0M867.1 493.5h0M914.5 394.5h0M1021.1 504.1h0M1024.2 482.8h0M1104.8 487.9h0M962.6 521.0h0M921.7 418.6h0M846.5 421.1h0M750.8 286.2h0M844.0 428.9h0M848.6 346.8h0M957.3 522.4h0M885.2 400.4h0M985.4 502.6h0M937.1 509.8h0M747.9 421.1h0M811.8 431.2h0M1094.8 498.1h0M890.6 385.1h0M867.0 533.9h0M961.7 440.2h0M806.5 543.8h0M952.5 498.2h0M847.1 363.4h0M936.3 375.6h0M906.4 531.6h0M813.7 401.7h0M938.7 367.2h0M1102.7 505.0h0M975.3 424.4h0M871.5 384.4h0M903.8 433.7h0M764.6 392.6h0M917.8 389.7h0M818.9 419.2h0M681.7 537.1h0M936.2 500.5h0M848.3 428.8h0M925.3 510.3h0M864.1 490.4h0M904.8 408.1h0M826.7 431.9h0M989.9 509.9h0M962.3 431.6h0M1032.0 498.2h0M950.6 530.9h0M896.2 436.8h0M1109.8 497.3h0M677.9 396.6h0M885.5 343.3h0M861.5 492.1h0M740.5 396.3h0M1083.8 515.4h0M957.2 492.8h0M806.7 371.6h0M1000.8 514.5h0M1093.5 481.4h0M1004.1 506.7h0M794.6 392.8h0M913.0 418.1h0M835.3 394.3h0M764.8 420.9h0M857.9 389.9h0M1025.2 481.0h0M925.7 532.0h0M1026.9 524.2h0M868.1 494.3h0M908.6 479.3h0M864.0 542.1h0M1056.3 474.3h0M964.2 505.0h0M918.4 508.3h0M871.1 431.2h0M888.4 514.2h0M914.2 570.2h0M949.0 484.3h0M840.0 489.2h0M769.5 418.1h0M761.5 405.4h0M674.8 327.2h0M655.3 269.1h0M906.4 546.6h0M906.0 485.9h0M903.9 418.2h0M865.5 485.3h0M909.5 510.3h0M942.6 483.0h0M839.4 237.3h0M844.6 386.5h0M916.5 412.6h0M802.7 418.0h0M855.6 409.5h0M955.3 418.0h0M953.8 411.4h0M799.0 405.1h0M765.8 383.0h0M848.2 387.0h0M820.8 337.1h0M866.8 428.7h0M1039.5 408.4h0M985.3 532.8h0M812.1 345.7h0M1154.8 498.5h0M965.4 521.2h0M777.5 381.0h0M755.4 365.3h0M809.8 412.9h0M978.5 414.2h0M780.1 389.0h0M833.1 492.7h0M942.5 388.3h0M809.5 423.7h0M799.8 422.8h0M939.6 527.3h0M958.7 481.9h0M715.4 346.2h0M923.9 404.9h0M730.8 394.5h0M904.7 437.6h0M705.6 298.5h0M863.2 382.1h0M712.2 413.8h0M970.9 485.4h0M702.8 409.2h0M862.8 511.8h0M926.9 503.5h0M994.4 418.2h0M1006.5 481.3h0M688.7 409.6h0M543.1 328.8h0M869.3 384.1h0M643.8 590.6h0M946.6 490.8h0M844.9 402.8h0M755.2 526.5h0M875.9 510.5h0M915.9 535.6h0M1023.7 408.7h0M957.9 528.7h0M744.1 310.9h0M747.7 504.1h0M896.8 428.1h0M995.2 433.0h0M874.0 422.9h0M892.6 504.8h0M792.4 410.7h0M988.0 502.5h0M964.4 515.2h0M791.0 384.7h0M908.5 511.6h0M873.8 428.4h0M899.6 417.9h0M921.5 533.8h0M723.5 350.1h0M719.4 419.5h0M887.9 389.4h0M1027.9 475.7h0M806.3 413.8h0M1031.2 495.7h0M813.4 495.3h0M876.7 511.1h0M941.2 432.0h0M877.0 492.6h0M911.5 519.6h0M991.4 485.8h0M662.3 382.5h0M847.3 387.5h0M1011.7 499.1h0M1084.0 484.8h0M967.2 529.2h0M878.4 395.4h0M896.6 514.6h0M947.1 499.5h0M1044.4 480.8h0M1008.8 427.9h0M827.4 356.1h0M968.1 494.7h0M1035.9 512.0h0M549.4 424.6h0M788.5 407.8h0M800.0 365.0h0M1034.2 404.6h0M984.1 506.4h0M945.5 438.2h0M980.3 515.3h0M965.3 414.0h0M1004.9 399.7h0M936.9 497.7h0M896.0 497.7h0M999.7 480.9h0M942.8 538.8h0M979.0 442.6h0M779.2 391.8h0M811.1 399.9h0M608.8 187.7h0M948.7 430.0h0M944.7 492.9h0M856.6 399.5h0M882.4 389.1h0M1032.8 489.3h0M838.4 361.7h0M848.5 514.1h0M985.1 407.7h0M1039.2 441.6h0M755.2 520.1h0M896.9 390.8h0M801.9 420.2h0M769.7 520.0h0M836.0 528.6h0M970.4 545.8h0M965.7 384.6h0M969.8 480.6h0M917.5 386.8h0M990.2 536.4h0M823.0 372.1h0M986.2 526.2h0M738.5 420.0h0M708.9 411.3h0M926.4 502.9h0M928.1 397.1h0M752.0 306.4h0M883.7 513.8h0M965.5 425.2h0M868.2 420.0h0M948.2 493.6h0M546.2 421.5h0M1045.3 439.5h0M982.3 476.4h0M960.5 489.2h0M842.6 421.1h0M832.5 504.5h0M984.9 529.6h0M983.6 431.5h0M763.4 329.2h0M897.6 436.2h0M890.4 507.0h0M744.9 393.1h0M881.9 395.5h0M994.0 499.3h0M896.9 383.9h0M733.5 407.0h0M758.3 395.4h0M757.8 427.2h0M566.7 263.3h0M874.5 511.2h0M948.6 496.6h0M845.9 390.5h0M862.5 364.9h0M896.4 401.6h0M789.7 429.8h0M862.8 486.0h0M1054.6 394.0h0M924.3 436.6h0M901.2 419.8h0M867.1 495.1h0M691.0 537.7h0M951.4 493.8h0M847.8 425.0h0M1002.4 484.1h0M866.9 534.5h0M834.2 359.7h0M958.6 480.4h0M755.0 423.6h0M859.2 502.5h0M580.2 582.3h0M838.8 503.1h0M969.3 502.9h0M900.0 406.3h0M553.8 507.5h0M959.6 524.0h0M938.9 517.5h0M1040.6 532.1h0M859.3 363.4h0M763.1 416.8h0M1148.1 496.0h0M808.6 495.0h0M738.3 267.3h0M918.5 485.6h0M889.3 391.9h0M866.7 532.1h0M787.0 355.2h0M999.1 509.8h0M869.4 519.8h0M858.5 407.0h0M885.8 412.1h0M865.0 369.6h0M967.8 537.8h0M975.0 509.0h0M904.3 421.5h0M980.4 475.9h0M855.2 395.0h0M908.4 489.8h0M918.7 504.3h0M731.0 377.8h0M840.5 437.7h0M789.8 518.4h0M796.6 404.8h0M1057.6 445.1h0M995.7 498.1h0M989.2 482.0h0M870.8 433.5h0M886.6 497.0h0M752.5 385.7h0M812.4 510.6h0M991.0 517.7h0M569.8 334.0h0M954.9 513.8h0M891.9 559.8h0M756.3 352.4h0M1043.0 396.4h0M914.4 431.5h0M872.9 506.6h0M902.2 401.8h0M823.0 417.2h0M932.6 481.2h0M959.6 516.8h0M783.7 347.9h0M842.3 317.5h0M761.6 349.8h0M1008.9 502.2h0M860.4 513.0h0M738.5 428.0h0M864.0 427.6h0M884.8 417.1h0M885.7 429.0h0M832.0 350.4h0M652.9 555.8h0M930.4 484.3h0M796.5 309.4h0M860.7 420.1h0M839.7 418.3h0M548.3 485.0h0M886.0 408.9h0M836.3 525.2h0M766.9 493.1h0M890.9 357.3h0M884.8 421.3h0M839.8 529.9h0M705.6 181.5h0M931.9 442.1h0M647.4 339.1h0M672.5 406.9h0M624.4 626.0h0M776.9 392.9h0M984.9 489.7h0M618.3 307.9h0M868.7 418.8h0M857.9 406.6h0M738.5 413.7h0M1008.5 418.9h0M996.7 488.5h0M1016.4 504.7h0M926.6 408.8h0M970.4 407.2h0M843.7 525.8h0M819.8 505.2h0M953.2 397.2h0M992.8 508.0h0M896.1 498.6h0M676.8 355.5h0M900.2 387.6h0M864.8 498.5h0M920.7 490.7h0M769.6 371.4h0M743.0 347.9h0M843.2 345.0h0M939.9 483.5h0M783.9 508.7h0M872.6 511.9h0M895.6 407.0h0M995.6 493.3h0M798.4 343.5h0M762.5 414.6h0M852.1 537.2h0M904.3 408.0h0M816.7 373.3h0M982.4 517.3h0M999.2 518.4h0M971.4 530.0h0M861.6 541.0h0M710.1 341.6h0M984.7 511.3h0M652.0 408.7h0M737.1 420.6h0M1044.0 490.0h0M1014.8 480.8h0M951.0 486.7h0M889.7 439.6h0M929.4 402.0h0M833.9 429.3h0M704.8 422.1h0M717.3 353.0h0M861.1 482.4h0M977.6 433.5h0M828.2 403.0h0M903.8 387.3h0M937.7 488.7h0M739.5 352.7h0M736.6 396.5h0M1057.7 427.0h0M952.3 412.1h0M974.5 519.3h0M788.1 362.9h0M771.0 333.6h0M888.2 490.8h0M867.8 502.5h0M998.2 496.6h0M1045.9 501.0h0M996.1 501.8h0M933.4 517.1h0M817.4 417.0h0M901.6 480.8h0M771.3 522.3h0M625.2 408.9h0M826.2 547.7h0M1128.8 493.5h0M810.0 390.7h0M768.8 352.7h0M918.1 542.6h0M944.9 494.0h0M754.9 391.6h0M975.0 524.3h0M1087.1 544.2h0M850.4 412.9h0M904.6 511.0h0M969.1 425.4h0M746.4 337.4h0M991.8 503.1h0M987.0 537.5h0M842.5 487.6h0M910.8 506.0h0M1016.3 515.2h0M877.6 523.8h0M1078.5 484.3h0M989.5 513.7h0M827.8 521.8h0M763.6 524.9h0M1056.7 496.5h0M1004.8 484.9h0M984.7 515.9h0M894.7 408.4h0M803.6 360.1h0M819.5 372.6h0M977.9 529.1h0M1116.7 438.3h0M896.1 405.3h0M800.7 390.3h0M778.3 413.2h0M981.3 494.4h0M836.9 487.2h0M788.9 425.0h0M781.0 422.2h0M744.6 409.2h0M869.9 410.7h0M661.9 413.0h0M701.9 420.5h0M1037.9 486.7h0M1068.0 487.2h0M1053.5 481.0h0M825.9 356.9h0M494.6 442.7h0M746.4 417.1h0M952.7 482.7h0M1092.5 534.0h0M782.1 419.3h0M898.9 509.8h0M971.2 538.3h0M672.3 503.3h0M900.3 384.6h0M979.6 482.4h0M874.6 412.7h0M1066.9 518.1h0M1001.4 438.2h0M708.3 409.2h0M874.3 490.2h0M849.9 427.2h0M868.4 412.0h0M777.6 536.9h0M882.1 524.5h0M940.7 412.6h0M790.5 417.6h0M707.0 316.0h0M1009.7 528.2h0M984.4 513.3h0M935.3 533.7h0M940.9 496.5h0M699.0 407.7h0M964.3 413.1h0M878.8 484.0h0M941.6 529.7h0M991.3 428.5h0M856.7 413.7h0M950.2 528.2h0M820.4 406.2h0M825.9 432.4h0M679.4 371.0h0M948.9 518.8h0M694.3 372.5h0M516.7 435.0h0M918.4 413.8h0M937.5 482.0h0M989.2 495.7h0M861.9 420.5h0M1060.5 485.9h0M988.3 488.2h0M820.3 413.2h0M822.9 363.3h0M844.5 327.6h0M873.4 508.2h0M823.1 509.5h0M987.3 536.0h0M1061.7 492.9h0M826.9 486.0h0M848.7 400.0h0M929.8 418.6h0M807.1 389.6h0M744.2 346.6h0M1033.3 483.1h0M918.0 418.5h0M647.7 228.1h0M944.8 549.6h0M757.6 371.1h0M808.4 544.8h0M973.3 500.9h0M864.5 491.1h0M946.6 510.5h0M864.4 504.3h0M989.1 536.3h0M820.0 517.5h0M794.1 523.7h0M996.0 504.7h0M736.1 402.9h0M1026.5 416.9h0M914.9 484.9h0M880.3 424.5h0M672.1 300.3h0M928.9 505.7h0M1032.1 545.0h0M1071.3 504.1h0M782.5 413.3h0M660.4 503.3h0M901.1 499.2h0M1051.8 522.5h0M876.1 517.7h0M798.9 422.8h0M947.6 496.4h0M967.5 443.4h0M918.0 484.3h0M894.0 438.3h0M974.8 436.2h0M876.1 537.6h0M1042.6 521.1h0M831.6 410.7h0M717.5 399.2h0M870.6 417.1h0M880.1 419.0h0M607.7 418.6h0M704.3 349.3h0M714.6 327.4h0M930.4 518.2h0M837.3 409.9h0M886.4 532.4h0M784.9 377.7h0M812.1 431.4h0M905.5 389.5h0M846.2 427.6h0M929.8 510.7h0M981.8 518.4h0M915.1 437.2h0M787.3 400.8h0M751.5 375.2h0M964.1 419.6h0M915.1 505.9h0M859.2 514.9h0M894.1 425.3h0M896.8 423.7h0M988.4 438.3h0M889.6 419.1h0M975.4 481.1h0M978.5 414.1h0M1000.9 518.0h0M968.9 523.7h0M885.1 480.6h0M944.2 390.9h0M775.2 425.0h0M842.1 422.6h0M714.8 364.9h0M542.5 493.3h0M935.3 504.7h0M1029.8 486.5h0M758.7 345.8h0M788.0 412.4h0M969.8 479.3h0M673.3 335.3h0M682.7 504.8h0M854.8 425.3h0M925.0 502.4h0M715.1 408.3h0M812.4 427.5h0M773.8 368.1h0M806.6 500.5h0M861.2 520.7h0M762.6 513.1h0M882.9 511.5h0M759.2 400.1h0M978.5 522.6h0M666.7 561.7h0M775.7 365.2h0M737.1 412.5h0M785.0 417.9h0M927.9 487.4h0M857.6 433.3h0M757.8 421.5h0M765.4 371.7h0M884.2 537.0h0M1045.6 422.6h0M875.6 522.5h0M876.1 393.3h0M618.1 538.5h0M839.4 540.6h0M766.3 494.3h0M1011.5 534.3h0M958.6 549.7h0M730.6 411.1h0M801.3 410.2h0M1044.0 407.9h0M805.3 415.0h0M799.2 359.3h0M954.9 524.6h0M946.2 438.1h0M994.1 478.0h0M1039.1 420.4h0M697.9 318.4h0M919.7 537.4h0M660.3 322.0h0M1016.7 479.1h0M517.1 292.7h0M930.3 477.8h0M1056.4 500.3h0M872.1 520.3h0M1036.7 506.9h0M903.2 506.8h0M779.5 429.5h0M862.8 537.6h0M1010.4 533.1h0M892.7 413.7h0M977.9 527.8h0M810.0 597.7h0M855.8 517.1h0M932.6 422.5h0M726.2 391.1h0M795.6 577.9h0M946.0 415.0h0M507.7 481.5h0M921.4 516.1h0M776.3 411.5h0M922.2 511.0h0M933.8 438.0h0M697.5 414.4h0M773.1 410.8h0M781.7 355.7h0M807.2 527.8h0M794.9 406.5h0M877.3 396.0h0M810.7 415.6h0M933.5 410.9h0M861.4 526.6h0M861.8 385.8h0M813.0 432.8h0M878.7 517.5h0M815.6 428.5h0M917.5 438.3h0M847.2 420.8h0M852.3 489.1h0M789.6 408.5h0M891.1 490.3h0M788.9 373.7h0M788.4 546.1h0M569.2 422.5h0M888.7 441.6h0M809.0 365.1h0M756.9 381.2h0M982.1 502.8h0M869.9 503.6h0M984.4 519.8h0M889.7 412.3h0M882.9 431.2h0M824.0 525.1h0M1075.4 482.4h0M922.5 504.4h0M939.6 443.4h0M1049.0 488.5h0M1042.2 472.8h0M915.1 416.8h0M904.9 484.0h0M991.1 508.9h0M812.9 512.4h0M876.4 502.4h0M890.2 484.5h0M691.5 332.0h0M929.5 503.8h0M803.5 413.7h0M880.5 425.1h0M1039.6 503.6h0M980.9 503.8h0M818.6 423.2h0M1055.2 489.8h0M880.8 545.6h0M1089.6 409.0h0M1002.8 495.5h0M953.3 376.5h0M887.5 371.3h0M954.5 401.4h0M782.3 378.6h0M813.3 390.1h0M852.1 373.7h0M846.0 513.0h0M941.6 500.9h0M709.9 394.2h0M1038.5 441.1h0M1009.4 360.2h0M798.3 396.0h0M673.8 314.7h0M723.1 328.2h0M748.1 411.0h0M840.8 364.6h0M706.5 415.6h0M729.8 408.2h0M912.7 488.6h0M1007.8 477.7h0M901.7 524.5h0M846.6 492.0h0M960.0 483.0h0M678.5 530.8h0M741.8 507.3h0M1030.6 330.6h0M982.7 525.7h0M761.0 399.2h0M796.6 512.1h0M913.7 543.5h0M782.9 402.8h0M831.6 381.2h0M984.5 419.0h0M796.3 392.0h0"/>
<path class="g" d="M353.3 457.0h0M399.0 465.2h0M761.2 436.5h0M1022.1 447.9h0M691.4 476.5h0M613.0 471.1h0M561.5 437.6h0M577.2 442.6h0M537.7 452.7h0M518.7 456.1h0M1001.9 462.6h0M719.7 485.5h0M336.4 464.0h0M643.4 462.8h0M825.8 446.8h0M487.7 458.6h0M677.5 427.3h0M814.3 456.9h0M735.7 431.3h0M724.3 484.2h0M704.9 477.4h0M818.3 473.5h0M528.5 446.0h0M938.1 456.7h0M719.2 486.2h0M708.7 470.2h0M789.4 451.5h0M617.9 462.3h0M614.3 426.6h0M742.0 461.9h0M924.4 459.6h0M723.5 467.0h0M486.4 459.1h0M1019.3 457.4h0M648.7 477.9h0M437.2 465.6h0M594.6 437.5h0M745.9 447.0h0M709.4 490.2h0M451.3 463.9h0M499.0 462.3h0M812.7 465.3h0M798.0 459.4h0M408.6 465.5h0M695.3 438.3h0M772.2 469.0h0M778.2 456.8h0M593.6 463.4h0M442.7 456.0h0M552.7 461.0h0M785.0 456.1h0M859.9 466.6h0M1172.1 471.2h0M693.1 463.6h0M527.6 465.6h0M643.8 439.8h0M1033.7 448.4h0M505.6 464.2h0M757.6 472.9h0M677.5 441.4h0M1029.3 466.1h0M586.0 455.1h0M698.6 445.6h0M823.8 441.8h0M476.8 465.8h0M598.7 442.4h0M772.9 444.0h0M568.9 470.8h0M771.9 483.6h0M808.9 441.7h0M683.0 424.7h0M368.4 458.6h0M832.3 474.9h0M760.7 481.7h0M615.5 457.4h0M974.0 448.9h0M375.7 462.7h0M503.9 463.8h0M393.5 460.0h0M785.1 442.3h0M225.1 460.9h0M661.5 425.0h0M383.1 462.9h0M670.8 449.3h0M550.3 455.1h0M779.3 480.8h0M863.7 459.4h0M621.0 489.0h0M982.4 456.4h0M449.2 455.6h0M901.5 448.5h0M743.1 478.5h0M677.3 467.9h0M293.3 460.7h0M301.0 461.0h0M828.8 439.2h0M874.7 449.8h0M425.1 461.3h0M757.1 486.2h0M392.9 456.7h0M441.1 452.4h0M816.8 455.1h0M1072.4 452.9h0M919.5 473.6h0M624.6 493.7h0M1000.5 456.3h0M938.8 448.4h0M1051.4 458.5h0M814.1 460.6h0M1081.5 459.8h0M1060.4 448.2h0M242.7 460.2h0M967.6 452.9h0M559.6 439.3h0M509.1 461.8h0M828.9 458.9h0M795.9 444.8h0M503.8 450.3h0M775.2 466.4h0M531.1 469.0h0M660.4 448.1h0M594.9 481.7h0M583.9 485.8h0M817.5 441.0h0M711.5 493.0h0M612.1 428.7h0M809.6 467.8h0M1037.1 471.3h0M913.9 461.1h0M1007.9 464.1h0M771.5 440.8h0M636.6 484.2h0M298.9 461.6h0M507.8 450.6h0M797.3 481.9h0M825.9 457.4h0M840.7 458.8h0M853.3 448.9h0M687.4 469.9h0M737.3 487.4h0M731.5 487.0h0M691.4 437.0h0M464.9 450.7h0M823.0 470.4h0M886.9 462.5h0M992.5 452.3h0M680.2 454.7h0M827.3 445.6h0M548.9 470.9h0M653.0 446.6h0M1003.2 455.9h0M1072.8 469.8h0M723.4 435.4h0M572.6 472.5h0M937.1 458.7h0M648.2 448.1h0M702.9 437.5h0M787.3 467.5h0M1008.5 465.0h0M650.0 450.6h0M618.0 457.7h0M462.0 470.1h0M642.4 472.1h0M577.9 463.8h0M838.6 454.2h0M827.9 442.9h0M643.6 464.7h0M831.5 469.8h0M207.0 461.0h0M778.6 455.7h0M541.9 477.4h0M808.6 472.5h0M586.7 466.1h0M503.7 466.0h0M1039.8 463.6h0M909.9 455.6h0M1064.7 466.8h0M1081.9 456.1h0M874.9 452.2h0M813.6 484.0h0M548.8 444.6h0M507.5 474.0h0M1066.2 466.3h0M973.4 458.2h0M329.4 457.9h0M861.4 461.9h0M726.1 474.2h0M897.3 466.2h0M480.3 453.2h0M461.6 469.8h0M653.6 459.1h0M650.9 474.8h0M541.3 478.0h0M584.3 460.9h0M707.0 456.8h0M507.1 467.9h0M867.5 468.9h0M501.1 445.1h0M1078.2 469.5h0M458.4 454.3h0M909.6 450.7h0M1063.7 451.6h0M748.6 484.6h0M888.8 466.3h0M828.4 439.3h0M513.4 457.2h0M624.4 451.1h0M759.9 455.4h0M1059.6 451.9h0M650.2 463.0h0M819.7 471.0h0M1030.1 457.3h0M655.1 443.7h0M827.6 453.2h0M808.9 481.9h0M767.4 451.0h0M749.8 452.6h0M789.0 449.2h0M414.9 462.9h0M705.0 428.8h0M664.5 420.4h0M715.0 480.3h0M984.6 464.6h0M1055.1 452.9h0M807.9 478.3h0M1015.3 452.9h0M829.4 482.3h0M579.4 458.7h0M813.6 461.1h0M352.6 457.2h0M905.5 474.2h0M220.7 460.2h0M886.4 463.6h0M500.9 448.7h0M1006.7 460.4h0M451.2 461.7h0M636.9 470.6h0M587.6 456.6h0M632.2 471.5h0M589.0 460.9h0M924.7 462.0h0M929.3 457.5h0M716.2 453.3h0M613.5 434.5h0M727.8 458.2h0M311.9 460.1h0M865.5 457.0h0M583.4 470.8h0M977.5 464.3h0M680.9 471.4h0M667.3 459.1h0M742.2 470.9h0M452.4 470.1h0M881.9 447.8h0M660.9 445.7h0M471.4 461.6h0M762.5 461.0h0M603.0 451.0h0M416.5 461.9h0M1085.9 467.6h0M557.1 455.4h0M633.1 443.6h0M674.2 440.5h0M839.9 473.7h0M636.5 452.1h0M623.9 476.3h0M818.6 442.0h0M630.6 433.0h0M1028.0 462.8h0M944.2 461.6h0M640.1 488.3h0M751.2 457.3h0M883.7 462.0h0M878.3 458.8h0M828.0 475.2h0M688.1 452.2h0M452.7 459.5h0M878.7 468.3h0M657.9 454.7h0M303.1 460.7h0M774.3 434.4h0M781.9 470.6h0M955.3 453.7h0M897.8 466.6h0M217.4 461.0h0M553.8 466.7h0M769.9 453.5h0M922.7 454.2h0M483.9 451.7h0M634.1 477.6h0M491.4 471.7h0M819.0 459.1h0M790.0 466.2h0M773.4 469.0h0M1060.5 453.2h0M664.7 479.0h0M602.1 430.0h0M729.4 447.8h0M799.9 466.2h0M940.9 454.6h0M869.4 451.0h0M703.3 457.8h0M1051.0 453.6h0M429.3 462.4h0M547.9 457.6h0M616.7 424.9h0M1014.9 468.0h0M701.3 493.4h0M736.2 468.5h0M694.6 468.7h0M676.8 441.1h0M1097.5 458.8h0M819.1 446.8h0M637.7 471.6h0M971.5 457.4h0M982.3 462.1h0M690.0 466.6h0M912.3 466.5h0M710.6 450.9h0M671.2 485.5h0M1004.7 447.9h0M795.8 453.2h0M1030.6 469.4h0M596.1 472.9h0M622.6 488.9h0M800.5 477.9h0M933.6 455.3h0M965.7 457.9h0M817.3 458.3h0M645.8 493.1h0M979.7 471.4h0M1005.6 457.4h0M1081.9 458.6h0M542.3 439.7h0M649.5 466.8h0M576.6 446.3h0M759.5 443.8h0M1081.9 452.2h0M666.8 454.2h0M1005.9 464.8h0M1023.3 465.5h0M487.6 447.9h0M631.8 449.5h0M1049.4 452.2h0M991.9 461.5h0M646.9 484.8h0M601.3 451.0h0M806.3 460.7h0M683.9 439.5h0M358.0 457.6h0M884.0 467.4h0M318.6 461.7h0M872.3 445.1h0M803.3 466.1h0M378.5 456.9h0M862.7 460.6h0M1083.9 466.1h0M1002.4 454.1h0M245.9 461.4h0M1098.7 455.9h0M437.9 456.1h0M641.3 438.7h0M984.0 464.0h0M1044.6 459.9h0M671.4 463.1h0M900.7 465.8h0M630.2 456.8h0M920.3 447.3h0M267.3 460.5h0M824.1 454.2h0M252.4 461.0h0M698.2 449.7h0M507.5 461.3h0M760.5 474.4h0M516.1 472.7h0M670.8 440.3h0M716.9 439.9h0M983.4 460.3h0M426.1 451.7h0M1011.8 446.8h0M863.4 458.4h0M887.7 475.0h0M882.9 467.7h0M374.3 457.0h0M558.2 451.3h0M680.2 467.2h0M682.4 435.3h0M854.2 461.2h0M644.9 453.2h0M663.5 494.5h0M849.5 476.6h0M728.4 472.6h0M505.7 467.9h0M633.5 435.2h0M502.8 446.0h0M827.1 439.5h0M796.8 476.3h0M432.7 460.1h0M607.0 455.9h0M626.6 461.2h0M1004.7 453.5h0M772.8 480.8h0M672.9 449.9h0M566.4 443.9h0M798.3 463.8h0M995.0 457.9h0M184.3 461.2h0M817.9 481.1h0M791.2 484.6h0M907.6 463.3h0M822.1 442.6h0M1006.3 451.4h0M766.4 468.9h0M502.1 463.7h0M1009.4 454.3h0M440.9 460.0h0M504.7 457.6h0M936.5 472.8h0M1083.2 456.7h0M824.4 471.4h0M699.7 430.3h0M964.1 455.6h0M569.2 460.1h0M639.8 455.7h0M776.7 487.7h0M578.6 480.1h0M568.1 475.1h0M618.4 474.3h0M775.8 435.6h0M808.3 470.5h0M913.4 446.5h0M536.5 448.3h0M749.2 486.9h0M1065.0 458.3h0M474.6 459.8h0M994.0 457.5h0M675.6 456.7h0M653.5 450.8h0M912.7 448.3h0M781.4 479.9h0M498.8 469.1h0M768.0 457.7h0M974.8 449.3h0M1080.0 460.7h0M892.8 455.0h0M902.8 449.3h0M1028.8 446.9h0M501.8 463.7h0M1072.0 471.2h0M838.0 462.5h0M656.5 483.2h0M483.2 471.6h0M842.5 463.0h0M555.4 459.3h0M1005.7 468.7h0M344.3 458.5h0M707.9 453.0h0M626.7 450.5h0M903.1 462.7h0M908.7 456.6h0M604.4 447.8h0M261.5 460.9h0M382.8 455.2h0M787.6 447.9h0M1008.1 459.3h0M740.7 438.1h0M567.5 475.2h0M1065.0 469.7h0M688.8 454.2h0M690.5 477.8h0M555.5 442.0h0M438.5 466.2h0M841.2 445.9h0M946.5 452.0h0M1070.3 455.1h0M519.2 474.6h0M456.9 451.7h0M310.7 460.6h0M725.6 486.7h0M1011.0 446.8h0M714.8 459.4h0M573.8 440.5h0M615.3 425.6h0M690.3 470.7h0M587.5 478.6h0M580.4 467.6h0M458.6 450.3h0M981.7 455.8h0M507.0 460.3h0M622.0 472.5h0M965.4 466.3h0M1041.7 459.6h0M660.4 454.4h0M621.8 437.5h0M995.3 459.1h0M1043.2 459.2h0M959.0 450.2h0M551.5 455.6h0M826.3 460.7h0M588.9 464.5h0M700.3 491.3h0M430.8 463.9h0M464.0 457.1h0M527.8 452.4h0M899.3 459.7h0M919.4 454.2h0M919.4 453.4h0M811.6 462.7h0M887.7 463.8h0M680.0 466.5h0M975.3 456.1h0M622.3 442.5h0M788.4 466.7h0M783.2 469.9h0M818.8 478.0h0M700.8 468.8h0M653.3 477.7h0M933.4 460.3h0M204.0 460.7h0M842.8 450.1h0M440.1 463.4h0M596.1 475.5h0M866.0 449.9h0M742.8 435.2h0M1011.9 462.9h0M1076.7 456.7h0M722.7 488.9h0M1159.2 452.3h0M556.2 455.4h0M663.3 473.7h0M527.8 455.9h0M584.6 464.8h0M428.5 467.5h0M637.6 455.7h0M985.6 469.1h0M877.6 448.1h0M834.7 459.1h0M660.9 478.8h0M666.2 462.2h0M509.1 462.0h0M729.1 455.6h0M592.2 469.5h0M729.6 434.4h0M747.0 461.2h0M1021.1 450.1h0M445.3 455.5h0M469.8 453.5h0M628.2 472.7h0M339.2 458.8h0M878.7 455.3h0M934.0 445.8h0M758.9 454.4h0M765.9 431.4h0M1085.7 457.8h0M456.4 452.2h0M852.6 466.1h0M622.2 457.8h0M819.6 472.3h0M778.2 456.1h0M567.6 451.5h0M780.5 468.1h0M1031.8 463.3h0M533.8 454.6h0M559.5 466.2h0M673.7 481.1h0M757.2 466.4h0M800.7 449.7h0M819.4 475.7h0M1030.7 465.0h0M926.3 457.2h0M796.6 451.4h0M587.4 441.0h0M507.1 462.4h0M817.4 457.9h0M767.0 433.2h0M936.7 472.6h0M562.2 436.0h0M882.6 444.3h0M1071.3 449.8h0M565.1 456.4h0M543.2 442.1h0M924.1 465.0h0M555.9 480.5h0M1034.4 471.6h0M813.7 452.1h0M628.1 489.5h0M628.4 467.1h0"/>
<path class="b" d="M750.3 421.5h0M1039.6 477.9h0M993.4 487.7h0M682.7 264.8h0M899.2 501.3h0M917.8 438.1h0M664.0 520.4h0M912.7 529.1h0M1001.8 488.9h0M1037.0 532.6h0M933.9 430.7h0M894.8 494.2h0M1036.4 492.3h0M902.0 513.8h0M784.8 550.0h0M705.6 385.3h0M952.0 501.3h0M648.1 341.5h0M784.4 410.5h0M835.7 402.1h0M736.7 400.2h0M567.5 426.7h0M750.0 499.7h0M1046.1 415.2h0M1029.6 439.1h0M803.7 386.4h0M876.2 523.6h0M960.6 402.6h0M1021.3 522.6h0M895.7 372.9h0M860.2 404.5h0M949.4 536.6h0M930.3 440.4h0M751.5 386.2h0M850.8 502.2h0M812.1 383.5h0M875.0 528.2h0M927.5 516.4h0M748.7 407.2h0M903.1 425.1h0M946.6 514.0h0M978.2 441.2h0M957.0 492.9h0M674.5 278.3h0M851.1 483.4h0M1011.5 501.0h0M690.7 685.0h0M896.7 517.9h0M785.8 401.9h0M746.4 378.5h0M774.0 368.7h0M986.3 488.1h0M930.8 540.8h0M932.3 427.1h0M1006.5 515.1h0M893.8 373.5h0M907.3 433.1h0M805.8 388.7h0M1016.9 505.0h0M743.7 419.6h0M1005.7 535.6h0M907.0 516.5h0M520.2 440.2h0M966.0 516.5h0M856.3 413.4h0M931.0 398.4h0M922.4 430.8h0M794.0 497.3h0M891.2 386.3h0M1030.0 425.8h0M676.5 548.5h0M833.1 384.7h0M724.2 409.3h0M1029.5 524.7h0M960.3 440.9h0M785.8 421.2h0M771.1 411.3h0M1041.5 500.3h0M887.2 493.5h0M655.6 550.0h0M760.6 402.0h0M881.0 420.0h0M729.4 334.7h0M812.2 387.8h0M986.6 485.9h0M791.8 416.6h0M899.4 417.8h0M763.5 393.0h0M1026.5 527.3h0M827.7 539.7h0M882.8 487.8h0M844.0 388.4h0M885.0 410.4h0M943.1 478.8h0M790.3 423.0h0M814.2 393.3h0M882.0 483.5h0M739.1 325.2h0M702.1 596.0h0M897.6 507.4h0M960.5 401.1h0M863.0 520.0h0M925.9 534.7h0M802.5 401.5h0M765.6 403.1h0M860.2 355.5h0M813.7 337.9h0M820.6 286.0h0M929.1 416.6h0M943.3 486.1h0M913.9 502.3h0M781.3 394.4h0M764.6 550.9h0M749.8 335.7h0M732.9 424.8h0M968.9 434.8h0M865.4 436.2h0M897.6 516.1h0M1027.1 486.0h0M706.2 360.4h0M934.4 502.1h0M1025.7 482.1h0M867.5 589.4h0M905.4 506.7h0M812.8 402.2h0M841.3 335.1h0M1013.7 489.4h0M849.4 530.3h0M732.6 409.5h0M998.7 487.9h0M852.8 376.7h0M1006.6 512.5h0M1001.1 522.9h0M898.5 501.0h0M896.6 531.4h0M936.7 493.8h0M687.9 530.8h0M779.6 428.5h0M839.4 512.3h0M711.9 499.6h0M957.0 483.3h0M936.7 388.4h0M895.9 504.0h0M929.5 519.2h0M931.7 480.7h0M1132.5 431.5h0M921.1 422.9h0M1091.8 485.2h0M946.6 383.9h0M675.4 545.4h0M666.9 356.7h0M944.9 542.0h0M921.3 403.5h0M1031.8 494.4h0M974.7 431.0h0M1015.1 524.1h0M751.6 378.2h0M936.5 427.1h0M845.2 421.4h0M881.1 387.8h0M801.1 404.0h0M947.8 548.2h0M972.4 478.4h0M982.4 505.6h0M763.1 348.9h0M771.8 403.1h0M945.9 417.8h0M892.8 429.3h0M834.1 502.8h0M871.1 507.2h0M910.0 480.4h0M1061.0 481.8h0M808.8 428.6h0M773.4 499.5h0M731.7 397.9h0M825.2 423.6h0M847.4 423.7h0M684.0 296.4h0M648.3 547.9h0M841.5 501.8h0M825.5 412.4h0M883.1 496.7h0M809.1 353.8h0M892.5 483.7h0M952.7 517.5h0M780.4 385.1h0M746.3 389.6h0M938.2 436.0h0M823.0 420.3h0M1056.8 477.2h0M841.2 433.1h0M961.1 385.9h0M880.8 509.4h0M843.8 413.1h0M955.5 433.7h0M978.0 521.4h0M901.5 386.7h0M882.7 424.6h0M786.3 417.2h0M985.3 503.8h0M795.8 297.1h0M744.2 496.6h0M605.2 316.3h0M887.1 382.2h0M741.2 512.6h0M764.5 349.0h0M736.3 412.9h0M1004.6 514.1h0M710.8 377.8h0M719.2 530.8h0M904.4 437.4h0M982.4 515.4h0M885.7 425.9h0M900.9 489.8h0M816.3 386.1h0M905.9 505.1h0M896.1 381.8h0M914.5 482.7h0M788.7 397.1h0M903.3 525.3h0M817.0 374.1h0M795.5 541.1h0M994.3 497.0h0M637.1 377.4h0M914.7 495.6h0M751.2 384.4h0M677.7 402.5h0M1012.5 554.6h0M655.2 335.9h0M753.9 426.1h0M811.7 552.9h0M808.4 405.6h0M851.3 488.5h0M879.2 402.0h0M906.5 317.7h0M741.0 317.2h0M698.3 510.0h0M776.3 359.5h0M1080.7 490.3h0M841.1 433.8h0M1018.7 482.7h0M824.3 406.1h0M737.7 342.6h0M1052.0 400.0h0M956.4 487.2h0M704.0 566.2h0M847.4 510.9h0M895.1 487.8h0M548.3 426.7h0M976.6 532.7h0M876.8 512.2h0M827.6 490.8h0M693.7 402.4h0M973.0 541.3h0M795.4 313.2h0M875.7 541.9h0M764.0 542.3h0M884.1 434.1h0M991.9 524.9h0M926.5 492.4h0M731.2 371.8h0M859.6 559.6h0M797.8 550.2h0M956.9 501.3h0M920.4 503.2h0M945.9 498.2h0M674.9 300.1h0M813.2 489.0h0M779.3 374.6h0M946.6 494.6h0M735.1 403.7h0M748.1 563.3h0M1006.0 490.9h0M1080.8 485.9h0M798.5 396.4h0M875.2 371.3h0M866.6 423.9h0M984.3 519.3h0M675.2 354.9h0M931.1 479.5h0M919.7 531.6h0M897.6 534.7h0M726.3 338.2h0M910.8 418.0h0M896.3 389.5h0M873.4 391.9h0M990.1 498.8h0M1072.9 428.3h0M956.1 482.7h0M825.3 409.0h0M961.8 440.5h0M932.1 441.3h0M1025.7 488.9h0M933.4 427.6h0M861.7 504.1h0M755.8 424.3h0M911.0 394.0h0M833.1 423.2h0M695.1 387.7h0M772.4 398.9h0M961.7 490.1h0M936.2 417.1h0M972.5 520.0h0M1025.0 420.5h0M909.5 432.6h0M1066.8 483.4h0M722.2 341.3h0M863.2 538.8h0M967.8 492.8h0M1007.1 495.3h0M1029.4 497.5h0M829.6 386.2h0M830.4 395.4h0M896.9 480.7h0M1029.2 395.0h0M826.5 369.1h0M874.1 488.1h0M717.5 367.1h0M1058.8 495.8h0M862.1 513.4h0M1037.5 427.0h0M851.2 547.7h0M575.0 195.4h0M781.4 363.6h0M845.7 409.6h0M830.6 390.9h0M830.6 535.0h0M754.7 417.2h0M663.9 380.5h0M841.4 392.1h0M816.2 346.2h0M756.6 391.2h0M968.1 526.4h0M980.7 476.6h0M960.2 486.3h0M824.6 487.8h0M933.1 486.6h0M888.3 506.2h0M895.0 505.9h0M930.7 412.4h0M981.1 500.8h0M792.0 429.2h0M984.8 436.2h0M805.8 532.7h0M863.2 385.2h0M890.8 433.2h0M1059.2 429.3h0M1039.9 412.6h0M974.2 490.2h0M722.9 503.5h0M918.2 410.6h0M950.7 427.4h0M861.7 435.4h0M936.2 393.0h0M1015.1 514.9h0M944.4 511.8h0M841.1 426.4h0M856.7 434.8h0M1014.2 428.4h0M948.2 441.5h0M774.5 497.1h0M1056.6 441.2h0M896.9 491.0h0M1064.9 493.2h0M794.4 397.0h0M925.2 432.8h0M984.8 428.1h0M975.0 476.2h0M899.0 368.0h0M901.6 486.2h0M869.6 492.0h0M789.9 515.6h0M1055.2 509.9h0M1058.8 475.5h0M764.8 557.1h0M980.5 534.0h0M798.1 372.8h0M826.2 401.8h0M964.8 491.0h0M875.5 496.8h0M748.3 531.3h0M715.0 527.7h0M868.8 484.4h0M799.2 550.8h0M989.6 513.1h0M958.5 526.3h0M582.7 345.0h0M877.0 399.8h0M766.5 512.7h0M668.5 321.0h0M957.5 496.4h0M909.9 487.1h0M971.7 500.5h0M583.5 261.7h0M957.9 519.7h0M925.7 386.0h0M783.1 369.9h0M672.5 411.4h0M719.2 194.4h0M946.0 509.2h0M975.2 535.8h0M530.6 486.0h0M807.5 403.3h0M944.3 483.2h0M990.8 519.9h0M803.2 350.5h0M731.4 413.8h0M720.1 335.9h0M947.0 529.5h0M682.2 403.9h0M888.9 484.9h0M774.5 394.2h0M1081.3 479.4h0M780.4 371.7h0M826.2 384.6h0M692.2 326.6h0M884.9 360.5h0M986.2 509.2h0M914.4 430.0h0M933.6 499.8h0M963.5 441.5h0M684.2 572.5h0M720.9 529.5h0M783.3 424.7h0M948.1 523.8h0M857.8 423.1h0M811.0 395.7h0M862.2 428.7h0M656.6 302.0h0M950.2 485.7h0M540.0 232.3h0M1075.4 482.5h0M963.3 514.7h0M913.7 500.3h0M1008.6 495.1h0M898.8 237.9h0M1041.6 515.1h0M759.5 367.2h0M753.6 424.2h0M1007.4 482.7h0M775.8 560.8h0M665.0 261.2h0M1044.6 559.8h0M1000.2 491.2h0M939.0 419.3h0M885.9 505.6h0M887.3 379.1h0M996.9 532.2h0M1023.9 481.7h0M775.6 533.0h0M853.9 408.8h0M853.9 394.2h0M576.0 347.9h0M620.4 270.3h0M599.6 607.3h0M851.6 506.0h0M707.0 408.0h0M932.1 516.0h0M781.5 411.4h0M793.7 412.9h0M751.0 410.7h0M773.7 373.2h0M924.6 547.0h0M808.9 527.2h0M852.7 418.4h0M897.2 398.5h0M1042.7 488.0h0M945.5 414.6h0M845.1 487.0h0M951.1 492.1h0M533.8 438.5h0M857.1 390.4h0M977.2 482.5h0M997.8 479.0h0M770.3 363.3h0M788.3 377.1h0M873.5 486.2h0M993.6 501.7h0M792.3 519.3h0M924.3 414.7h0M1038.7 508.8h0M850.4 501.2h0M748.6 383.0h0M881.0 385.4h0M747.0 336.9h0M1079.8 477.2h0M1029.7 496.6h0M781.1 374.6h0M976.9 517.2h0M883.4 399.0h0M823.9 501.2h0M908.4 371.2h0M810.2 349.3h0M808.3 427.2h0M944.3 426.8h0M835.0 397.9h0M986.6 523.5h0M899.1 429.7h0M941.1 496.8h0M999.7 364.9h0M876.2 395.9h0M802.7 373.8h0M915.8 542.6h0M924.5 424.2h0M805.0 511.4h0M631.7 541.9h0M981.8 495.2h0M957.3 520.3h0M869.8 320.4h0M966.4 401.2h0M860.1 389.6h0M754.6 273.5h0M675.0 636.0h0M760.5 377.0h0M951.0 500.1h0M894.9 520.3h0M1034.1 520.5h0M975.7 431.4h0M779.9 381.7h0M911.6 509.3h0M1060.0 512.1h0M847.8 413.0h0M664.2 351.1h0M961.0 486.1h0M913.1 525.9h0M888.7 532.6h0M987.3 413.2h0M885.0 429.9h0M767.4 398.5h0M932.1 382.4h0M842.4 536.3h0M901.9 497.1h0M894.8 434.0h0M871.8 429.4h0M1003.3 490.2h0M1058.3 481.1h0M981.6 537.4h0M702.8 348.1h0M764.3 421.2h0M854.9 524.4h0M741.9 409.2h0M947.0 497.7h0M932.2 524.1h0M862.5 421.8h0M918.2 484.4h0M936.4 522.7h0M997.2 523.2h0M924.1 504.8h0M824.0 401.5h0M907.3 394.4h0M620.2 569.4h0M891.0 486.1h0M974.2 498.9h0M933.4 485.9h0M721.7 405.9h0M1030.7 480.5h0M958.7 408.4h0M989.1 529.1h0M943.2 402.1h0M1053.0 512.0h0M663.2 399.9h0M992.5 480.3h0M807.2 376.9h0M705.1 410.2h0M569.8 345.0h0M999.0 366.4h0M983.1 517.1h0M922.9 425.1h0M754.4 410.4h0M963.6 511.5h0M953.7 438.1h0M849.7 388.5h0M824.3 378.1h0M1060.8 409.6h0M1056.3 445.2h0M1044.6 495.3h0M689.0 515.8h0M757.6 404.2h0M824.9 375.6h0M787.1 362.5h0M960.4 373.4h0M653.7 370.6h0M562.9 408.3h0M764.6 390.7h0M957.2 489.9h0M911.3 498.7h0M948.7 518.9h0M766.0 423.4h0M967.1 483.6h0M852.1 423.1h0M904.8 523.4h0M803.0 387.4h0M1058.8 414.7h0M817.2 411.9h0M801.2 379.0h0M731.8 309.9h0M892.3 394.4h0M708.7 384.3h0M646.1 271.0h0M809.6 585.2h0M823.2 425.9h0M984.9 497.2h0M690.2 358.5h0M932.2 478.6h0M759.8 385.0h0M951.3 429.8h0M913.0 484.6h0M865.8 543.1h0M824.5 401.7h0M580.6 245.4h0M1039.4 476.2h0M874.8 430.2h0M887.4 380.7h0M923.8 526.8h0M769.3 369.9h0M1088.8 486.1h0M901.0 418.2h0M870.2 485.0h0M927.9 423.3h0M907.1 517.6h0M812.7 544.6h0M879.6 428.3h0M893.2 506.8h0M821.1 495.2h0M914.5 517.9h0M925.2 478.3h0M904.2 485.6h0M938.7 518.0h0M730.7 497.1h0M732.5 333.6h0M670.2 656.9h0M918.2 419.8h0M985.6 547.7h0M1028.2 485.6h0M905.6 380.9h0M931.8 426.4h0M850.6 344.1h0M811.3 432.2h0M1037.4 508.5h0M788.2 398.9h0M995.5 482.0h0M810.0 402.7h0M876.8 512.7h0M555.6 420.0h0M784.6 399.5h0M978.9 529.0h0M710.8 510.0h0M824.0 394.1h0M938.1 491.8h0M856.8 370.7h0M995.4 477.1h0M1027.9 504.6h0M777.0 511.6h0M819.6 381.9h0M937.0 376.8h0M931.9 547.5h0M769.5 423.9h0M915.9 419.6h0M820.7 394.3h0M1044.5 474.6h0M859.6 485.8h0M1004.4 491.6h0M542.1 430.8h0M723.2 404.6h0M895.8 420.5h0M951.5 530.6h0M1005.3 494.6h0M799.3 430.9h0M1069.8 510.2h0M957.3 482.5h0M798.5 406.9h0M814.9 406.8h0M885.2 482.5h0M981.2 484.1h0M876.5 486.9h0M885.7 484.3h0M788.9 393.6h0M1013.7 516.3h0M573.3 622.7h0M943.5 411.5h0M794.8 428.6h0M1082.4 495.2h0M759.4 361.5h0M783.6 308.9h0M947.8 524.2h0M957.6 523.9h0M1017.6 530.1h0M898.0 421.5h0M770.4 509.5h0M909.5 393.4h0M993.3 343.2h0M722.2 373.5h0M751.5 302.0h0M940.7 434.4h0M864.7 534.7h0M898.7 401.2h0M969.7 478.6h0M937.2 543.5h0M966.3 427.2h0M934.1 435.1h0M968.9 509.1h0M725.0 328.3h0M939.5 429.0h0M986.8 437.4h0M635.3 411.2h0M767.2 530.1h0M857.3 379.6h0M912.1 502.6h0M1069.4 316.2h0M865.8 491.1h0M1012.4 477.3h0M794.9 405.3h0M960.9 487.7h0M904.8 539.5h0M880.8 397.5h0M837.2 523.2h0M968.5 522.1h0M611.1 401.4h0M854.4 396.4h0M885.8 412.3h0M923.2 541.5h0M1073.0 520.3h0M863.4 430.5h0M995.8 532.5h0M927.8 495.9h0M1055.2 527.0h0M981.9 483.9h0M1002.3 484.2h0M741.7 402.2h0M828.7 514.6h0M906.7 526.4h0M889.1 417.3h0M892.0 428.9h0M989.0 491.7h0M950.6 504.9h0M825.2 403.8h0M873.7 516.4h0M1050.7 480.2h0M710.8 544.4h0M1031.7 501.6h0M857.3 400.9h0M747.5 519.5h0M590.9 369.1h0M939.2 500.1h0M862.2 497.8h0M907.5 483.6h0M824.2 406.9h0M1026.0 498.2h0M565.0 414.6h0M754.9 530.9h0M824.3 343.4h0M909.1 437.3h0M651.8 380.6h0M948.4 368.9h0M1035.5 504.3h0M941.1 495.6h0M868.9 397.4h0M944.4 499.6h0M881.3 486.4h0M922.6 494.3h0M764.2 404.9h0M745.9 366.9h0M595.2 424.1h0M860.8 510.6h0M943.4 500.1h0M902.2 411.1h0M909.9 440.6h0M901.2 484.3h0M923.8 436.3h0M910.1 512.7h0M851.5 402.9h0M764.7 427.6h0M960.0 537.4h0M903.0 413.2h0M937.0 492.9h0M939.8 477.8h0M1054.3 516.1h0M877.8 436.3h0M744.3 392.4h0M782.8 367.5h0M1027.6 492.4h0M838.5 312.9h0M881.8 514.3h0M946.1 483.6h0M836.0 402.9h0M741.5 379.8h0M914.1 437.2h0M883.6 499.9h0M1050.8 478.8h0M907.7 513.9h0M733.5 563.3h0M1000.3 488.2h0M720.0 358.8h0M1072.1 481.7h0M945.1 515.2h0M904.0 393.4h0M751.5 387.5h0M897.9 505.3h0M829.8 524.0h0M925.1 505.7h0M918.1 490.1h0M729.1 287.6h0M898.7 391.7h0M832.2 397.3h0M753.8 419.6h0M1025.9 502.2h0M760.1 419.2h0M885.0 494.7h0M696.2 515.2h0"/>
<path class="g" d="M860.5 478.4h0M542.0 454.5h0M641.0 467.6h0M750.4 449.7h0M924.4 458.0h0M1002.6 451.9h0M857.7 446.8h0M982.6 466.5h0M779.3 440.5h0M619.6 488.7h0M805.9 459.3h0M852.6 466.0h0M855.9 458.4h0M397.1 453.9h0M694.4 471.9h0M455.7 461.7h0M1066.8 456.8h0M1060.4 468.7h0M612.7 448.7h0M585.3 450.4h0M617.2 427.7h0M669.2 434.1h0M793.8 476.3h0M866.0 459.7h0M988.5 446.9h0M466.1 459.2h0M391.4 455.8h0M633.8 442.0h0M609.0 452.6h0M541.3 472.0h0M1051.3 463.6h0M721.5 464.5h0M390.1 455.1h0M1091.7 459.1h0M1073.3 453.7h0M821.5 445.5h0M454.2 466.6h0M231.7 460.6h0M873.3 466.1h0M949.2 467.1h0M699.5 473.1h0M749.0 433.2h0M450.1 460.2h0M525.6 464.8h0M892.5 472.9h0M530.6 460.4h0M748.7 436.9h0M790.2 440.1h0M764.3 474.7h0M1098.2 462.6h0M573.4 469.7h0M811.7 463.9h0M763.2 445.7h0M658.5 481.7h0M625.2 443.1h0M739.3 478.0h0M709.3 430.3h0M697.7 442.4h0M393.9 454.8h0M956.3 451.9h0M491.3 462.0h0M1044.3 464.3h0M903.4 461.3h0M600.8 471.7h0M549.0 448.1h0M823.6 451.9h0M567.8 463.2h0M843.6 466.2h0M518.4 458.5h0M539.4 450.1h0M949.1 470.0h0M929.5 449.3h0M870.0 462.8h0M1003.2 471.1h0M579.8 478.0h0M371.2 463.9h0M1012.8 452.9h0M879.0 451.5h0M592.6 441.9h0M637.2 480.0h0M637.8 442.2h0M799.6 460.6h0M605.1 463.2h0M719.7 487.0h0M687.1 458.8h0M780.3 460.5h0M569.6 466.5h0M872.2 480.4h0M914.6 462.5h0M824.0 477.4h0M395.9 459.8h0M1056.9 460.7h0M615.7 435.0h0M502.8 470.2h0M890.6 471.4h0M539.8 473.6h0M1028.0 463.8h0M696.5 428.2h0M577.5 459.9h0M877.0 465.4h0M740.7 477.7h0M671.1 450.4h0M775.8 466.3h0M821.1 465.6h0M891.7 476.7h0M647.9 451.6h0M990.3 452.3h0M792.6 476.5h0M806.5 434.9h0M341.9 460.1h0M750.1 460.3h0M759.4 464.5h0M924.9 445.7h0M515.5 445.4h0M845.5 453.4h0M288.9 459.7h0M901.6 472.1h0M764.4 449.6h0M915.5 448.6h0M589.0 476.9h0M689.0 438.2h0M751.2 439.4h0M827.4 469.2h0M731.7 480.1h0M726.3 483.6h0M864.5 464.4h0M687.5 429.6h0M402.1 463.2h0M824.1 480.6h0M191.1 461.0h0M978.7 468.7h0M668.0 464.4h0M426.1 461.6h0M681.7 485.1h0M772.2 448.8h0M917.3 470.8h0M996.0 461.9h0M978.7 461.8h0M710.6 479.2h0M700.0 489.0h0M501.0 464.9h0M793.9 466.3h0M546.3 454.6h0M315.1 461.2h0M705.7 438.9h0M1004.4 468.2h0M747.3 470.9h0M817.6 444.4h0M995.0 461.0h0M385.7 455.4h0M638.3 431.6h0M340.0 459.8h0M179.7 460.9h0M855.9 463.3h0M885.2 453.1h0M1026.7 457.0h0M559.9 440.5h0M739.1 475.6h0M933.3 457.7h0M889.3 444.8h0M776.8 486.9h0M688.3 459.9h0M1027.9 454.7h0M693.7 462.0h0M617.6 456.6h0M693.2 433.9h0M598.6 470.0h0M574.1 477.7h0M1004.9 449.8h0M659.1 454.0h0M956.7 472.6h0M808.2 462.1h0M861.8 448.6h0M1001.6 456.6h0M1002.2 458.6h0M755.7 452.2h0M339.0 460.3h0M338.8 461.6h0M874.3 463.8h0M910.3 450.7h0M342.5 458.0h0M818.1 447.1h0M526.9 457.4h0M572.0 476.5h0M291.1 459.3h0M791.2 478.0h0M401.8 457.3h0M673.1 479.8h0M547.7 461.0h0M916.8 463.3h0M263.1 461.6h0M548.5 466.1h0M984.5 447.5h0M627.3 483.9h0M446.6 466.1h0M864.7 460.1h0M943.1 459.9h0M251.2 460.9h0M647.9 486.4h0M905.3 446.4h0M1008.0 452.2h0M708.8 428.8h0M595.6 429.9h0M523.7 456.5h0M775.4 451.2h0M1092.9 454.8h0M544.7 449.8h0M563.6 443.4h0M171.2 460.8h0M665.8 430.3h0M412.1 457.1h0M536.4 456.6h0M412.9 464.9h0M476.3 455.1h0M979.3 463.6h0M809.9 444.8h0M854.6 477.4h0M822.6 471.1h0M668.5 441.6h0M966.1 447.0h0M798.5 482.0h0M658.1 489.4h0M632.2 453.4h0M984.0 469.2h0M885.0 459.7h0M818.3 464.5h0M692.6 461.8h0M589.3 431.7h0M660.7 461.0h0M976.3 459.9h0M1012.3 459.1h0M803.5 484.8h0M843.6 469.6h0M968.9 450.8h0M1049.1 449.1h0M735.0 440.7h0M640.8 447.7h0M608.2 428.8h0M585.6 480.7h0M719.6 493.2h0M874.0 447.0h0M762.3 481.5h0M1033.0 465.0h0M746.8 453.6h0M1026.0 457.1h0M783.7 463.9h0M1031.5 453.4h0M735.1 448.4h0M743.3 490.4h0M649.4 445.7h0M563.6 443.3h0M612.8 455.6h0M993.4 455.9h0M985.0 467.9h0M574.4 459.4h0M918.5 467.6h0M400.8 455.1h0M1007.3 456.8h0M386.0 462.9h0M767.2 464.1h0M564.7 476.2h0M764.0 465.3h0M1027.1 453.7h0M812.5 471.4h0M881.9 465.2h0M1071.3 456.3h0M479.7 460.2h0M567.4 440.2h0M375.7 464.3h0M772.6 452.5h0M842.7 458.3h0M639.8 439.8h0M912.0 458.8h0M1034.7 470.6h0M628.0 432.8h0M572.0 475.5h0M1079.6 455.2h0M484.0 452.9h0M986.5 462.7h0M608.8 457.9h0M256.7 460.5h0M401.5 460.6h0M852.3 445.3h0M405.8 454.7h0M951.0 467.0h0M846.9 460.6h0M723.0 460.0h0M689.3 468.2h0M840.2 463.4h0M874.9 445.3h0M898.6 477.0h0M995.6 449.1h0M409.8 457.3h0M404.8 458.3h0M650.9 483.6h0M725.6 443.4h0M794.7 486.8h0M566.9 435.2h0M677.8 432.8h0M1009.0 465.6h0M796.6 448.4h0M774.4 461.1h0M622.1 486.1h0M727.8 448.8h0M1092.3 462.4h0M757.6 478.1h0M467.1 454.4h0M907.1 455.7h0M1028.6 467.7h0M510.7 464.3h0M537.4 460.0h0M371.5 461.2h0M592.3 467.0h0M1026.8 459.3h0M652.5 428.9h0M1093.5 459.1h0M549.1 457.4h0M1054.6 453.2h0M648.6 434.3h0M652.2 482.8h0M369.6 463.9h0M667.9 463.8h0M201.3 460.9h0M891.7 455.8h0M533.7 477.6h0M468.5 462.2h0M961.6 471.1h0M522.6 465.6h0M845.6 463.8h0M700.2 462.9h0M683.3 455.6h0M682.4 449.2h0M628.2 488.7h0M456.9 453.7h0M242.9 460.4h0M921.6 465.4h0M445.0 464.6h0M799.1 483.2h0M227.1 461.3h0M673.5 485.5h0M823.1 454.6h0M686.2 459.9h0M581.2 457.5h0M902.3 472.0h0M531.7 465.6h0M989.6 461.9h0M470.8 466.6h0M361.7 462.2h0M528.9 452.2h0M912.5 454.6h0M829.5 478.2h0M742.4 477.5h0M1018.1 452.7h0M476.0 469.9h0M631.0 493.8h0M666.7 487.7h0M282.8 459.8h0M848.5 439.1h0M675.9 470.3h0M313.6 460.5h0M945.7 468.3h0M678.4 469.3h0M340.8 459.9h0M589.9 452.8h0M808.4 447.9h0M409.4 463.1h0M498.1 454.6h0M528.5 464.0h0M669.4 463.3h0M938.5 461.5h0M761.9 472.3h0M559.6 453.1h0M469.9 471.0h0M799.4 470.0h0M698.2 452.3h0M442.9 459.9h0M653.6 447.7h0M439.9 462.8h0M552.7 441.9h0M331.6 462.2h0M973.2 450.4h0M795.9 478.6h0M621.3 452.5h0M884.4 464.1h0M817.8 443.6h0M552.3 461.4h0M682.4 434.5h0M610.6 470.3h0M847.5 449.9h0M999.3 465.3h0M960.4 463.1h0M805.9 486.4h0M876.0 454.6h0M733.1 485.9h0M519.0 474.7h0M1061.5 455.9h0M631.6 455.8h0M640.9 444.1h0M398.9 455.4h0M386.6 460.3h0M650.0 481.9h0M899.1 474.4h0M664.5 498.0h0M694.6 480.0h0M749.3 456.3h0M562.7 474.3h0M838.8 452.4h0M1029.4 470.9h0M838.3 456.1h0M677.4 474.8h0M813.0 450.5h0M295.5 460.1h0M892.7 444.3h0M1041.4 468.6h0M895.1 475.1h0M1010.4 460.0h0M619.6 484.1h0M899.5 446.9h0M1099.5 464.0h0M512.6 444.8h0M483.1 468.1h0M392.0 457.5h0M541.4 440.0h0M616.2 478.5h0M863.2 443.9h0M979.0 468.9h0M1051.4 446.1h0M465.0 457.1h0M674.1 436.5h0M896.6 458.6h0M1022.0 466.1h0M771.5 461.2h0M402.7 456.6h0M417.6 458.3h0M550.1 463.8h0M571.5 454.8h0M567.4 443.6h0M675.9 454.9h0M668.9 487.0h0M572.9 468.8h0M420.8 463.7h0M507.3 475.8h0M938.3 467.1h0M572.5 445.7h0M995.5 450.9h0M331.1 461.8h0M629.8 435.6h0M612.2 488.7h0M941.5 466.7h0M535.1 445.0h0M696.8 437.2h0M479.8 469.8h0M863.2 450.3h0M630.5 442.0h0M579.8 438.1h0M735.1 446.8h0M553.6 443.2h0M195.7 460.9h0M797.7 460.8h0M466.6 464.5h0M595.8 444.8h0M656.5 426.8h0M684.6 458.1h0M592.6 480.2h0M695.2 425.6h0M564.4 459.9h0M549.0 463.7h0M785.8 462.1h0M419.1 460.9h0M890.3 477.3h0M872.9 474.1h0M928.4 470.1h0M276.3 461.8h0M931.2 466.4h0M602.0 457.8h0M1076.0 463.8h0M577.5 475.1h0M877.4 465.4h0M671.4 485.8h0M420.1 466.9h0M925.7 453.1h0M804.9 450.1h0M614.9 493.2h0M1041.2 449.9h0M347.9 462.3h0M694.8 445.1h0M867.5 470.0h0M1060.6 449.9h0M508.9 470.8h0M861.4 475.5h0M608.6 489.3h0M691.3 472.2h0M1053.9 466.5h0M616.3 469.5h0M473.4 470.4h0M824.8 462.5h0M856.2 470.3h0M595.2 430.1h0M928.6 458.4h0M549.1 454.5h0M504.9 462.8h0M664.7 423.1h0M862.8 473.7h0M850.4 474.3h0M1043.8 461.9h0M604.1 437.4h0M931.3 464.3h0M947.2 452.0h0M905.7 455.9h0M494.3 449.2h0M486.4 453.0h0M785.7 470.3h0M892.4 465.9h0M785.6 439.6h0M515.0 446.8h0M814.1 473.6h0M1125.0 465.4h0M200.4 460.8h0M791.5 451.8h0M701.9 445.9h0M794.0 482.4h0M759.9 445.3h0M951.4 446.7h0M838.8 476.5h0M718.9 461.2h0M838.3 461.1h0M1065.2 457.1h0M646.7 487.4h0M411.8 461.6h0M833.7 438.4h0M630.9 438.7h0M636.2 486.6h0M806.5 463.2h0M836.8 470.7h0M288.9 460.9h0M505.7 457.1h0M611.5 468.8h0M949.5 464.3h0M229.6 461.1h0M479.9 449.2h0M640.1 455.3h0M616.3 489.1h0M741.7 430.4h0M962.2 463.6h0M430.9 467.6h0M550.0 452.9h0M576.7 461.3h0M830.9 439.4h0M812.9 447.9h0M786.7 486.7h0M800.8 468.6h0M836.8 460.3h0M1030.8 455.5h0M743.6 469.3h0M763.1 484.9h0M923.6 446.0h0M1082.5 467.9h0M720.1 442.3h0M812.3 442.0h0M294.3 462.5h0M304.3 458.9h0M474.0 464.2h0M879.9 469.4h0M229.2 460.7h0M512.4 471.1h0M724.4 456.1h0M573.1 486.1h0M433.4 465.6h0M821.8 456.6h0M930.5 461.3h0M668.6 434.3h0M552.9 465.5h0M879.9 466.1h0M1009.8 462.5h0M553.1 458.8h0M765.2 459.8h0M981.1 451.6h0M936.9 468.9h0M835.6 480.5h0M819.6 461.1h0M528.2 443.5h0M790.1 435.2h0M875.5 446.1h0M517.9 443.6h0M715.5 454.5h0M619.2 481.2h0M458.9 465.4h0"/>
<path class="b" d="M863.5 392.1h0M837.8 432.5h0M747.3 502.3h0M914.1 398.7h0M977.0 509.3h0M691.0 520.4h0M968.7 427.9h0M846.3 381.1h0M804.8 409.7h0M832.9 412.3h0M791.1 391.2h0M925.1 403.0h0M751.2 357.0h0M613.6 673.2h0M934.0 546.5h0M698.6 400.7h0M876.7 387.2h0M951.2 480.9h0M1029.8 474.2h0M686.4 363.9h0M1010.8 483.2h0M770.2 301.2h0M752.3 296.2h0M843.6 411.1h0M725.7 392.6h0M705.5 367.7h0M857.6 385.7h0M761.2 396.8h0M893.3 485.4h0M971.5 480.4h0M839.5 490.5h0M938.3 400.6h0M829.7 388.1h0M957.4 486.4h0M926.0 408.3h0M948.7 414.2h0M1080.6 487.3h0M839.1 519.0h0M746.2 407.9h0M1011.1 490.9h0M830.5 326.2h0M722.1 542.5h0M1006.2 491.6h0M562.5 495.8h0M804.2 397.9h0M1015.1 494.0h0M1077.7 481.1h0M783.1 401.7h0M745.2 418.2h0M694.2 412.4h0M895.5 483.0h0M746.1 398.7h0M1036.1 494.6h0M960.8 495.1h0M909.0 490.0h0M860.4 519.6h0M901.8 377.7h0M906.2 512.5h0M764.8 502.1h0M746.3 386.8h0M985.5 494.4h0M923.7 486.0h0M855.7 390.5h0M813.8 390.6h0M927.0 482.5h0M755.7 372.4h0M793.1 419.6h0M819.7 539.7h0M752.7 368.6h0M933.0 480.8h0M994.5 544.2h0M938.7 502.0h0M925.3 426.4h0M871.6 495.6h0M935.5 418.4h0M841.9 496.6h0M833.4 369.7h0M672.8 312.0h0M778.9 530.2h0M850.5 485.5h0M995.7 505.5h0M857.7 401.4h0M998.6 491.0h0M861.5 510.4h0M843.0 413.5h0M977.9 483.5h0M744.4 404.6h0M973.8 483.2h0M807.0 429.4h0M732.1 255.0h0M983.7 508.9h0M917.7 525.7h0M1009.4 512.6h0M962.7 549.8h0M529.2 479.8h0M1008.3 505.6h0M794.4 387.2h0M939.3 421.2h0M965.8 494.9h0M842.8 410.7h0M838.0 429.4h0M983.6 433.6h0M953.4 519.1h0M707.9 376.4h0M853.8 406.8h0M829.4 430.0h0M985.4 477.8h0M844.9 384.2h0M943.5 514.0h0M841.1 496.4h0M1039.2 488.6h0M910.8 508.1h0M965.5 509.7h0M957.3 513.4h0M800.7 417.6h0M814.6 404.9h0M639.8 381.8h0M983.7 417.1h0M1040.1 407.3h0M1072.9 502.7h0M989.6 481.6h0M1071.6 513.4h0M873.0 530.6h0M1079.8 425.8h0M839.0 411.9h0M920.6 501.3h0M743.2 320.7h0M1110.4 480.0h0M916.6 494.5h0M1067.9 505.4h0M820.1 409.7h0M921.5 491.2h0M813.8 404.9h0M914.3 497.8h0M978.2 492.3h0M830.9 386.3h0M623.1 394.5h0M938.3 523.4h0M1016.0 495.3h0M844.0 356.2h0M1066.1 515.3h0M971.1 431.8h0M916.7 397.4h0M984.5 504.4h0M822.9 425.3h0M979.0 506.9h0M869.0 437.1h0M983.9 434.9h0M849.5 495.8h0M829.9 524.0h0M854.8 426.8h0M1004.7 517.5h0M929.8 406.9h0M838.8 410.2h0M859.2 390.5h0M838.3 428.0h0M1092.1 474.2h0M974.0 479.6h0M799.6 359.9h0M754.6 523.0h0M1126.0 423.5h0M908.6 399.4h0M890.9 524.4h0M1130.0 497.3h0M1003.7 509.0h0M879.8 509.3h0M953.9 519.3h0M860.9 381.3h0M890.9 438.8h0M1011.9 399.6h0M1011.3 529.5h0M662.0 331.7h0M1027.0 511.3h0M676.9 200.2h0M775.1 406.5h0M788.6 382.2h0M880.8 304.0h0M766.2 382.0h0M846.8 422.9h0M1004.4 511.1h0M968.2 512.1h0M800.8 537.9h0M785.3 390.9h0M1006.6 490.4h0M939.1 477.0h0M714.9 405.4h0M717.8 316.6h0M948.4 484.7h0M919.7 404.5h0M900.9 407.2h0M532.7 493.3h0M792.0 395.4h0M906.7 408.0h0M874.4 371.6h0M1030.8 477.6h0M977.9 539.2h0M952.9 483.4h0M635.2 289.3h0M827.0 373.3h0M880.2 543.2h0M844.7 503.6h0M840.1 542.7h0M857.2 491.6h0M897.2 434.3h0M793.0 399.5h0M991.3 442.2h0M845.8 526.1h0M835.2 333.5h0M908.8 406.2h0M752.9 384.8h0M845.4 415.7h0M899.3 411.8h0M862.3 500.0h0M950.3 513.8h0M842.4 400.2h0M836.0 436.5h0M1003.5 478.8h0M926.5 397.1h0M788.9 391.8h0M1002.1 385.6h0M867.8 489.0h0M1002.1 516.4h0M957.2 395.6h0M795.2 420.0h0M813.0 512.9h0M1015.5 503.9h0M810.0 535.5h0M954.7 434.9h0M718.7 309.4h0M924.6 434.4h0M1059.7 488.4h0M783.3 313.4h0M1014.5 510.1h0M683.7 394.4h0M913.5 356.7h0M909.2 399.4h0M936.1 510.4h0M777.3 392.3h0M798.6 546.1h0M1014.0 517.5h0M893.4 504.9h0M993.5 549.5h0M947.7 402.7h0M818.8 427.0h0M795.9 513.7h0M853.3 561.2h0M1131.0 331.9h0M712.2 388.9h0M851.5 516.1h0M899.8 417.4h0M778.0 416.4h0M964.8 560.2h0M753.4 425.8h0M1006.7 477.4h0M932.3 510.7h0M1025.4 495.9h0M762.5 378.7h0M1057.2 508.9h0M960.7 494.4h0M933.5 503.8h0M706.3 411.6h0M968.3 477.9h0M741.3 401.8h0M1033.7 488.6h0M1059.9 477.7h0M996.8 499.0h0M998.8 509.8h0M838.1 421.2h0M741.2 363.8h0M896.0 403.4h0M955.2 531.6h0M946.0 419.9h0M906.9 401.7h0M703.9 345.4h0M977.5 507.5h0M1072.8 475.6h0M900.0 417.6h0M746.3 350.0h0M851.7 532.7h0M1048.7 498.2h0M999.9 488.6h0M848.7 425.9h0M885.6 410.4h0M782.2 388.6h0M905.7 403.0h0M925.0 436.4h0M973.0 481.1h0M820.7 421.0h0M652.6 334.5h0M646.0 362.3h0M774.2 399.9h0M941.0 524.8h0M1075.4 486.0h0M723.8 406.5h0M971.8 493.1h0M831.0 391.6h0M884.1 482.7h0M947.4 504.9h0M817.6 420.2h0M468.1 446.9h0M981.9 491.3h0M920.1 485.8h0M1017.4 502.8h0M957.0 525.5h0M907.0 515.8h0M953.9 498.7h0M684.8 511.7h0M754.5 310.8h0M773.5 419.1h0M1064.8 487.5h0M983.0 424.0h0M899.9 504.1h0M956.3 498.9h0M814.5 364.5h0M820.8 320.9h0M939.9 399.0h0M840.6 390.6h0M1001.6 478.9h0M795.6 395.5h0M854.1 397.8h0M1042.6 417.8h0M859.2 388.9h0M721.7 550.8h0M583.8 397.9h0M865.6 502.4h0M856.8 516.8h0M895.5 505.7h0M878.9 497.6h0M769.7 354.2h0M705.8 375.0h0M969.4 527.3h0M766.9 385.5h0M965.3 418.4h0M868.6 438.5h0M928.1 400.9h0M896.9 535.4h0M863.4 498.9h0M973.1 410.8h0M887.9 410.5h0M528.1 659.0h0M614.2 263.1h0M870.7 518.5h0M1007.1 483.3h0M857.4 434.5h0M974.7 478.2h0M957.2 482.4h0M953.2 430.7h0M979.3 503.4h0M593.8 576.2h0M809.8 373.0h0M996.5 497.0h0M783.0 402.8h0M693.1 528.3h0M903.8 491.8h0M921.3 341.3h0M915.3 389.8h0M864.4 485.6h0M773.5 353.1h0M681.3 351.0h0M896.0 516.0h0M860.2 493.1h0M807.7 376.6h0M1039.9 513.3h0M793.6 504.2h0M856.9 487.8h0M761.9 401.1h0M1030.4 477.3h0M989.5 418.9h0M858.7 497.7h0M824.2 389.4h0M1034.5 505.6h0M894.1 494.4h0M904.7 392.4h0M834.7 544.8h0M901.8 402.1h0M765.5 382.4h0M681.0 576.7h0M953.1 515.2h0M532.1 267.7h0M770.0 421.3h0M1007.1 436.0h0M1017.3 476.9h0M974.8 509.8h0M935.1 480.6h0M848.8 507.7h0M822.9 349.0h0M1101.7 394.8h0M858.3 486.4h0M721.2 282.3h0M900.7 396.1h0M742.1 403.8h0M1001.9 509.4h0M765.1 407.6h0M1010.2 489.0h0M780.3 411.8h0M649.4 380.6h0M940.4 508.4h0M565.0 424.6h0M958.8 416.0h0M588.3 491.2h0M938.7 496.3h0M915.6 503.7h0M1050.9 428.2h0M1079.7 497.2h0M842.2 410.5h0M693.1 570.0h0M939.8 496.6h0M1055.9 505.5h0M797.3 492.9h0M584.8 328.1h0M1015.6 387.7h0M887.4 438.4h0M820.6 404.6h0M770.5 398.8h0M707.5 288.6h0M903.3 537.2h0M865.3 392.6h0M759.3 412.7h0M905.6 526.8h0M940.4 385.2h0M867.8 365.9h0M905.2 510.8h0M982.0 527.2h0M1032.3 439.7h0M953.3 524.2h0M1005.4 494.9h0M971.8 508.9h0M934.5 386.3h0M859.8 546.5h0M583.8 298.1h0M737.4 401.6h0M1025.2 475.9h0M969.8 523.1h0M1000.7 527.6h0M829.6 406.6h0M749.9 314.6h0M599.6 594.0h0M869.4 498.7h0M765.8 388.7h0M916.0 371.6h0M1065.9 506.7h0M801.6 412.1h0M920.9 399.2h0M864.3 492.1h0M860.7 397.3h0M1031.9 500.5h0M906.3 491.6h0M920.1 417.4h0M972.8 432.8h0M1091.4 508.9h0M995.7 499.7h0M888.8 380.7h0M924.7 486.8h0M886.1 430.0h0M988.0 491.3h0M804.1 388.5h0M945.5 482.8h0M851.3 414.9h0M784.4 392.3h0M865.7 432.1h0M1047.6 519.1h0M926.2 516.9h0M672.9 366.2h0M905.2 364.3h0M897.1 487.2h0M1001.7 484.3h0M946.0 439.8h0M934.9 389.5h0M828.5 494.3h0M758.3 371.4h0M933.6 530.9h0M1093.5 424.2h0M1082.3 398.3h0M950.8 422.9h0M930.4 419.8h0M976.5 538.9h0M871.8 360.4h0M560.8 431.9h0M999.6 494.7h0M759.3 413.9h0M734.3 375.7h0M931.6 439.1h0M879.8 432.4h0M873.9 431.3h0M975.8 524.4h0M817.7 418.3h0M1090.4 506.8h0M666.8 418.8h0M909.0 489.2h0M734.7 419.6h0M1077.7 481.0h0M675.0 314.7h0M915.5 542.6h0M586.8 728.9h0M890.8 502.1h0M784.5 407.1h0M802.7 541.5h0M949.0 487.5h0M811.2 378.4h0M943.3 429.4h0M906.9 417.4h0M864.3 492.4h0M649.2 310.3h0M869.0 344.1h0M975.0 479.1h0M858.5 403.8h0M775.0 413.0h0M871.6 430.5h0M728.9 386.8h0M834.2 392.4h0M850.1 504.4h0M767.9 428.7h0M994.7 477.2h0M827.7 435.7h0M764.1 399.6h0M820.3 419.6h0M796.1 414.4h0M737.0 377.5h0M752.2 390.2h0M1025.8 507.6h0M1056.7 478.6h0M953.8 563.3h0M918.3 414.2h0M1002.9 490.4h0M762.1 392.4h0M929.2 482.1h0M706.7 260.0h0M875.6 504.4h0M872.4 379.7h0M1050.1 484.7h0M1046.1 504.2h0M849.8 501.8h0M625.7 339.4h0M883.2 359.2h0M935.1 493.5h0M929.0 432.9h0M889.8 437.7h0M976.3 425.5h0M905.3 417.8h0M787.5 532.5h0M998.8 441.1h0M761.5 326.1h0M916.4 489.5h0M904.4 500.7h0M871.5 512.2h0M736.3 400.4h0M596.9 406.4h0M898.9 430.1h0M853.4 390.3h0M860.1 510.2h0M1053.5 484.2h0M945.5 518.1h0M931.3 499.7h0M635.7 668.2h0M1066.7 420.6h0M858.4 403.0h0M958.2 433.2h0M955.4 480.8h0M1021.5 437.8h0M844.2 499.0h0M902.7 403.6h0M1021.5 524.3h0M995.7 515.8h0M869.3 437.1h0M672.6 344.9h0M662.5 317.0h0M962.1 541.5h0M913.3 516.8h0M762.9 394.0h0M869.5 349.5h0M927.5 433.3h0M837.4 422.2h0M790.4 414.8h0M716.7 593.3h0M820.5 422.0h0M918.3 486.0h0M908.7 490.7h0M1080.2 515.7h0M766.7 318.2h0M736.5 376.9h0M827.3 488.9h0M926.4 543.6h0M622.9 511.0h0M737.3 310.3h0M974.0 375.6h0M742.5 426.0h0M898.2 420.8h0M951.5 489.4h0M894.9 492.2h0M1000.0 492.6h0M957.8 489.8h0M961.4 526.9h0M897.2 516.4h0M718.3 339.5h0M887.2 439.6h0M1029.5 517.0h0M862.3 408.7h0M834.4 429.3h0M918.2 402.2h0M1065.8 507.8h0M970.7 541.4h0M768.6 368.1h0M891.7 420.6h0M811.1 377.3h0M981.9 489.4h0M903.2 522.2h0M786.0 522.9h0M1033.0 509.9h0M894.6 389.4h0M942.5 481.4h0M880.0 506.0h0M943.9 486.2h0M1026.2 479.5h0M963.8 530.7h0M872.9 384.8h0M881.9 519.1h0M716.5 387.9h0M778.2 429.0h0M492.5 476.7h0M1052.3 478.1h0M1111.0 509.8h0M762.9 388.9h0M880.6 337.2h0M1022.1 516.2h0M723.6 416.6h0M865.4 512.1h0M1026.2 501.1h0M911.6 414.2h0M921.4 489.4h0M754.1 366.8h0M809.2 396.7h0M848.6 372.6h0M895.6 507.0h0M831.5 423.5h0M811.0 493.0h0M831.1 423.9h0M878.8 391.3h0M1013.3 424.1h0M954.3 525.8h0M1007.2 500.3h0M762.8 518.2h0M970.3 415.2h0M854.4 556.0h0M1013.8 502.3h0M943.6 490.1h0M943.6 496.0h0M827.9 396.0h0M922.9 413.7h0M844.5 358.0h0M743.1 329.5h0M770.5 428.0h0M927.2 490.6h0M904.6 397.9h0M1006.1 524.8h0M872.7 501.5h0M838.7 412.3h0M934.3 481.7h0M897.3 429.5h0M853.0 383.6h0M754.3 380.5h0M857.7 425.8h0M982.0 482.5h0M552.5 428.8h0M1026.2 505.0h0M971.4 532.5h0M808.5 529.4h0M863.1 490.6h0M844.7 424.0h0M875.0 392.9h0M872.4 534.0h0M962.2 477.2h0M760.3 405.5h0M730.5 395.4h0M901.2 500.9h0M862.9 425.8h0M1004.2 419.4h0M781.9 517.4h0M1013.1 512.6h0M634.1 333.2h0M949.0 520.4h0M815.4 370.6h0M894.2 502.1h0M1079.4 515.3h0M883.4 492.6h0M812.4 380.8h0M734.2 330.0h0M954.1 526.0h0M1026.7 499.5h0M890.1 492.6h0M869.1 391.8h0M769.7 374.6h0M627.9 547.5h0M904.0 527.0h0M1028.6 481.7h0M953.1 538.3h0M795.8 517.7h0M909.6 554.0h0M943.4 490.2h0M871.4 516.8h0M859.3 491.3h0M950.3 434.0h0M836.4 542.7h0M937.3 527.5h0M1079.4 446.2h0M823.4 382.9h0M990.1 387.1h0M891.2 492.6h0M1074.1 486.6h0M957.5 525.8h0M884.8 317.3h0M1028.2 509.2h0M934.9 536.1h0M783.4 422.6h0M820.6 411.1h0M644.7 415.1h0M1031.1 515.5h0M947.8 411.3h0M695.2 552.7h0M832.6 349.9h0M1157.9 336.0h0M1066.9 518.2h0M648.3 604.2h0M797.9 398.5h0M869.1 417.4h0M875.5 415.5h0M900.7 390.4h0M797.0 402.8h0M972.1 440.0h0M972.9 480.0h0M1132.9 386.2h0M888.7 525.0h0M707.5 362.8h0M912.6 529.5h0M977.6 378.9h0M758.0 378.8h0M850.7 485.0h0M1050.3 503.5h0M770.3 406.1h0M876.5 396.5h0M836.7 432.5h0M875.2 501.8h0M873.5 485.9h0M897.1 532.9h0M953.0 500.7h0M731.3 519.8h0M836.2 405.6h0M806.4 516.3h0M951.5 504.4h0M922.0 409.1h0M1027.2 505.0h0M988.1 494.9h0M959.4 394.0h0M953.6 503.9h0M726.7 512.7h0M884.2 516.4h0M891.5 529.8h0M857.1 391.5h0M933.2 520.8h0M829.6 410.2h0M667.1 516.2h0M740.2 424.2h0M923.4 372.2h0M589.6 495.8h0M922.7 506.1h0M962.2 430.7h0M908.6 497.7h0M734.0 382.0h0M643.1 521.5h0M736.1 308.4h0M752.7 283.4h0M885.8 506.6h0M830.8 429.9h0M943.6 502.5h0M877.8 483.1h0M794.5 358.8h0M818.2 423.3h0M927.0 436.1h0M840.2 503.3h0M813.5 488.0h0M1088.7 475.2h0M927.3 493.5h0M668.5 277.1h0M914.0 407.8h0M915.9 393.4h0M942.4 506.8h0M755.4 414.1h0M990.6 530.0h0M788.6 429.0h0M979.5 502.5h0M856.1 506.2h0M890.8 483.9h0M978.2 478.7h0M892.1 438.0h0M886.1 507.4h0M962.2 442.1h0M917.6 399.8h0M885.4 518.1h0M904.4 433.9h0M689.5 407.5h0M920.2 353.6h0M900.7 546.9h0M905.8 428.1h0M978.3 541.6h0M983.4 481.4h0M990.0 493.3h0M926.6 541.4h0M807.5 393.1h0M737.7 393.4h0M692.9 409.7h0"/>
<path class="g" d="M527.8 443.7h0M445.5 451.0h0M712.3 427.3h0M624.1 426.2h0M463.2 449.2h0M504.8 443.8h0M542.5 438.0h0M645.3 422.7h0M545.7 440.1h0M683.4 422.6h0M689.5 424.3h0M664.0 422.2h0M550.4 436.9h0M601.6 427.0h0M538.3 441.8h0M584.1 433.0h0M424.9 453.3h0M464.8 449.3h0M588.5 431.4h0M709.9 425.0h0M629.1 422.2h0M497.1 446.1h0M513.5 444.6h0M567.2 434.7h0M503.5 447.8h0M739.7 431.0h0M452.8 449.3h0M438.3 451.5h0M594.5 431.0h0M439.5 448.9h0M504.2 447.1h0M474.4 448.7h0M711.7 428.3h0M586.4 430.2h0M567.9 435.4h0M520.7 445.2h0M647.0 421.8h0M493.5 445.1h0M679.5 425.7h0M526.5 442.0h0M633.1 421.7h0M662.0 422.4h0M632.5 421.7h0M466.4 450.0h0M441.6 450.3h0M544.8 438.3h0M632.9 425.2h0M722.6 430.6h0M656.8 421.8h0M433.8 450.5h0M600.0 430.1h0M643.4 422.9h0M552.5 438.9h0M532.7 439.8h0M570.0 436.2h0M744.5 431.7h0M519.8 443.6h0M576.8 435.0h0M536.3 442.3h0M662.6 423.9h0M427.7 450.9h0M668.9 425.7h0M482.5 449.4h0M461.6 447.6h0M464.7 450.4h0M568.9 433.0h0M695.9 427.4h0M610.4 425.7h0M575.0 434.5h0M712.8 427.4h0M543.9 441.0h0M544.8 437.5h0M469.5 447.8h0M513.7 442.6h0M524.1 444.1h0M684.0 422.8h0M691.5 423.6h0M444.5 450.0h0M563.9 437.7h0M595.1 429.6h0M528.5 440.6h0M568.0 433.1h0M481.7 447.3h0M649.6 421.3h0M503.7 444.6h0M498.7 444.4h0M498.6 447.1h0M680.7 424.8h0M726.9 429.7h0M482.0 449.8h0M675.1 422.9h0M641.6 425.4h0M741.7 428.4h0M680.0 422.5h0M582.0 431.5h0M502.5 447.2h0M421.3 450.5h0M623.6 425.7h0M509.4 447.0h0M478.7 447.3h0M590.4 428.5h0M467.7 450.2h0M579.3 433.9h0M644.1 423.7h0M606.4 429.2h0M490.7 447.9h0M677.4 426.1h0M446.6 450.4h0M559.3 434.6h0M649.5 424.2h0M568.5 433.9h0M473.4 448.6h0M639.9 421.4h0M554.3 438.3h0M436.1 453.4h0M662.0 424.5h0M637.6 423.6h0M531.5 439.5h0M487.0 449.7h0M718.0 428.1h0M724.4 430.7h0M426.2 452.0h0M734.7 431.8h0M675.9 424.9h0M478.5 448.0h0M719.6 428.1h0M567.0 435.3h0M733.3 430.3h0M733.6 427.4h0M643.1 421.2h0M529.7 441.4h0M477.4 447.3h0M479.5 449.6h0M508.5 444.7h0M610.5 427.0h0M678.7 424.7h0M444.4 449.6h0M500.5 444.1h0M542.8 439.9h0M611.9 424.1h0M619.9 425.2h0M423.7 452.7h0M538.9 438.8h0M434.4 451.0h0M588.6 429.4h0M425.1 454.2h0M446.1 449.6h0M639.1 422.7h0M557.2 434.8h0M619.8 424.0h0M649.3 420.8h0M531.1 442.4h0M567.1 434.6h0M700.2 423.9h0M624.3 423.0h0M473.0 450.2h0M730.5 430.0h0M603.5 425.9h0M587.5 431.6h0M703.4 427.4h0M436.8 449.6h0M450.7 448.7h0M615.5 425.0h0M460.7 448.2h0M501.6 445.3h0M652.4 422.4h0M671.8 423.3h0M546.9 437.0h0M726.2 429.6h0M423.4 451.0h0M503.1 475.9h0M500.9 473.7h0M575.3 482.8h0M525.6 479.5h0M486.9 470.1h0M735.8 493.5h0M682.6 492.7h0M485.5 470.1h0M480.0 470.5h0M573.9 482.4h0M728.5 490.7h0M556.7 483.8h0M632.3 496.9h0M633.5 493.4h0M731.0 489.8h0M477.6 469.7h0M573.1 483.4h0M679.4 492.5h0M638.1 492.8h0M421.0 468.6h0M637.4 495.8h0M567.6 484.6h0M550.2 481.2h0M461.8 469.8h0M684.8 496.0h0M461.8 467.8h0M575.9 484.4h0M428.5 465.1h0M680.1 491.9h0M477.0 470.5h0M711.8 492.0h0M632.8 495.9h0M432.9 469.9h0M687.9 492.4h0M741.9 492.1h0M584.9 487.1h0M552.1 479.4h0M699.7 494.4h0M582.2 484.3h0M555.8 481.4h0M688.4 494.5h0M515.5 475.6h0M609.2 490.6h0M566.4 481.6h0M608.9 491.0h0M420.8 468.0h0M687.6 494.2h0M614.1 492.1h0M744.4 493.3h0M681.2 494.6h0M672.0 493.8h0M533.4 480.1h0M544.6 482.3h0M735.9 490.8h0M652.4 494.8h0M471.7 469.1h0M516.1 474.4h0M442.9 468.0h0M715.3 491.8h0M579.4 486.8h0M601.2 488.8h0M522.1 475.7h0M424.5 467.6h0M512.7 474.9h0M470.6 469.1h0M621.6 492.0h0M538.8 480.1h0M531.0 477.7h0M487.4 470.7h0M531.2 478.2h0M657.0 496.6h0M607.3 491.0h0M487.1 471.2h0M511.1 473.5h0M536.5 476.6h0M507.3 474.9h0M675.2 494.2h0M470.0 469.1h0M439.9 469.1h0M482.2 474.0h0M731.6 493.6h0M721.0 493.5h0M644.1 495.5h0M527.3 476.9h0M444.4 470.6h0M466.2 468.9h0M701.5 494.6h0M586.1 487.1h0M644.4 495.3h0M496.1 474.8h0M607.7 489.1h0M591.0 489.4h0M668.7 495.8h0M594.3 488.4h0M695.9 492.0h0M665.3 495.0h0M723.5 491.9h0M629.1 494.3h0M684.1 495.5h0M663.4 495.9h0M434.6 465.6h0M441.7 470.3h0M691.3 492.5h0M605.5 488.8h0M479.7 472.5h0M487.4 473.2h0M639.1 495.8h0M572.1 485.5h0M552.3 479.2h0M462.4 469.1h0M531.5 480.4h0M599.7 491.2h0M611.2 490.8h0M592.2 489.6h0M698.5 493.3h0M723.9 490.3h0M639.8 495.2h0M516.5 477.0h0M603.8 490.4h0M524.6 478.0h0M735.7 493.6h0M625.4 493.3h0M514.8 476.3h0M528.6 478.9h0M528.2 475.6h0M464.2 472.1h0M624.6 493.1h0M452.8 469.0h0M665.1 496.1h0M694.5 494.6h0M718.8 492.5h0M623.4 494.1h0M657.8 494.4h0M500.2 473.2h0M576.8 484.1h0M545.9 481.7h0M469.0 472.9h0M738.3 493.8h0M599.5 490.9h0M427.3 465.7h0M633.5 495.6h0M469.6 470.9h0M462.9 469.1h0M649.8 492.7h0M647.3 494.5h0M716.2 492.8h0M598.9 487.9h0M435.3 470.2h0M725.0 493.3h0M733.0 492.2h0M452.2 469.9h0M573.8 485.0h0M438.6 469.6h0M425.4 467.2h0M666.1 493.4h0M424.5 467.3h0M561.2 481.8h0M446.3 466.8h0M722.7 490.4h0M669.1 492.4h0M606.6 489.4h0M595.3 490.4h0M587.0 484.9h0M727.4 491.5h0M546.5 478.3h0M487.2 472.4h0M573.0 486.6h0M480.1 470.8h0M633.0 493.3h0M477.8 473.5h0"/>
<path d="M482.3 174.79l4.45 7.7h-8.9zM503.5 174.79l4.45 7.7h-8.9zM522.9 174.79l4.45 7.7h-8.9zM525.8 174.79l4.45 7.7h-8.9zM535.4 174.79l4.45 7.7h-8.9zM541.5 174.79l4.45 7.7h-8.9zM549.4 174.79l4.45 7.7h-8.9zM557.7 174.79l4.45 7.7h-8.9zM584.8 174.79l4.45 7.7h-8.9zM590.4 174.79l4.45 7.7h-8.9zM659.2 174.79l4.45 7.7h-8.9zM768.5 174.79l4.45 7.7h-8.9zM1130.4 174.79l4.45 7.7h-8.9zM521.8 746.81l4.45 -7.7h-8.9zM542.5 746.81l4.45 -7.7h-8.9zM566.8 746.81l4.45 -7.7h-8.9zM604.3 746.81l4.45 -7.7h-8.9zM725.7 746.81l4.45 -7.7h-8.9z" fill="none" stroke="#00f" stroke-width="2" stroke-linejoin="round"/>
</g>
<rect x="157.44" y="157.44" width="1105.92" height="606.72" fill="none" stroke="#000" stroke-width="2" stroke-linejoin="round"/>
<path d="M215.10 764.16v19.2M386.63 764.16v19.2M558.16 764.16v19.2M729.69 764.16v19.2M901.22 764.16v19.2M1072.75 764.16v19.2M1244.28 764.16v19.2M157.44 741.68h-19.2M157.44 601.24h-19.2M157.44 460.80h-19.2M157.44 320.36h-19.2M157.44 179.92h-19.2" stroke="#000" stroke-width="2" stroke-linecap="round" fill="none"/>
<text x="215.10" y="833.8" text-anchor="middle" font-family="'Liberation Sans',Arial,Helvetica,sans-serif" font-size="32" fill="#000">1e-01</text>
<text x="386.63" y="833.8" text-anchor="middle" font-family="'Liberation Sans',Arial,Helvetica,sans-serif" font-size="32" fill="#000">1e+00</text>
<text x="558.16" y="833.8" text-anchor="middle" font-family="'Liberation Sans',Arial,Helvetica,sans-serif" font-size="32" fill="#000">1e+01</text>
<text x="729.69" y="833.8" text-anchor="middle" font-family="'Liberation Sans',Arial,Helvetica,sans-serif" font-size="32" fill="#000">1e+02</text>
<text x="901.22" y="833.8" text-anchor="middle" font-family="'Liberation Sans',Arial,Helvetica,sans-serif" font-size="32" fill="#000">1e+03</text>
<text x="1072.75" y="833.8" text-anchor="middle" font-family="'Liberation Sans',Arial,Helvetica,sans-serif" font-size="32" fill="#000">1e+04</text>
<text x="1244.28" y="833.8" text-anchor="middle" font-family="'Liberation Sans',Arial,Helvetica,sans-serif" font-size="32" fill="#000">1e+05</text>
<text transform="translate(111 741.68) rotate(-90)" text-anchor="middle" font-family="'Liberation Sans',Arial,Helvetica,sans-serif" font-size="32" fill="#000">-2</text>
<text transform="translate(111 601.24) rotate(-90)" text-anchor="middle" font-family="'Liberation Sans',Arial,Helvetica,sans-serif" font-size="32" fill="#000">-1</text>
<text transform="translate(111 460.80) rotate(-90)" text-anchor="middle" font-family="'Liberation Sans',Arial,Helvetica,sans-serif" font-size="32" fill="#000">0</text>
<text transform="translate(111 320.36) rotate(-90)" text-anchor="middle" font-family="'Liberation Sans',Arial,Helvetica,sans-serif" font-size="32" fill="#000">1</text>
<text transform="translate(111 179.92) rotate(-90)" text-anchor="middle" font-family="'Liberation Sans',Arial,Helvetica,sans-serif" font-size="32" fill="#000">2</text>
<text x="710.4" y="910.6" text-anchor="middle" font-family="'Liberation Sans',Arial,Helvetica,sans-serif" font-size="32" fill="#000">mean of normalized counts</text>
<text transform="translate(34.6 460.8) rotate(-90)" text-anchor="middle" font-family="'Liberation Sans',Arial,Helvetica,sans-serif" font-size="32" fill="#000">log fold change</text>
<path d="M157.44 460.8H1263.36" stroke="#555" stroke-width="8" fill="none"/>
</svg></body></html>
